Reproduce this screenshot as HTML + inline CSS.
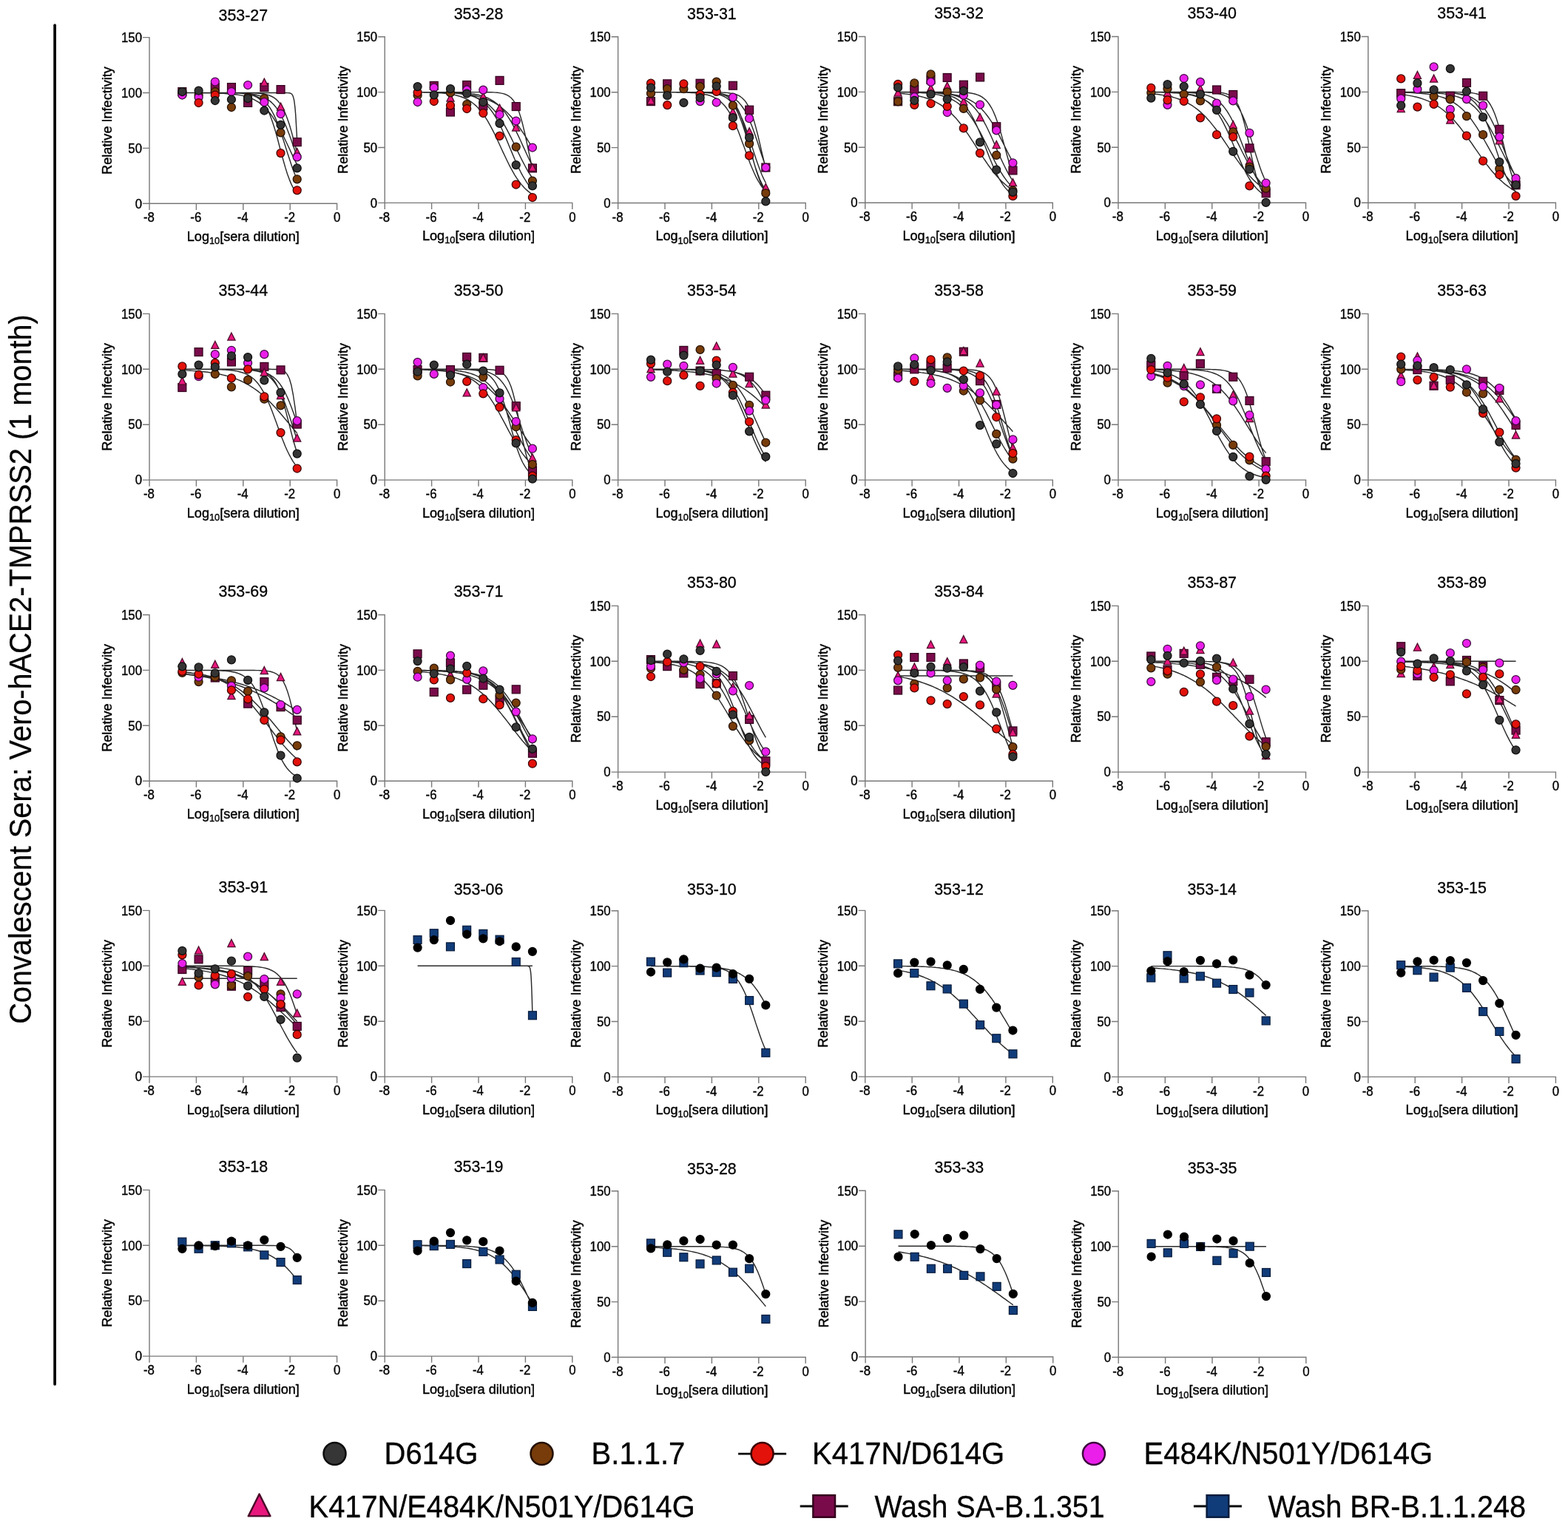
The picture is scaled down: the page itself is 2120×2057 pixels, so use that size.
<!DOCTYPE html>
<html lang="en"><head><meta charset="utf-8"><title>Convalescent Sera: Vero-hACE2-TMPRSS2 (1 month)</title>
<style>html,body{margin:0;padding:0;background:#fff}body{width:2120px;height:2057px;overflow:hidden}svg{display:block}text{white-space:pre;stroke:#000;stroke-linejoin:round}</style>
</head><body>
<svg width="2120" height="2057" viewBox="0 0 2120 2057" font-family='"Liberation Sans", sans-serif' fill="#000">
<rect width="2120" height="2057" fill="#fff"/>
<g>
<text transform="translate(328.8 28.4) scale(0.9434 1)" font-size="22.68" stroke-width="0.32" text-anchor="middle">353-27</text>
<path d="M202 49.9V275.3H456.3M193 275.3H202M193 200.4H202M193 125.5H202M193 50.6H202M202 275.3V283.9M265.4 275.3V283.9M328.8 275.3V283.9M392.2 275.3V283.9M455.6 275.3V283.9" fill="none" stroke="#787878" stroke-width="1.4"/>
<text transform="translate(192 281.5) scale(0.9615 1)" font-size="17.47" stroke-width="0.38" text-anchor="end">0</text>
<text transform="translate(192 206.6) scale(0.9615 1)" font-size="17.47" stroke-width="0.38" text-anchor="end">50</text>
<text transform="translate(192 131.7) scale(0.9615 1)" font-size="17.47" stroke-width="0.38" text-anchor="end">100</text>
<text transform="translate(192 56.8) scale(0.9615 1)" font-size="17.47" stroke-width="0.38" text-anchor="end">150</text>
<text transform="translate(201.4 300.4) scale(0.9615 1)" font-size="17.47" stroke-width="0.38" text-anchor="middle">-8</text>
<text transform="translate(264.8 300.4) scale(0.9615 1)" font-size="17.47" stroke-width="0.38" text-anchor="middle">-6</text>
<text transform="translate(328.2 300.4) scale(0.9615 1)" font-size="17.47" stroke-width="0.38" text-anchor="middle">-4</text>
<text transform="translate(391.6 300.4) scale(0.9615 1)" font-size="17.47" stroke-width="0.38" text-anchor="middle">-2</text>
<text transform="translate(455.6 300.4) scale(0.9615 1)" font-size="17.47" stroke-width="0.38" text-anchor="middle">0</text>
<text transform="translate(328.8 325.7) scale(0.9434 1)" font-size="19.19" stroke-width="0.42" text-anchor="middle">Log<tspan font-size="13.57" dy="4.6">10</tspan><tspan dy="-4.6">[sera dilution]</tspan></text>
<text transform="translate(151.4 163) rotate(-90) scale(0.9434 1)" font-size="19.19" stroke-width="0.42" text-anchor="middle">Relative Infectivity</text>
<path d="M246.4 125.5L249 125.5L251.6 125.5L254.3 125.5L256.9 125.5L259.5 125.5L262.2 125.5L264.8 125.5L267.4 125.5L270.1 125.5L272.7 125.5L275.3 125.5L278 125.5L280.6 125.5L283.2 125.5L285.9 125.5L288.5 125.5L291.1 125.5L293.8 125.5L296.4 125.5L299 125.5L301.7 125.5L304.3 125.5L306.9 125.5L309.6 125.5L312.2 125.5L314.8 125.5L317.5 125.5L320.1 125.5L322.7 125.5L325.4 125.5L328 125.5L330.6 125.5L333.3 125.5L335.9 125.5L338.5 125.5L341.2 125.5L343.8 125.5L346.4 125.5L349.1 125.5L351.7 125.5L354.3 125.5L357 125.5L359.6 125.5L362.2 125.5L364.9 125.5L367.5 125.5L370.1 125.5L370.4 125.5L370.9 125.5L371.5 125.5L372 125.5L372.5 125.5L372.8 125.5L373 125.5L373.6 125.5L374.1 125.5L374.6 125.5L375.2 125.5L375.4 125.5L375.7 125.5L376.2 125.5L376.8 125.5L377.3 125.5L377.8 125.5L378 125.5L378.4 125.5L378.9 125.5L379.4 125.5L379.9 125.5L380.5 125.5L380.6 125.5L381 125.5L381.5 125.5L382.1 125.5L382.6 125.5L383.1 125.5L383.3 125.5L383.7 125.5L384.2 125.5L384.7 125.5L385.3 125.5L385.8 125.5L385.9 125.5L386.3 125.5L386.8 125.5L387.4 125.5L387.9 125.5L388.4 125.6L388.5 125.6L389 125.6L389.5 125.6L390 125.6L390.6 125.7L391.1 125.8L391.2 125.8L391.6 125.8L392.2 126L392.7 126.1L393.2 126.4L393.7 126.7L393.8 126.7L394.3 127.1L394.8 127.6L395.3 128.4L395.9 129.4L396.4 130.8L396.4 130.9L396.9 132.6L397.5 135L398 138.2L398.5 142.3L399.1 147.4L399.1 147.7L399.6 153.8L400.1 161.6L400.6 170.7L401.2 181L401.7 192.2M246.4 125.5L249 125.5L251.6 125.5L254.3 125.5L256.9 125.5L259.5 125.5L262.2 125.5L264.8 125.5L267.4 125.5L270.1 125.5L272.7 125.5L275.3 125.5L278 125.5L280.6 125.5L283.2 125.5L285.9 125.5L288.5 125.5L291.1 125.5L293.8 125.5L296.4 125.5L299 125.5L301.7 125.5L304.3 125.5L306.9 125.5L309.6 125.5L312.2 125.5L314.8 125.5L317.5 125.5L320.1 125.5L322.7 125.5L325.4 125.6L328 125.6L330.6 125.6L333.3 125.6L335.9 125.7L338.5 125.8L341.2 125.8L343.8 125.9L346.4 126.1L349.1 126.3L351.7 126.5L354.3 126.8L357 127.2L359.6 127.7L362.2 128.4L364.9 129.3L367.5 130.5L370.1 131.9L372.8 133.9L375.4 136.3L378 139.4L380.6 143.2L383.3 147.9L385.9 153.7L388.5 160.5L391.2 168.3L393.8 177.1L396.4 186.7L399.1 196.8L401.7 207.1M246.4 125.5L249 125.5L251.6 125.5L254.3 125.5L256.9 125.5L259.5 125.5L262.2 125.5L264.8 125.5L267.4 125.5L270.1 125.5L272.7 125.5L275.3 125.5L278 125.5L280.6 125.5L283.2 125.5L285.9 125.5L288.5 125.5L291.1 125.5L293.8 125.6L296.4 125.6L299 125.6L301.7 125.6L304.3 125.6L306.9 125.7L309.6 125.7L312.2 125.8L314.8 125.8L317.5 125.9L320.1 126L322.7 126.1L325.4 126.3L328 126.5L330.6 126.8L333.3 127.1L335.9 127.5L338.5 127.9L341.2 128.6L343.8 129.3L346.4 130.2L349.1 131.4L351.7 132.8L354.3 134.5L357 136.6L359.6 139.1L362.2 142.1L364.9 145.7L367.5 150L370.1 154.9L372.8 160.6L375.4 167L378 174L380.6 181.6L383.3 189.7L385.9 198L388.5 206.4L391.2 214.6L393.8 222.5L396.4 229.9L399.1 236.7L401.7 242.7M246.4 125.5L249 125.5L251.6 125.5L254.3 125.5L256.9 125.5L259.5 125.5L262.2 125.5L264.8 125.5L267.4 125.5L270.1 125.5L272.7 125.5L275.3 125.5L278 125.5L280.6 125.5L283.2 125.5L285.9 125.5L288.5 125.5L291.1 125.5L293.8 125.5L296.4 125.6L299 125.6L301.7 125.6L304.3 125.6L306.9 125.6L309.6 125.7L312.2 125.7L314.8 125.8L317.5 125.8L320.1 125.9L322.7 126L325.4 126.1L328 126.2L330.6 126.4L333.3 126.5L335.9 126.8L338.5 127.1L341.2 127.4L343.8 127.8L346.4 128.3L349.1 129L351.7 129.7L354.3 130.6L357 131.8L359.6 133.1L362.2 134.7L364.9 136.6L367.5 138.9L370.1 141.6L372.8 144.7L375.4 148.4L378 152.6L380.6 157.4L383.3 162.8L385.9 168.8L388.5 175.3L391.2 182.2L393.8 189.5L396.4 197.1L399.1 204.7L401.7 212.2M246.4 125.5L249 125.5L251.6 125.5L254.3 125.5L256.9 125.5L259.5 125.5L262.2 125.5L264.8 125.5L267.4 125.5L270.1 125.5L272.7 125.5L275.3 125.5L278 125.5L280.6 125.5L283.2 125.5L285.9 125.5L288.5 125.5L291.1 125.5L293.8 125.5L296.4 125.5L299 125.5L301.7 125.6L304.3 125.6L306.9 125.6L309.6 125.6L312.2 125.7L314.8 125.7L317.5 125.8L320.1 125.9L322.7 126L325.4 126.2L328 126.4L330.6 126.6L333.3 127L335.9 127.4L338.5 128L341.2 128.8L343.8 129.8L346.4 131L349.1 132.6L351.7 134.7L354.3 137.3L357 140.5L359.6 144.5L362.2 149.4L364.9 155.3L367.5 162.2L370.1 170L372.8 178.8L375.4 188.3L378 198.2L380.6 208.1L383.3 217.8L385.9 226.9L388.5 235.2L391.2 242.6L393.8 248.9L396.4 254.2L399.1 258.6L401.7 262.2M246.4 125.5L249 125.5L251.6 125.6L254.3 125.6L256.9 125.6L259.5 125.6L262.2 125.6L264.8 125.6L267.4 125.6L270.1 125.6L272.7 125.7L275.3 125.7L278 125.7L280.6 125.8L283.2 125.8L285.9 125.9L288.5 125.9L291.1 126L293.8 126.1L296.4 126.2L299 126.3L301.7 126.4L304.3 126.5L306.9 126.7L309.6 126.9L312.2 127.1L314.8 127.4L317.5 127.7L320.1 128L322.7 128.4L325.4 128.9L328 129.4L330.6 130.1L333.3 130.8L335.9 131.6L338.5 132.6L341.2 133.6L343.8 134.9L346.4 136.3L349.1 137.9L351.7 139.8L354.3 141.8L357 144.2L359.6 146.8L362.2 149.7L364.9 152.9L367.5 156.4L370.1 160.3L372.8 164.5L375.4 169L378 173.8L380.6 178.9L383.3 184.2L385.9 189.7L388.5 195.3L391.2 200.9L393.8 206.6L396.4 212.1L399.1 217.6L401.7 222.9" fill="none" stroke="#2b2b2b" stroke-width="1.45" stroke-linejoin="round"/>
<g fill="#7a0b4b" stroke="#33001c" stroke-width="1.25" fill-opacity="1"><rect x="240.9" y="118.6" width="10.9" height="10.9"/><rect x="285.3" y="112.6" width="10.9" height="10.9"/><rect x="307.5" y="112.6" width="10.9" height="10.9"/><rect x="329.7" y="133.5" width="10.9" height="10.9"/><rect x="351.9" y="112.6" width="10.9" height="10.9"/><rect x="374.1" y="115.6" width="10.9" height="10.9"/><rect x="396.3" y="186.7" width="10.9" height="10.9"/></g>
<g fill="#e8177d" stroke="#4a0a28" stroke-width="1.25" fill-opacity="1"><path d="M357.3 106.1L362.4 116.2L352.2 116.2Z"/><path d="M379.5 139.1L384.6 149.2L374.4 149.2Z"/><path d="M401.7 200.5L406.8 210.6L396.6 210.6Z"/></g>
<g fill="#773c0a" stroke="#241000" stroke-width="1.25" fill-opacity="1"><circle cx="246.4" cy="125.5" r="5.5"/><circle cx="268.6" cy="128.5" r="5.5"/><circle cx="290.8" cy="124" r="5.5"/><circle cx="312.9" cy="145" r="5.5"/><circle cx="335.1" cy="131.5" r="5.5"/><circle cx="357.3" cy="133" r="5.5"/><circle cx="379.5" cy="179.4" r="5.5"/><circle cx="401.7" cy="242.3" r="5.5"/></g>
<g fill="#ea1fea" stroke="#3d0a3d" stroke-width="1.25" fill-opacity="1"><circle cx="246.4" cy="128.5" r="5.5"/><circle cx="268.6" cy="131.5" r="5.5"/><circle cx="290.8" cy="110.5" r="5.5"/><circle cx="312.9" cy="124" r="5.5"/><circle cx="335.1" cy="115" r="5.5"/><circle cx="357.3" cy="138.2" r="5.5"/><circle cx="379.5" cy="154" r="5.5"/><circle cx="401.7" cy="212.4" r="5.5"/></g>
<g fill="#e3120b" stroke="#3c0000" stroke-width="1.25" fill-opacity="1"><circle cx="268.6" cy="139" r="5.5"/><circle cx="290.8" cy="128.5" r="5.5"/><circle cx="379.5" cy="207.1" r="5.5"/><circle cx="401.7" cy="257.3" r="5.5"/></g>
<g fill="#343434" stroke="#0d0d0d" stroke-width="1.25" fill-opacity="1"><circle cx="246.4" cy="124" r="5.5"/><circle cx="268.6" cy="122.5" r="5.5"/><circle cx="290.8" cy="136" r="5.5"/><circle cx="312.9" cy="134.5" r="5.5"/><circle cx="335.1" cy="133" r="5.5"/><circle cx="357.3" cy="149.5" r="5.5"/><circle cx="379.5" cy="168.9" r="5.5"/><circle cx="401.7" cy="227.4" r="5.5"/></g>
</g>
<g>
<text transform="translate(647 26.3) scale(0.9434 1)" font-size="22.68" stroke-width="0.32" text-anchor="middle">353-28</text>
<path d="M520.2 49V274.4H774.5M511.2 274.4H520.2M511.2 199.5H520.2M511.2 124.6H520.2M511.2 49.7H520.2M520.2 274.4V283M583.6 274.4V283M647 274.4V283M710.4 274.4V283M773.8 274.4V283" fill="none" stroke="#787878" stroke-width="1.4"/>
<text transform="translate(510.2 280.6) scale(0.9615 1)" font-size="17.47" stroke-width="0.38" text-anchor="end">0</text>
<text transform="translate(510.2 205.7) scale(0.9615 1)" font-size="17.47" stroke-width="0.38" text-anchor="end">50</text>
<text transform="translate(510.2 130.8) scale(0.9615 1)" font-size="17.47" stroke-width="0.38" text-anchor="end">100</text>
<text transform="translate(510.2 55.9) scale(0.9615 1)" font-size="17.47" stroke-width="0.38" text-anchor="end">150</text>
<text transform="translate(519.6 299.5) scale(0.9615 1)" font-size="17.47" stroke-width="0.38" text-anchor="middle">-8</text>
<text transform="translate(583 299.5) scale(0.9615 1)" font-size="17.47" stroke-width="0.38" text-anchor="middle">-6</text>
<text transform="translate(646.4 299.5) scale(0.9615 1)" font-size="17.47" stroke-width="0.38" text-anchor="middle">-4</text>
<text transform="translate(709.8 299.5) scale(0.9615 1)" font-size="17.47" stroke-width="0.38" text-anchor="middle">-2</text>
<text transform="translate(773.8 299.5) scale(0.9615 1)" font-size="17.47" stroke-width="0.38" text-anchor="middle">0</text>
<text transform="translate(647 324.8) scale(0.9434 1)" font-size="19.19" stroke-width="0.42" text-anchor="middle">Log<tspan font-size="13.57" dy="4.6">10</tspan><tspan dy="-4.6">[sera dilution]</tspan></text>
<text transform="translate(469.6 162) rotate(-90) scale(0.9434 1)" font-size="19.19" stroke-width="0.42" text-anchor="middle">Relative Infectivity</text>
<path d="M564.6 124.6L567.2 124.6L569.8 124.6L572.5 124.6L575.1 124.6L577.7 124.6L580.4 124.6L583 124.6L585.6 124.6L588.3 124.6L590.9 124.6L593.5 124.6L596.2 124.6L598.8 124.6L601.4 124.6L604.1 124.6L606.7 124.6L609.3 124.6L612 124.6L614.6 124.6L617.2 124.6L619.9 124.6L622.5 124.6L625.1 124.6L627.8 124.6L630.4 124.6L633 124.6L635.7 124.6L638.3 124.6L640.9 124.6L643.6 124.6L646.2 124.6L648.8 124.6L651.5 124.6L654.1 124.6L656.7 124.7L659.4 124.7L662 124.8L664.6 124.8L667.3 124.9L669.9 125.1L672.5 125.3L675.2 125.6L677.8 126.1L680.4 126.6L683.1 127.5L685.7 128.6L688.3 130.2L691 132.3L693.6 135.2L696.2 139.1L698.8 144.1L701.5 150.6L704.1 158.7L706.7 168.3L709.4 179.5L712 191.6L714.6 204.2L717.3 216.6L719.9 228M564.6 124.6L567.2 124.6L569.8 124.6L572.5 124.6L575.1 124.6L577.7 124.6L580.4 124.6L583 124.6L585.6 124.7L588.3 124.7L590.9 124.7L593.5 124.7L596.2 124.8L598.8 124.8L601.4 124.8L604.1 124.9L606.7 124.9L609.3 125L612 125.1L614.6 125.1L617.2 125.2L619.9 125.4L622.5 125.5L625.1 125.7L627.8 125.8L630.4 126.1L633 126.3L635.7 126.6L638.3 126.9L640.9 127.3L643.6 127.8L646.2 128.3L648.8 129L651.5 129.7L654.1 130.5L656.7 131.5L659.4 132.5L662 133.8L664.6 135.3L667.3 136.9L669.9 138.8L672.5 140.9L675.2 143.3L677.8 146L680.4 149.1L683.1 152.4L685.7 156.1L688.3 160.2L691 164.5L693.6 169.3L696.2 174.3L698.8 179.6L701.5 185.1L704.1 190.8L706.7 196.6L709.4 202.4L712 208.2L714.6 213.8L717.3 219.4L719.9 224.6M564.6 124.6L567.2 124.7L569.8 124.7L572.5 124.7L575.1 124.7L577.7 124.7L580.4 124.8L583 124.8L585.6 124.9L588.3 124.9L590.9 125L593.5 125L596.2 125.1L598.8 125.2L601.4 125.3L604.1 125.4L606.7 125.5L609.3 125.7L612 125.8L614.6 126L617.2 126.3L619.9 126.5L622.5 126.9L625.1 127.2L627.8 127.6L630.4 128.1L633 128.6L635.7 129.3L638.3 130L640.9 130.8L643.6 131.7L646.2 132.8L648.8 134L651.5 135.4L654.1 136.9L656.7 138.7L659.4 140.7L662 142.9L664.6 145.4L667.3 148.2L669.9 151.2L672.5 154.6L675.2 158.3L677.8 162.2L680.4 166.5L683.1 171.1L685.7 175.9L688.3 180.9L691 186.2L693.6 191.5L696.2 197L698.8 202.4L701.5 207.9L704.1 213.2L706.7 218.4L709.4 223.5L712 228.3L714.6 232.8L717.3 237L719.9 241M564.6 124.7L567.2 124.7L569.8 124.8L572.5 124.8L575.1 124.8L577.7 124.9L580.4 124.9L583 124.9L585.6 125L588.3 125L590.9 125.1L593.5 125.2L596.2 125.2L598.8 125.3L601.4 125.4L604.1 125.5L606.7 125.6L609.3 125.8L612 125.9L614.6 126.1L617.2 126.3L619.9 126.5L622.5 126.7L625.1 126.9L627.8 127.2L630.4 127.5L633 127.9L635.7 128.3L638.3 128.7L640.9 129.2L643.6 129.8L646.2 130.4L648.8 131.1L651.5 131.8L654.1 132.7L656.7 133.6L659.4 134.6L662 135.8L664.6 137L667.3 138.4L669.9 139.9L672.5 141.5L675.2 143.4L677.8 145.3L680.4 147.5L683.1 149.8L685.7 152.3L688.3 155L691 157.8L693.6 160.9L696.2 164.2L698.8 167.6L701.5 171.2L704.1 175L706.7 178.9L709.4 182.9L712 187L714.6 191.3L717.3 195.5L719.9 199.8M564.6 124.8L567.2 124.8L569.8 124.8L572.5 124.9L575.1 124.9L577.7 125L580.4 125.1L583 125.2L585.6 125.3L588.3 125.4L590.9 125.5L593.5 125.7L596.2 125.9L598.8 126.1L601.4 126.4L604.1 126.6L606.7 127L609.3 127.4L612 127.8L614.6 128.4L617.2 129L619.9 129.7L622.5 130.5L625.1 131.5L627.8 132.5L630.4 133.8L633 135.2L635.7 136.8L638.3 138.7L640.9 140.7L643.6 143.1L646.2 145.7L648.8 148.7L651.5 151.9L654.1 155.5L656.7 159.4L659.4 163.7L662 168.3L664.6 173.2L667.3 178.3L669.9 183.7L672.5 189.3L675.2 195L677.8 200.7L680.4 206.4L683.1 212L685.7 217.5L688.3 222.8L691 227.9L693.6 232.6L696.2 237.1L698.8 241.2L701.5 245L704.1 248.4L706.7 251.6L709.4 254.4L712 256.9L714.6 259.1L717.3 261.1L719.9 262.8M564.6 124.6L567.2 124.6L569.8 124.6L572.5 124.6L575.1 124.6L577.7 124.7L580.4 124.7L583 124.7L585.6 124.7L588.3 124.8L590.9 124.8L593.5 124.9L596.2 124.9L598.8 125L601.4 125.1L604.1 125.2L606.7 125.3L609.3 125.4L612 125.6L614.6 125.8L617.2 126L619.9 126.2L622.5 126.6L625.1 126.9L627.8 127.3L630.4 127.8L633 128.4L635.7 129.1L638.3 130L640.9 130.9L643.6 132L646.2 133.3L648.8 134.9L651.5 136.6L654.1 138.6L656.7 140.9L659.4 143.6L662 146.6L664.6 150L667.3 153.8L669.9 158L672.5 162.6L675.2 167.6L677.8 173L680.4 178.7L683.1 184.7L685.7 190.9L688.3 197.2L691 203.6L693.6 209.9L696.2 216L698.8 221.9L701.5 227.6L704.1 232.8L706.7 237.7L709.4 242.2L712 246.3L714.6 250L717.3 253.2L719.9 256.1" fill="none" stroke="#2b2b2b" stroke-width="1.45" stroke-linejoin="round"/>
<g fill="#7a0b4b" stroke="#33001c" stroke-width="1.25" fill-opacity="1"><rect x="581.3" y="110.4" width="10.9" height="10.9"/><rect x="603.5" y="146.1" width="10.9" height="10.9"/><rect x="625.7" y="109.5" width="10.9" height="10.9"/><rect x="647.9" y="138" width="10.9" height="10.9"/><rect x="670.1" y="103.4" width="10.9" height="10.9"/><rect x="692.3" y="138.6" width="10.9" height="10.9"/><rect x="714.5" y="222" width="10.9" height="10.9"/></g>
<g fill="#e8177d" stroke="#4a0a28" stroke-width="1.25" fill-opacity="1"><path d="M609 126.9L614.1 137L603.9 137Z"/><path d="M653.3 125.1L658.4 135.2L648.2 135.2Z"/><path d="M675.5 141.1L680.6 151.2L670.4 151.2Z"/><path d="M697.7 167L702.8 177.1L692.6 177.1Z"/><path d="M719.9 221.3L725 231.4L714.8 231.4Z"/></g>
<g fill="#773c0a" stroke="#241000" stroke-width="1.25" fill-opacity="1"><circle cx="564.6" cy="129" r="5.5"/><circle cx="609" cy="125.4" r="5.5"/><circle cx="631.2" cy="141" r="5.5"/><circle cx="697.7" cy="198.6" r="5.5"/><circle cx="719.9" cy="244.5" r="5.5"/></g>
<g fill="#ea1fea" stroke="#3d0a3d" stroke-width="1.25" fill-opacity="1"><circle cx="564.6" cy="138" r="5.5"/><circle cx="586.8" cy="118.6" r="5.5"/><circle cx="631.2" cy="121.6" r="5.5"/><circle cx="653.3" cy="121.6" r="5.5"/><circle cx="675.5" cy="155" r="5.5"/><circle cx="697.7" cy="163.5" r="5.5"/><circle cx="719.9" cy="199.5" r="5.5"/></g>
<g fill="#e3120b" stroke="#3c0000" stroke-width="1.25" fill-opacity="1"><circle cx="564.6" cy="125" r="5.5"/><circle cx="586.8" cy="137" r="5.5"/><circle cx="609" cy="142.5" r="5.5"/><circle cx="631.2" cy="147" r="5.5"/><circle cx="653.3" cy="153" r="5.5"/><circle cx="675.5" cy="183.9" r="5.5"/><circle cx="697.7" cy="249.5" r="5.5"/><circle cx="719.9" cy="267" r="5.5"/></g>
<g fill="#343434" stroke="#0d0d0d" stroke-width="1.25" fill-opacity="1"><circle cx="564.6" cy="117.1" r="5.5"/><circle cx="586.8" cy="128.3" r="5.5"/><circle cx="609" cy="120.1" r="5.5"/><circle cx="631.2" cy="126.5" r="5.5"/><circle cx="653.3" cy="138" r="5.5"/><circle cx="675.5" cy="166.9" r="5.5"/><circle cx="697.7" cy="223.1" r="5.5"/><circle cx="719.9" cy="251.4" r="5.5"/></g>
</g>
<g>
<text transform="translate(962.4 26.3) scale(0.9434 1)" font-size="22.68" stroke-width="0.32" text-anchor="middle">353-31</text>
<path d="M835.6 49.1V274.5H1089.9M826.6 274.5H835.6M826.6 199.6H835.6M826.6 124.7H835.6M826.6 49.8H835.6M835.6 274.5V283.1M899 274.5V283.1M962.4 274.5V283.1M1025.8 274.5V283.1M1089.2 274.5V283.1" fill="none" stroke="#787878" stroke-width="1.4"/>
<text transform="translate(825.6 280.7) scale(0.9615 1)" font-size="17.47" stroke-width="0.38" text-anchor="end">0</text>
<text transform="translate(825.6 205.8) scale(0.9615 1)" font-size="17.47" stroke-width="0.38" text-anchor="end">50</text>
<text transform="translate(825.6 130.9) scale(0.9615 1)" font-size="17.47" stroke-width="0.38" text-anchor="end">100</text>
<text transform="translate(825.6 56) scale(0.9615 1)" font-size="17.47" stroke-width="0.38" text-anchor="end">150</text>
<text transform="translate(835 299.6) scale(0.9615 1)" font-size="17.47" stroke-width="0.38" text-anchor="middle">-8</text>
<text transform="translate(898.4 299.6) scale(0.9615 1)" font-size="17.47" stroke-width="0.38" text-anchor="middle">-6</text>
<text transform="translate(961.8 299.6) scale(0.9615 1)" font-size="17.47" stroke-width="0.38" text-anchor="middle">-4</text>
<text transform="translate(1025.2 299.6) scale(0.9615 1)" font-size="17.47" stroke-width="0.38" text-anchor="middle">-2</text>
<text transform="translate(1089.2 299.6) scale(0.9615 1)" font-size="17.47" stroke-width="0.38" text-anchor="middle">0</text>
<text transform="translate(962.4 324.9) scale(0.9434 1)" font-size="19.19" stroke-width="0.42" text-anchor="middle">Log<tspan font-size="13.57" dy="4.6">10</tspan><tspan dy="-4.6">[sera dilution]</tspan></text>
<text transform="translate(785 162.2) rotate(-90) scale(0.9434 1)" font-size="19.19" stroke-width="0.42" text-anchor="middle">Relative Infectivity</text>
<path d="M880 124.7L882.6 124.7L885.2 124.7L887.9 124.7L890.5 124.7L893.1 124.7L895.8 124.7L898.4 124.7L901 124.7L903.7 124.7L906.3 124.7L908.9 124.7L911.6 124.7L914.2 124.7L916.8 124.7L919.5 124.7L922.1 124.7L924.7 124.7L927.4 124.7L930 124.7L932.6 124.7L935.3 124.7L937.9 124.7L940.5 124.7L943.2 124.7L945.8 124.7L948.4 124.7L951.1 124.7L953.7 124.7L956.3 124.7L959 124.7L961.6 124.8L964.2 124.8L966.9 124.8L969.5 124.9L972.1 124.9L974.8 125L977.4 125.1L980 125.2L982.7 125.4L985.3 125.7L987.9 126.1L990.6 126.5L993.2 127.2L995.8 128L998.5 129.2L1001.1 130.7L1003.7 132.7L1006.4 135.4L1009 138.8L1011.6 143.2L1014.2 148.7L1016.9 155.5L1019.5 163.6L1022.1 172.9L1024.8 183.4L1027.4 194.5L1030 205.9L1032.7 217L1035.3 227.3M880 124.7L882.6 124.7L885.2 124.7L887.9 124.7L890.5 124.7L893.1 124.7L895.8 124.7L898.4 124.7L901 124.7L903.7 124.7L906.3 124.7L908.9 124.7L911.6 124.7L914.2 124.7L916.8 124.7L919.5 124.7L922.1 124.8L924.7 124.8L927.4 124.8L930 124.8L932.6 124.8L935.3 124.9L937.9 124.9L940.5 125L943.2 125L945.8 125.1L948.4 125.2L951.1 125.3L953.7 125.4L956.3 125.6L959 125.9L961.6 126.1L964.2 126.5L966.9 126.9L969.5 127.5L972.1 128.1L974.8 128.9L977.4 129.9L980 131.2L982.7 132.7L985.3 134.5L987.9 136.7L990.6 139.3L993.2 142.5L995.8 146.3L998.5 150.6L1001.1 155.7L1003.7 161.4L1006.4 167.8L1009 174.9L1011.6 182.4L1014.2 190.4L1016.9 198.5L1019.5 206.7L1022.1 214.8L1024.8 222.4L1027.4 229.6L1030 236.2L1032.7 242.1L1035.3 247.3M880 124.7L882.6 124.7L885.2 124.7L887.9 124.7L890.5 124.7L893.1 124.7L895.8 124.7L898.4 124.7L901 124.7L903.7 124.7L906.3 124.7L908.9 124.7L911.6 124.7L914.2 124.7L916.8 124.7L919.5 124.7L922.1 124.7L924.7 124.7L927.4 124.7L930 124.7L932.6 124.7L935.3 124.7L937.9 124.8L940.5 124.8L943.2 124.8L945.8 124.8L948.4 124.9L951.1 124.9L953.7 125L956.3 125.1L959 125.2L961.6 125.3L964.2 125.5L966.9 125.8L969.5 126.1L972.1 126.6L974.8 127.1L977.4 127.9L980 128.9L982.7 130.1L985.3 131.8L987.9 133.9L990.6 136.6L993.2 139.9L995.8 144.1L998.5 149.3L1001.1 155.4L1003.7 162.7L1006.4 171L1009 180.2L1011.6 190.1L1014.2 200.3L1016.9 210.5L1019.5 220.3L1022.1 229.4L1024.8 237.6L1027.4 244.7L1030 250.7L1032.7 255.7L1035.3 259.8M880 124.7L882.6 124.7L885.2 124.7L887.9 124.7L890.5 124.7L893.1 124.7L895.8 124.7L898.4 124.7L901 124.7L903.7 124.7L906.3 124.7L908.9 124.7L911.6 124.7L914.2 124.7L916.8 124.7L919.5 124.7L922.1 124.7L924.7 124.7L927.4 124.7L930 124.8L932.6 124.8L935.3 124.8L937.9 124.8L940.5 124.8L943.2 124.9L945.8 124.9L948.4 124.9L951.1 125L953.7 125.1L956.3 125.2L959 125.3L961.6 125.4L964.2 125.6L966.9 125.8L969.5 126L972.1 126.4L974.8 126.8L977.4 127.3L980 127.9L982.7 128.6L985.3 129.5L987.9 130.7L990.6 132L993.2 133.7L995.8 135.7L998.5 138.1L1001.1 141.1L1003.7 144.5L1006.4 148.5L1009 153.2L1011.6 158.5L1014.2 164.6L1016.9 171.2L1019.5 178.5L1022.1 186.1L1024.8 194.1L1027.4 202.3L1030 210.3L1032.7 218.1L1035.3 225.5M880 124.7L882.6 124.7L885.2 124.7L887.9 124.7L890.5 124.7L893.1 124.7L895.8 124.7L898.4 124.8L901 124.8L903.7 124.8L906.3 124.8L908.9 124.8L911.6 124.8L914.2 124.9L916.8 124.9L919.5 124.9L922.1 125L924.7 125.1L927.4 125.1L930 125.2L932.6 125.3L935.3 125.5L937.9 125.6L940.5 125.8L943.2 126.1L945.8 126.4L948.4 126.7L951.1 127.1L953.7 127.7L956.3 128.3L959 129L961.6 129.9L964.2 131L966.9 132.3L969.5 133.9L972.1 135.7L974.8 137.9L977.4 140.4L980 143.3L982.7 146.8L985.3 150.7L987.9 155.2L990.6 160.2L993.2 165.7L995.8 171.8L998.5 178.3L1001.1 185.2L1003.7 192.4L1006.4 199.6L1009 206.9L1011.6 214.1L1014.2 221L1016.9 227.5L1019.5 233.5L1022.1 239.1L1024.8 244.1L1027.4 248.5L1030 252.5L1032.7 255.9L1035.3 258.8M880 124.7L882.6 124.7L885.2 124.7L887.9 124.7L890.5 124.7L893.1 124.7L895.8 124.7L898.4 124.7L901 124.7L903.7 124.7L906.3 124.7L908.9 124.7L911.6 124.7L914.2 124.7L916.8 124.7L919.5 124.7L922.1 124.7L924.7 124.7L927.4 124.7L930 124.8L932.6 124.8L935.3 124.8L937.9 124.8L940.5 124.9L943.2 124.9L945.8 125L948.4 125L951.1 125.1L953.7 125.3L956.3 125.4L959 125.6L961.6 125.9L964.2 126.2L966.9 126.6L969.5 127.1L972.1 127.8L974.8 128.6L977.4 129.7L980 131L982.7 132.7L985.3 134.8L987.9 137.4L990.6 140.5L993.2 144.4L995.8 149L998.5 154.4L1001.1 160.7L1003.7 167.8L1006.4 175.8L1009 184.3L1011.6 193.4L1014.2 202.6L1016.9 211.7L1019.5 220.4L1022.1 228.6L1024.8 236.1L1027.4 242.7L1030 248.4L1032.7 253.3L1035.3 257.4" fill="none" stroke="#2b2b2b" stroke-width="1.45" stroke-linejoin="round"/>
<g fill="#7a0b4b" stroke="#33001c" stroke-width="1.25" fill-opacity="1"><rect x="874.5" y="131.7" width="10.9" height="10.9"/><rect x="896.7" y="107.9" width="10.9" height="10.9"/><rect x="941.1" y="107.3" width="10.9" height="10.9"/><rect x="985.5" y="110.3" width="10.9" height="10.9"/><rect x="1007.7" y="143.2" width="10.9" height="10.9"/><rect x="1029.9" y="221.1" width="10.9" height="10.9"/></g>
<g fill="#e8177d" stroke="#4a0a28" stroke-width="1.25" fill-opacity="1"><path d="M880 130.8L885.1 140.9L874.9 140.9Z"/><path d="M990.9 145.8L996 155.9L985.8 155.9Z"/><path d="M1013.1 172.7L1018.2 182.8L1008 182.8Z"/><path d="M1035.3 248.1L1040.4 258.2L1030.2 258.2Z"/></g>
<g fill="#773c0a" stroke="#241000" stroke-width="1.25" fill-opacity="1"><circle cx="880" cy="126.2" r="5.5"/><circle cx="902.2" cy="120.2" r="5.5"/><circle cx="924.4" cy="120.2" r="5.5"/><circle cx="946.6" cy="117.2" r="5.5"/><circle cx="968.7" cy="110.5" r="5.5"/><circle cx="990.9" cy="142.7" r="5.5"/><circle cx="1013.1" cy="194.2" r="5.5"/><circle cx="1035.3" cy="261.3" r="5.5"/></g>
<g fill="#ea1fea" stroke="#3d0a3d" stroke-width="1.25" fill-opacity="1"><circle cx="946.6" cy="137.1" r="5.5"/><circle cx="968.7" cy="138.5" r="5.5"/><circle cx="990.9" cy="131.6" r="5.5"/><circle cx="1013.1" cy="160.2" r="5.5"/><circle cx="1035.3" cy="226.6" r="5.5"/></g>
<g fill="#e3120b" stroke="#3c0000" stroke-width="1.25" fill-opacity="1"><circle cx="880" cy="112.7" r="5.5"/><circle cx="902.2" cy="142.1" r="5.5"/><circle cx="924.4" cy="113.3" r="5.5"/><circle cx="946.6" cy="127.7" r="5.5"/><circle cx="968.7" cy="123.8" r="5.5"/><circle cx="990.9" cy="170.2" r="5.5"/><circle cx="1013.1" cy="210.4" r="5.5"/></g>
<g fill="#343434" stroke="#0d0d0d" stroke-width="1.25" fill-opacity="1"><circle cx="880" cy="118.7" r="5.5"/><circle cx="902.2" cy="129.2" r="5.5"/><circle cx="924.4" cy="138.9" r="5.5"/><circle cx="946.6" cy="132.2" r="5.5"/><circle cx="968.7" cy="116.5" r="5.5"/><circle cx="990.9" cy="159.2" r="5.5"/><circle cx="1013.1" cy="186.1" r="5.5"/><circle cx="1035.3" cy="272.3" r="5.5"/></g>
</g>
<g>
<text transform="translate(1296.5 24.8) scale(0.9434 1)" font-size="22.68" stroke-width="0.32" text-anchor="middle">353-32</text>
<path d="M1169.7 48.8V274.2H1424M1160.7 274.2H1169.7M1160.7 199.3H1169.7M1160.7 124.4H1169.7M1160.7 49.5H1169.7M1169.7 274.2V282.8M1233.1 274.2V282.8M1296.5 274.2V282.8M1359.9 274.2V282.8M1423.3 274.2V282.8" fill="none" stroke="#787878" stroke-width="1.4"/>
<text transform="translate(1159.7 280.4) scale(0.9615 1)" font-size="17.47" stroke-width="0.38" text-anchor="end">0</text>
<text transform="translate(1159.7 205.5) scale(0.9615 1)" font-size="17.47" stroke-width="0.38" text-anchor="end">50</text>
<text transform="translate(1159.7 130.6) scale(0.9615 1)" font-size="17.47" stroke-width="0.38" text-anchor="end">100</text>
<text transform="translate(1159.7 55.7) scale(0.9615 1)" font-size="17.47" stroke-width="0.38" text-anchor="end">150</text>
<text transform="translate(1169.1 299.3) scale(0.9615 1)" font-size="17.47" stroke-width="0.38" text-anchor="middle">-8</text>
<text transform="translate(1232.5 299.3) scale(0.9615 1)" font-size="17.47" stroke-width="0.38" text-anchor="middle">-6</text>
<text transform="translate(1295.9 299.3) scale(0.9615 1)" font-size="17.47" stroke-width="0.38" text-anchor="middle">-4</text>
<text transform="translate(1359.3 299.3) scale(0.9615 1)" font-size="17.47" stroke-width="0.38" text-anchor="middle">-2</text>
<text transform="translate(1423.3 299.3) scale(0.9615 1)" font-size="17.47" stroke-width="0.38" text-anchor="middle">0</text>
<text transform="translate(1296.5 324.6) scale(0.9434 1)" font-size="19.19" stroke-width="0.42" text-anchor="middle">Log<tspan font-size="13.57" dy="4.6">10</tspan><tspan dy="-4.6">[sera dilution]</tspan></text>
<text transform="translate(1119.1 161.8) rotate(-90) scale(0.9434 1)" font-size="19.19" stroke-width="0.42" text-anchor="middle">Relative Infectivity</text>
<path d="M1214.1 124.4L1216.7 124.4L1219.3 124.4L1222 124.4L1224.6 124.4L1227.2 124.4L1229.9 124.4L1232.5 124.4L1235.1 124.4L1237.8 124.4L1240.4 124.4L1243 124.4L1245.7 124.4L1248.3 124.4L1250.9 124.4L1253.6 124.4L1256.2 124.4L1258.8 124.4L1261.5 124.4L1264.1 124.4L1266.7 124.4L1269.4 124.4L1272 124.4L1274.6 124.4L1277.3 124.4L1279.9 124.5L1282.5 124.5L1285.2 124.5L1287.8 124.5L1290.4 124.6L1293.1 124.6L1295.7 124.7L1298.3 124.8L1301 124.9L1303.6 125.1L1306.2 125.3L1308.9 125.5L1311.5 125.8L1314.1 126.3L1316.8 126.8L1319.4 127.5L1322 128.4L1324.7 129.5L1327.3 130.9L1329.9 132.8L1332.6 135.1L1335.2 137.9L1337.8 141.5L1340.5 145.8L1343.1 151L1345.7 157.1L1348.3 164.3L1351 172.3L1353.6 181.1L1356.2 190.4L1358.9 200.1L1361.5 209.7L1364.1 219L1366.8 227.7L1369.4 235.5M1214.1 124.4L1216.7 124.5L1219.3 124.5L1222 124.5L1224.6 124.5L1227.2 124.5L1229.9 124.5L1232.5 124.5L1235.1 124.6L1237.8 124.6L1240.4 124.6L1243 124.7L1245.7 124.7L1248.3 124.8L1250.9 124.8L1253.6 124.9L1256.2 125L1258.8 125.1L1261.5 125.2L1264.1 125.3L1266.7 125.5L1269.4 125.7L1272 125.9L1274.6 126.2L1277.3 126.5L1279.9 126.8L1282.5 127.3L1285.2 127.7L1287.8 128.3L1290.4 129L1293.1 129.8L1295.7 130.7L1298.3 131.7L1301 132.9L1303.6 134.3L1306.2 135.9L1308.9 137.8L1311.5 139.9L1314.1 142.3L1316.8 145L1319.4 148L1322 151.4L1324.7 155.2L1327.3 159.4L1329.9 163.9L1332.6 168.8L1335.2 174L1337.8 179.5L1340.5 185.3L1343.1 191.2L1345.7 197.2L1348.3 203.3L1351 209.3L1353.6 215.2L1356.2 220.8L1358.9 226.3L1361.5 231.4L1364.1 236.2L1366.8 240.6L1369.4 244.6M1214.1 124.6L1216.7 124.6L1219.3 124.7L1222 124.7L1224.6 124.8L1227.2 124.8L1229.9 124.9L1232.5 125L1235.1 125L1237.8 125.1L1240.4 125.3L1243 125.4L1245.7 125.5L1248.3 125.7L1250.9 125.9L1253.6 126.1L1256.2 126.4L1258.8 126.7L1261.5 127.1L1264.1 127.4L1266.7 127.9L1269.4 128.4L1272 129L1274.6 129.7L1277.3 130.5L1279.9 131.4L1282.5 132.4L1285.2 133.6L1287.8 134.9L1290.4 136.4L1293.1 138L1295.7 139.9L1298.3 142L1301 144.3L1303.6 146.9L1306.2 149.8L1308.9 153L1311.5 156.4L1314.1 160.2L1316.8 164.2L1319.4 168.5L1322 173.1L1324.7 177.9L1327.3 182.9L1329.9 188.1L1332.6 193.4L1335.2 198.7L1337.8 204L1340.5 209.3L1343.1 214.5L1345.7 219.6L1348.3 224.4L1351 229.1L1353.6 233.4L1356.2 237.5L1358.9 241.3L1361.5 244.9L1364.1 248.1L1366.8 251L1369.4 253.7M1214.1 124.5L1216.7 124.5L1219.3 124.5L1222 124.5L1224.6 124.5L1227.2 124.5L1229.9 124.6L1232.5 124.6L1235.1 124.6L1237.8 124.6L1240.4 124.7L1243 124.7L1245.7 124.7L1248.3 124.8L1250.9 124.9L1253.6 124.9L1256.2 125L1258.8 125.1L1261.5 125.2L1264.1 125.3L1266.7 125.5L1269.4 125.6L1272 125.8L1274.6 126L1277.3 126.3L1279.9 126.5L1282.5 126.9L1285.2 127.2L1287.8 127.6L1290.4 128.1L1293.1 128.7L1295.7 129.3L1298.3 130L1301 130.8L1303.6 131.7L1306.2 132.8L1308.9 134L1311.5 135.3L1314.1 136.8L1316.8 138.5L1319.4 140.4L1322 142.5L1324.7 144.9L1327.3 147.5L1329.9 150.4L1332.6 153.6L1335.2 157L1337.8 160.7L1340.5 164.7L1343.1 169L1345.7 173.5L1348.3 178.3L1351 183.2L1353.6 188.3L1356.2 193.5L1358.9 198.8L1361.5 204L1364.1 209.2L1366.8 214.4L1369.4 219.3M1214.1 126.1L1216.7 126.3L1219.3 126.6L1222 126.8L1224.6 127.1L1227.2 127.4L1229.9 127.7L1232.5 128.1L1235.1 128.5L1237.8 129L1240.4 129.5L1243 130.1L1245.7 130.7L1248.3 131.4L1250.9 132.2L1253.6 133L1256.2 134L1258.8 135L1261.5 136.1L1264.1 137.4L1266.7 138.8L1269.4 140.3L1272 141.9L1274.6 143.7L1277.3 145.6L1279.9 147.7L1282.5 149.9L1285.2 152.3L1287.8 154.9L1290.4 157.7L1293.1 160.6L1295.7 163.8L1298.3 167L1301 170.5L1303.6 174.1L1306.2 177.8L1308.9 181.6L1311.5 185.6L1314.1 189.6L1316.8 193.7L1319.4 197.8L1322 201.9L1324.7 206L1327.3 210.1L1329.9 214.1L1332.6 218L1335.2 221.8L1337.8 225.5L1340.5 229.1L1343.1 232.5L1345.7 235.7L1348.3 238.8L1351 241.7L1353.6 244.4L1356.2 246.9L1358.9 249.3L1361.5 251.5L1364.1 253.6L1366.8 255.4L1369.4 257.2M1214.1 124.4L1216.7 124.4L1219.3 124.5L1222 124.5L1224.6 124.5L1227.2 124.5L1229.9 124.5L1232.5 124.5L1235.1 124.6L1237.8 124.6L1240.4 124.6L1243 124.7L1245.7 124.8L1248.3 124.8L1250.9 124.9L1253.6 125L1256.2 125.1L1258.8 125.3L1261.5 125.5L1264.1 125.7L1266.7 125.9L1269.4 126.2L1272 126.6L1274.6 127L1277.3 127.5L1279.9 128.1L1282.5 128.9L1285.2 129.7L1287.8 130.8L1290.4 132L1293.1 133.4L1295.7 135.1L1298.3 137.1L1301 139.4L1303.6 142L1306.2 145.1L1308.9 148.6L1311.5 152.5L1314.1 157L1316.8 161.9L1319.4 167.3L1322 173.1L1324.7 179.3L1327.3 185.8L1329.9 192.5L1332.6 199.4L1335.2 206.2L1337.8 213L1340.5 219.5L1343.1 225.7L1345.7 231.5L1348.3 236.9L1351 241.8L1353.6 246.2L1356.2 250.1L1358.9 253.6L1361.5 256.6L1364.1 259.3L1366.8 261.6L1369.4 263.5" fill="none" stroke="#2b2b2b" stroke-width="1.45" stroke-linejoin="round"/>
<g fill="#7a0b4b" stroke="#33001c" stroke-width="1.25" fill-opacity="1"><rect x="1208.6" y="131.8" width="10.9" height="10.9"/><rect x="1230.8" y="115.2" width="10.9" height="10.9"/><rect x="1253" y="102.5" width="10.9" height="10.9"/><rect x="1275.2" y="99.5" width="10.9" height="10.9"/><rect x="1297.4" y="109.2" width="10.9" height="10.9"/><rect x="1319.6" y="99" width="10.9" height="10.9"/><rect x="1341.8" y="165.8" width="10.9" height="10.9"/><rect x="1364" y="225" width="10.9" height="10.9"/></g>
<g fill="#e8177d" stroke="#4a0a28" stroke-width="1.25" fill-opacity="1"><path d="M1214.1 120L1219.2 130.1L1209 130.1Z"/><path d="M1258.5 114L1263.6 124.1L1253.4 124.1Z"/><path d="M1280.7 111L1285.8 121.1L1275.6 121.1Z"/><path d="M1302.8 132L1307.9 142.1L1297.7 142.1Z"/><path d="M1325 153.4L1330.1 163.5L1319.9 163.5Z"/><path d="M1347.2 190.4L1352.3 200.5L1342.1 200.5Z"/><path d="M1369.4 241.6L1374.5 251.7L1364.3 251.7Z"/></g>
<g fill="#773c0a" stroke="#241000" stroke-width="1.25" fill-opacity="1"><circle cx="1214.1" cy="137.3" r="5.5"/><circle cx="1236.3" cy="112.4" r="5.5"/><circle cx="1258.5" cy="100.4" r="5.5"/><circle cx="1280.7" cy="124.4" r="5.5"/><circle cx="1302.8" cy="146.9" r="5.5"/><circle cx="1347.2" cy="209.8" r="5.5"/><circle cx="1369.4" cy="257.7" r="5.5"/></g>
<g fill="#ea1fea" stroke="#3d0a3d" stroke-width="1.25" fill-opacity="1"><circle cx="1236.3" cy="131.1" r="5.5"/><circle cx="1258.5" cy="110.9" r="5.5"/><circle cx="1280.7" cy="152" r="5.5"/><circle cx="1302.8" cy="128.9" r="5.5"/><circle cx="1325" cy="141.5" r="5.5"/><circle cx="1347.2" cy="176.4" r="5.5"/><circle cx="1369.4" cy="220.3" r="5.5"/></g>
<g fill="#e3120b" stroke="#3c0000" stroke-width="1.25" fill-opacity="1"><circle cx="1214.1" cy="113.9" r="5.5"/><circle cx="1236.3" cy="141.8" r="5.5"/><circle cx="1258.5" cy="140" r="5.5"/><circle cx="1280.7" cy="143.9" r="5.5"/><circle cx="1302.8" cy="173.4" r="5.5"/><circle cx="1325" cy="207.1" r="5.5"/><circle cx="1369.4" cy="265.2" r="5.5"/></g>
<g fill="#343434" stroke="#0d0d0d" stroke-width="1.25" fill-opacity="1"><circle cx="1214.1" cy="118.4" r="5.5"/><circle cx="1236.3" cy="135.8" r="5.5"/><circle cx="1258.5" cy="127.4" r="5.5"/><circle cx="1280.7" cy="134.1" r="5.5"/><circle cx="1302.8" cy="122.9" r="5.5"/><circle cx="1325" cy="192.4" r="5.5"/><circle cx="1347.2" cy="229.7" r="5.5"/><circle cx="1369.4" cy="259.8" r="5.5"/></g>
</g>
<g>
<text transform="translate(1638.7 24.8) scale(0.9434 1)" font-size="22.68" stroke-width="0.32" text-anchor="middle">353-40</text>
<path d="M1511.9 48.8V274.2H1766.2M1502.9 274.2H1511.9M1502.9 199.3H1511.9M1502.9 124.4H1511.9M1502.9 49.5H1511.9M1511.9 274.2V282.8M1575.3 274.2V282.8M1638.7 274.2V282.8M1702.1 274.2V282.8M1765.5 274.2V282.8" fill="none" stroke="#787878" stroke-width="1.4"/>
<text transform="translate(1501.9 280.4) scale(0.9615 1)" font-size="17.47" stroke-width="0.38" text-anchor="end">0</text>
<text transform="translate(1501.9 205.5) scale(0.9615 1)" font-size="17.47" stroke-width="0.38" text-anchor="end">50</text>
<text transform="translate(1501.9 130.6) scale(0.9615 1)" font-size="17.47" stroke-width="0.38" text-anchor="end">100</text>
<text transform="translate(1501.9 55.7) scale(0.9615 1)" font-size="17.47" stroke-width="0.38" text-anchor="end">150</text>
<text transform="translate(1511.3 299.3) scale(0.9615 1)" font-size="17.47" stroke-width="0.38" text-anchor="middle">-8</text>
<text transform="translate(1574.7 299.3) scale(0.9615 1)" font-size="17.47" stroke-width="0.38" text-anchor="middle">-6</text>
<text transform="translate(1638.1 299.3) scale(0.9615 1)" font-size="17.47" stroke-width="0.38" text-anchor="middle">-4</text>
<text transform="translate(1701.5 299.3) scale(0.9615 1)" font-size="17.47" stroke-width="0.38" text-anchor="middle">-2</text>
<text transform="translate(1765.5 299.3) scale(0.9615 1)" font-size="17.47" stroke-width="0.38" text-anchor="middle">0</text>
<text transform="translate(1638.7 324.6) scale(0.9434 1)" font-size="19.19" stroke-width="0.42" text-anchor="middle">Log<tspan font-size="13.57" dy="4.6">10</tspan><tspan dy="-4.6">[sera dilution]</tspan></text>
<text transform="translate(1461.3 161.8) rotate(-90) scale(0.9434 1)" font-size="19.19" stroke-width="0.42" text-anchor="middle">Relative Infectivity</text>
<path d="M1556.3 124.4L1558.9 124.4L1561.5 124.4L1564.2 124.4L1566.8 124.4L1569.4 124.4L1572.1 124.4L1574.7 124.4L1577.3 124.4L1580 124.4L1582.6 124.4L1585.2 124.4L1587.9 124.4L1590.5 124.4L1593.1 124.4L1595.8 124.4L1598.4 124.4L1601 124.4L1603.7 124.4L1606.3 124.4L1608.9 124.4L1611.6 124.4L1614.2 124.4L1616.8 124.4L1619.5 124.4L1622.1 124.4L1624.7 124.4L1627.4 124.4L1630 124.5L1632.6 124.5L1635.3 124.5L1637.9 124.6L1640.5 124.7L1643.2 124.8L1645.8 124.9L1648.4 125.1L1651.1 125.4L1653.7 125.8L1656.3 126.4L1659 127.2L1661.6 128.3L1664.2 129.9L1666.9 132L1669.5 134.8L1672.1 138.7L1674.8 143.7L1677.4 150.1L1680 158.2L1682.7 167.9L1685.3 179L1687.9 191.2L1690.5 203.9L1693.2 216.3L1695.8 227.8L1698.4 237.9L1701.1 246.4L1703.7 253.3L1706.3 258.7L1709 262.8L1711.6 265.9M1556.3 124.4L1558.9 124.4L1561.5 124.4L1564.2 124.4L1566.8 124.4L1569.4 124.5L1572.1 124.5L1574.7 124.5L1577.3 124.5L1580 124.5L1582.6 124.5L1585.2 124.6L1587.9 124.6L1590.5 124.7L1593.1 124.7L1595.8 124.8L1598.4 124.8L1601 124.9L1603.7 125L1606.3 125.2L1608.9 125.3L1611.6 125.5L1614.2 125.7L1616.8 126L1619.5 126.3L1622.1 126.7L1624.7 127.2L1627.4 127.7L1630 128.4L1632.6 129.1L1635.3 130.1L1637.9 131.2L1640.5 132.5L1643.2 134L1645.8 135.8L1648.4 138L1651.1 140.4L1653.7 143.3L1656.3 146.6L1659 150.3L1661.6 154.5L1664.2 159.2L1666.9 164.5L1669.5 170.1L1672.1 176.2L1674.8 182.7L1677.4 189.4L1680 196.3L1682.7 203.3L1685.3 210.2L1687.9 216.9L1690.5 223.3L1693.2 229.3L1695.8 234.9L1698.4 240.1L1701.1 244.7L1703.7 248.9L1706.3 252.5L1709 255.8L1711.6 258.6M1556.3 124.6L1558.9 124.7L1561.5 124.7L1564.2 124.8L1566.8 124.8L1569.4 124.9L1572.1 125L1574.7 125L1577.3 125.1L1580 125.2L1582.6 125.4L1585.2 125.5L1587.9 125.7L1590.5 125.9L1593.1 126.1L1595.8 126.4L1598.4 126.6L1601 127L1603.7 127.4L1606.3 127.8L1608.9 128.3L1611.6 128.9L1614.2 129.5L1616.8 130.3L1619.5 131.1L1622.1 132.1L1624.7 133.2L1627.4 134.4L1630 135.8L1632.6 137.4L1635.3 139.2L1637.9 141.2L1640.5 143.4L1643.2 145.8L1645.8 148.6L1648.4 151.6L1651.1 154.8L1653.7 158.4L1656.3 162.3L1659 166.4L1661.6 170.8L1664.2 175.4L1666.9 180.3L1669.5 185.3L1672.1 190.4L1674.8 195.7L1677.4 201L1680 206.2L1682.7 211.4L1685.3 216.5L1687.9 221.4L1690.5 226.1L1693.2 230.6L1695.8 234.8L1698.4 238.8L1701.1 242.5L1703.7 245.8L1706.3 248.9L1709 251.8L1711.6 254.3M1556.3 124.4L1558.9 124.4L1561.5 124.4L1564.2 124.4L1566.8 124.4L1569.4 124.4L1572.1 124.4L1574.7 124.4L1577.3 124.4L1580 124.4L1582.6 124.4L1585.2 124.4L1587.9 124.4L1590.5 124.4L1593.1 124.4L1595.8 124.4L1598.4 124.4L1601 124.4L1603.7 124.4L1606.3 124.5L1608.9 124.5L1611.6 124.5L1614.2 124.5L1616.8 124.6L1619.5 124.6L1622.1 124.6L1624.7 124.7L1627.4 124.8L1630 124.9L1632.6 125L1635.3 125.2L1637.9 125.4L1640.5 125.6L1643.2 126L1645.8 126.4L1648.4 126.9L1651.1 127.5L1653.7 128.3L1656.3 129.3L1659 130.5L1661.6 132L1664.2 133.8L1666.9 136.1L1669.5 138.8L1672.1 142.1L1674.8 146.1L1677.4 150.7L1680 156.1L1682.7 162.3L1685.3 169.2L1687.9 176.8L1690.5 184.9L1693.2 193.4L1695.8 202.1L1698.4 210.6L1701.1 218.9L1703.7 226.7L1706.3 233.9L1709 240.3L1711.6 246M1556.3 126.7L1558.9 126.9L1561.5 127.2L1564.2 127.5L1566.8 127.8L1569.4 128.2L1572.1 128.6L1574.7 129L1577.3 129.5L1580 130.1L1582.6 130.7L1585.2 131.3L1587.9 132.1L1590.5 132.9L1593.1 133.8L1595.8 134.7L1598.4 135.8L1601 136.9L1603.7 138.2L1606.3 139.6L1608.9 141.1L1611.6 142.7L1614.2 144.5L1616.8 146.4L1619.5 148.4L1622.1 150.6L1624.7 152.9L1627.4 155.5L1630 158.1L1632.6 161L1635.3 163.9L1637.9 167.1L1640.5 170.4L1643.2 173.8L1645.8 177.3L1648.4 181L1651.1 184.7L1653.7 188.5L1656.3 192.4L1659 196.3L1661.6 200.3L1664.2 204.2L1666.9 208.1L1669.5 212L1672.1 215.7L1674.8 219.4L1677.4 223L1680 226.5L1682.7 229.9L1685.3 233.1L1687.9 236.1L1690.5 239.1L1693.2 241.8L1695.8 244.4L1698.4 246.8L1701.1 249.1L1703.7 251.2L1706.3 253.2L1709 255L1711.6 256.7M1556.3 124.5L1558.9 124.5L1561.5 124.6L1564.2 124.6L1566.8 124.6L1569.4 124.7L1572.1 124.7L1574.7 124.8L1577.3 124.8L1580 124.9L1582.6 125L1585.2 125.1L1587.9 125.2L1590.5 125.4L1593.1 125.6L1595.8 125.8L1598.4 126L1601 126.3L1603.7 126.7L1606.3 127.1L1608.9 127.6L1611.6 128.1L1614.2 128.8L1616.8 129.6L1619.5 130.5L1622.1 131.6L1624.7 132.8L1627.4 134.2L1630 135.9L1632.6 137.8L1635.3 140L1637.9 142.5L1640.5 145.4L1643.2 148.6L1645.8 152.2L1648.4 156.2L1651.1 160.6L1653.7 165.4L1656.3 170.6L1659 176.1L1661.6 181.9L1664.2 188L1666.9 194.2L1669.5 200.5L1672.1 206.8L1674.8 212.9L1677.4 218.9L1680 224.6L1682.7 230L1685.3 235.1L1687.9 239.7L1690.5 244L1693.2 247.8L1695.8 251.3L1698.4 254.4L1701.1 257.1L1703.7 259.5L1706.3 261.6L1709 263.4L1711.6 264.9" fill="none" stroke="#2b2b2b" stroke-width="1.45" stroke-linejoin="round"/>
<g fill="#7a0b4b" stroke="#33001c" stroke-width="1.25" fill-opacity="1"><rect x="1639.6" y="116" width="10.9" height="10.9"/><rect x="1661.8" y="122.5" width="10.9" height="10.9"/><rect x="1684" y="194.9" width="10.9" height="10.9"/><rect x="1706.2" y="255.9" width="10.9" height="10.9"/></g>
<g fill="#e8177d" stroke="#4a0a28" stroke-width="1.25" fill-opacity="1"><path d="M1578.5 120.3L1583.6 130.4L1573.4 130.4Z"/><path d="M1622.9 114.8L1628 124.9L1617.8 124.9Z"/><path d="M1667.2 163.4L1672.3 173.5L1662.1 173.5Z"/><path d="M1689.4 212.3L1694.5 222.4L1684.3 222.4Z"/></g>
<g fill="#773c0a" stroke="#241000" stroke-width="1.25" fill-opacity="1"><circle cx="1556.3" cy="125.3" r="5.5"/><circle cx="1578.5" cy="119.9" r="5.5"/><circle cx="1600.7" cy="127.4" r="5.5"/><circle cx="1622.9" cy="136.4" r="5.5"/><circle cx="1667.2" cy="178.3" r="5.5"/><circle cx="1689.4" cy="225.5" r="5.5"/><circle cx="1711.6" cy="254.7" r="5.5"/></g>
<g fill="#ea1fea" stroke="#3d0a3d" stroke-width="1.25" fill-opacity="1"><circle cx="1578.5" cy="141.8" r="5.5"/><circle cx="1600.7" cy="106" r="5.5"/><circle cx="1622.9" cy="110.9" r="5.5"/><circle cx="1645" cy="139.7" r="5.5"/><circle cx="1667.2" cy="136.4" r="5.5"/><circle cx="1689.4" cy="179.8" r="5.5"/><circle cx="1711.6" cy="247.5" r="5.5"/></g>
<g fill="#e3120b" stroke="#3c0000" stroke-width="1.25" fill-opacity="1"><circle cx="1556.3" cy="118.9" r="5.5"/><circle cx="1578.5" cy="135.3" r="5.5"/><circle cx="1600.7" cy="136.8" r="5.5"/><circle cx="1622.9" cy="159.3" r="5.5"/><circle cx="1645" cy="182.2" r="5.5"/><circle cx="1667.2" cy="185.1" r="5.5"/><circle cx="1689.4" cy="251.3" r="5.5"/></g>
<g fill="#343434" stroke="#0d0d0d" stroke-width="1.25" fill-opacity="1"><circle cx="1556.3" cy="132.6" r="5.5"/><circle cx="1578.5" cy="114.2" r="5.5"/><circle cx="1600.7" cy="116.9" r="5.5"/><circle cx="1622.9" cy="127.4" r="5.5"/><circle cx="1645" cy="148.8" r="5.5"/><circle cx="1667.2" cy="204.8" r="5.5"/><circle cx="1689.4" cy="228.8" r="5.5"/><circle cx="1711.6" cy="273.9" r="5.5"/></g>
</g>
<g>
<text transform="translate(1976.6 24.8) scale(0.9434 1)" font-size="22.68" stroke-width="0.32" text-anchor="middle">353-41</text>
<path d="M1849.8 48.8V274.2H2104.1M1840.8 274.2H1849.8M1840.8 199.3H1849.8M1840.8 124.4H1849.8M1840.8 49.5H1849.8M1849.8 274.2V282.8M1913.2 274.2V282.8M1976.6 274.2V282.8M2040 274.2V282.8M2103.4 274.2V282.8" fill="none" stroke="#787878" stroke-width="1.4"/>
<text transform="translate(1839.8 280.4) scale(0.9615 1)" font-size="17.47" stroke-width="0.38" text-anchor="end">0</text>
<text transform="translate(1839.8 205.5) scale(0.9615 1)" font-size="17.47" stroke-width="0.38" text-anchor="end">50</text>
<text transform="translate(1839.8 130.6) scale(0.9615 1)" font-size="17.47" stroke-width="0.38" text-anchor="end">100</text>
<text transform="translate(1839.8 55.7) scale(0.9615 1)" font-size="17.47" stroke-width="0.38" text-anchor="end">150</text>
<text transform="translate(1849.2 299.3) scale(0.9615 1)" font-size="17.47" stroke-width="0.38" text-anchor="middle">-8</text>
<text transform="translate(1912.6 299.3) scale(0.9615 1)" font-size="17.47" stroke-width="0.38" text-anchor="middle">-6</text>
<text transform="translate(1976 299.3) scale(0.9615 1)" font-size="17.47" stroke-width="0.38" text-anchor="middle">-4</text>
<text transform="translate(2039.4 299.3) scale(0.9615 1)" font-size="17.47" stroke-width="0.38" text-anchor="middle">-2</text>
<text transform="translate(2103.4 299.3) scale(0.9615 1)" font-size="17.47" stroke-width="0.38" text-anchor="middle">0</text>
<text transform="translate(1976.6 324.6) scale(0.9434 1)" font-size="19.19" stroke-width="0.42" text-anchor="middle">Log<tspan font-size="13.57" dy="4.6">10</tspan><tspan dy="-4.6">[sera dilution]</tspan></text>
<text transform="translate(1799.2 161.8) rotate(-90) scale(0.9434 1)" font-size="19.19" stroke-width="0.42" text-anchor="middle">Relative Infectivity</text>
<path d="M1894.2 124.4L1896.8 124.4L1899.4 124.4L1902.1 124.4L1904.7 124.4L1907.3 124.4L1910 124.4L1912.6 124.4L1915.2 124.4L1917.9 124.4L1920.5 124.4L1923.1 124.4L1925.8 124.4L1928.4 124.4L1931 124.4L1933.7 124.4L1936.3 124.4L1938.9 124.4L1941.6 124.4L1944.2 124.4L1946.8 124.4L1949.5 124.4L1952.1 124.4L1954.7 124.4L1957.4 124.4L1960 124.4L1962.6 124.5L1965.3 124.5L1967.9 124.5L1970.5 124.6L1973.2 124.6L1975.8 124.7L1978.4 124.8L1981.1 124.9L1983.7 125L1986.3 125.2L1989 125.5L1991.6 125.9L1994.2 126.4L1996.9 127L1999.5 127.9L2002.1 129L2004.8 130.5L2007.4 132.4L2010 134.8L2012.7 138L2015.3 142L2017.9 146.9L2020.6 153L2023.2 160.2L2025.8 168.6L2028.4 178L2031.1 188.3L2033.7 198.9L2036.3 209.6L2039 219.9L2041.6 229.3L2044.2 237.8L2046.9 245.1L2049.5 251.3M1894.2 124.5L1896.8 124.5L1899.4 124.5L1902.1 124.6L1904.7 124.6L1907.3 124.6L1910 124.7L1912.6 124.7L1915.2 124.7L1917.9 124.8L1920.5 124.9L1923.1 124.9L1925.8 125L1928.4 125.1L1931 125.2L1933.7 125.3L1936.3 125.5L1938.9 125.6L1941.6 125.8L1944.2 126L1946.8 126.3L1949.5 126.5L1952.1 126.9L1954.7 127.2L1957.4 127.7L1960 128.1L1962.6 128.7L1965.3 129.3L1967.9 130.1L1970.5 130.9L1973.2 131.8L1975.8 132.9L1978.4 134.1L1981.1 135.5L1983.7 137L1986.3 138.8L1989 140.7L1991.6 142.9L1994.2 145.3L1996.9 148L1999.5 150.9L2002.1 154.2L2004.8 157.7L2007.4 161.5L2010 165.6L2012.7 170L2015.3 174.6L2017.9 179.4L2020.6 184.5L2023.2 189.6L2025.8 194.9L2028.4 200.2L2031.1 205.5L2033.7 210.7L2036.3 215.9L2039 220.8L2041.6 225.6L2044.2 230.1L2046.9 234.4L2049.5 238.4M1894.2 124.9L1896.8 125L1899.4 125.1L1902.1 125.2L1904.7 125.3L1907.3 125.4L1910 125.5L1912.6 125.7L1915.2 125.8L1917.9 126L1920.5 126.2L1923.1 126.5L1925.8 126.7L1928.4 127L1931 127.4L1933.7 127.8L1936.3 128.2L1938.9 128.7L1941.6 129.3L1944.2 129.9L1946.8 130.6L1949.5 131.4L1952.1 132.3L1954.7 133.3L1957.4 134.4L1960 135.7L1962.6 137.1L1965.3 138.6L1967.9 140.3L1970.5 142.2L1973.2 144.3L1975.8 146.6L1978.4 149.1L1981.1 151.8L1983.7 154.7L1986.3 157.9L1989 161.2L1991.6 164.9L1994.2 168.7L1996.9 172.7L1999.5 176.9L2002.1 181.3L2004.8 185.8L2007.4 190.5L2010 195.1L2012.7 199.9L2015.3 204.6L2017.9 209.2L2020.6 213.8L2023.2 218.3L2025.8 222.7L2028.4 226.8L2031.1 230.8L2033.7 234.6L2036.3 238.2L2039 241.5L2041.6 244.6L2044.2 247.5L2046.9 250.2L2049.5 252.6M1894.2 124.4L1896.8 124.4L1899.4 124.4L1902.1 124.4L1904.7 124.4L1907.3 124.4L1910 124.4L1912.6 124.4L1915.2 124.4L1917.9 124.5L1920.5 124.5L1923.1 124.5L1925.8 124.5L1928.4 124.5L1931 124.5L1933.7 124.6L1936.3 124.6L1938.9 124.6L1941.6 124.7L1944.2 124.7L1946.8 124.8L1949.5 124.9L1952.1 125L1954.7 125.1L1957.4 125.3L1960 125.4L1962.6 125.6L1965.3 125.9L1967.9 126.2L1970.5 126.5L1973.2 126.9L1975.8 127.4L1978.4 128L1981.1 128.7L1983.7 129.5L1986.3 130.5L1989 131.7L1991.6 133L1994.2 134.6L1996.9 136.5L1999.5 138.6L2002.1 141.2L2004.8 144L2007.4 147.3L2010 151.1L2012.7 155.3L2015.3 160L2017.9 165.1L2020.6 170.7L2023.2 176.7L2025.8 183L2028.4 189.6L2031.1 196.3L2033.7 203.1L2036.3 209.8L2039 216.4L2041.6 222.7L2044.2 228.6L2046.9 234.1L2049.5 239.2M1894.2 127.5L1896.8 127.9L1899.4 128.2L1902.1 128.6L1904.7 129.1L1907.3 129.6L1910 130.1L1912.6 130.7L1915.2 131.3L1917.9 132L1920.5 132.8L1923.1 133.6L1925.8 134.6L1928.4 135.6L1931 136.7L1933.7 137.9L1936.3 139.2L1938.9 140.6L1941.6 142.1L1944.2 143.8L1946.8 145.5L1949.5 147.5L1952.1 149.5L1954.7 151.7L1957.4 154.1L1960 156.6L1962.6 159.2L1965.3 162L1967.9 165L1970.5 168L1973.2 171.3L1975.8 174.6L1978.4 178.1L1981.1 181.6L1983.7 185.3L1986.3 189L1989 192.7L1991.6 196.5L1994.2 200.3L1996.9 204.1L1999.5 207.9L2002.1 211.7L2004.8 215.3L2007.4 218.9L2010 222.4L2012.7 225.8L2015.3 229.1L2017.9 232.3L2020.6 235.3L2023.2 238.1L2025.8 240.8L2028.4 243.4L2031.1 245.8L2033.7 248.1L2036.3 250.2L2039 252.2L2041.6 254L2044.2 255.8L2046.9 257.3L2049.5 258.8M1894.2 124.4L1896.8 124.4L1899.4 124.4L1902.1 124.4L1904.7 124.4L1907.3 124.4L1910 124.4L1912.6 124.4L1915.2 124.4L1917.9 124.4L1920.5 124.4L1923.1 124.5L1925.8 124.5L1928.4 124.5L1931 124.5L1933.7 124.5L1936.3 124.6L1938.9 124.6L1941.6 124.6L1944.2 124.7L1946.8 124.8L1949.5 124.8L1952.1 125L1954.7 125.1L1957.4 125.2L1960 125.4L1962.6 125.7L1965.3 126L1967.9 126.3L1970.5 126.8L1973.2 127.3L1975.8 128L1978.4 128.8L1981.1 129.8L1983.7 131.1L1986.3 132.6L1989 134.4L1991.6 136.5L1994.2 139.1L1996.9 142.1L1999.5 145.7L2002.1 149.9L2004.8 154.7L2007.4 160.1L2010 166.1L2012.7 172.8L2015.3 180L2017.9 187.5L2020.6 195.4L2023.2 203.3L2025.8 211.1L2028.4 218.7L2031.1 225.8L2033.7 232.5L2036.3 238.5L2039 244L2041.6 248.7L2044.2 252.9L2046.9 256.5L2049.5 259.5" fill="none" stroke="#2b2b2b" stroke-width="1.45" stroke-linejoin="round"/>
<g fill="#7a0b4b" stroke="#33001c" stroke-width="1.25" fill-opacity="1"><rect x="1888.7" y="120.7" width="10.9" height="10.9"/><rect x="1955.3" y="124.3" width="10.9" height="10.9"/><rect x="1977.5" y="106.5" width="10.9" height="10.9"/><rect x="1999.7" y="124.3" width="10.9" height="10.9"/><rect x="2021.9" y="169.4" width="10.9" height="10.9"/><rect x="2044.1" y="244.8" width="10.9" height="10.9"/></g>
<g fill="#e8177d" stroke="#4a0a28" stroke-width="1.25" fill-opacity="1"><path d="M1894.2 141.4L1899.3 151.5L1889.1 151.5Z"/><path d="M1916.4 96.3L1921.5 106.4L1911.3 106.4Z"/><path d="M1938.6 101L1943.7 111.1L1933.5 111.1Z"/><path d="M1960.8 157L1965.8 167.1L1955.7 167.1Z"/><path d="M2027.3 184.7L2032.4 194.8L2022.2 194.8Z"/></g>
<g fill="#773c0a" stroke="#241000" stroke-width="1.25" fill-opacity="1"><circle cx="1938.6" cy="130.4" r="5.5"/><circle cx="1960.8" cy="134.4" r="5.5"/><circle cx="1982.9" cy="157.1" r="5.5"/><circle cx="2005.1" cy="182.2" r="5.5"/><circle cx="2027.3" cy="228.2" r="5.5"/></g>
<g fill="#ea1fea" stroke="#3d0a3d" stroke-width="1.25" fill-opacity="1"><circle cx="1894.2" cy="133.4" r="5.5"/><circle cx="1916.4" cy="120.7" r="5.5"/><circle cx="1938.6" cy="90.4" r="5.5"/><circle cx="1960.8" cy="147.9" r="5.5"/><circle cx="1982.9" cy="134.1" r="5.5"/><circle cx="2005.1" cy="142.7" r="5.5"/><circle cx="2027.3" cy="185.1" r="5.5"/><circle cx="2049.5" cy="241.2" r="5.5"/></g>
<g fill="#e3120b" stroke="#3c0000" stroke-width="1.25" fill-opacity="1"><circle cx="1894.2" cy="106.4" r="5.5"/><circle cx="1916.4" cy="144.6" r="5.5"/><circle cx="1938.6" cy="140.9" r="5.5"/><circle cx="1960.8" cy="157.1" r="5.5"/><circle cx="1982.9" cy="183.6" r="5.5"/><circle cx="2005.1" cy="217.7" r="5.5"/><circle cx="2027.3" cy="236.2" r="5.5"/><circle cx="2049.5" cy="265.1" r="5.5"/></g>
<g fill="#343434" stroke="#0d0d0d" stroke-width="1.25" fill-opacity="1"><circle cx="1894.2" cy="142.7" r="5.5"/><circle cx="1916.4" cy="112.4" r="5.5"/><circle cx="1938.6" cy="121.4" r="5.5"/><circle cx="1960.8" cy="92.9" r="5.5"/><circle cx="1982.9" cy="123.5" r="5.5"/><circle cx="2005.1" cy="158.4" r="5.5"/><circle cx="2027.3" cy="219.1" r="5.5"/><circle cx="2049.5" cy="250.2" r="5.5"/></g>
</g>
<g>
<text transform="translate(328.8 400.2) scale(0.9434 1)" font-size="22.68" stroke-width="0.32" text-anchor="middle">353-44</text>
<path d="M202 423.7V649.1H456.3M193 649.1H202M193 574.2H202M193 499.3H202M193 424.4H202M202 649.1V657.7M265.4 649.1V657.7M328.8 649.1V657.7M392.2 649.1V657.7M455.6 649.1V657.7" fill="none" stroke="#787878" stroke-width="1.4"/>
<text transform="translate(192 655.3) scale(0.9615 1)" font-size="17.47" stroke-width="0.38" text-anchor="end">0</text>
<text transform="translate(192 580.4) scale(0.9615 1)" font-size="17.47" stroke-width="0.38" text-anchor="end">50</text>
<text transform="translate(192 505.5) scale(0.9615 1)" font-size="17.47" stroke-width="0.38" text-anchor="end">100</text>
<text transform="translate(192 430.6) scale(0.9615 1)" font-size="17.47" stroke-width="0.38" text-anchor="end">150</text>
<text transform="translate(201.4 674.2) scale(0.9615 1)" font-size="17.47" stroke-width="0.38" text-anchor="middle">-8</text>
<text transform="translate(264.8 674.2) scale(0.9615 1)" font-size="17.47" stroke-width="0.38" text-anchor="middle">-6</text>
<text transform="translate(328.2 674.2) scale(0.9615 1)" font-size="17.47" stroke-width="0.38" text-anchor="middle">-4</text>
<text transform="translate(391.6 674.2) scale(0.9615 1)" font-size="17.47" stroke-width="0.38" text-anchor="middle">-2</text>
<text transform="translate(455.6 674.2) scale(0.9615 1)" font-size="17.47" stroke-width="0.38" text-anchor="middle">0</text>
<text transform="translate(328.8 699.5) scale(0.9434 1)" font-size="19.19" stroke-width="0.42" text-anchor="middle">Log<tspan font-size="13.57" dy="4.6">10</tspan><tspan dy="-4.6">[sera dilution]</tspan></text>
<text transform="translate(151.4 536.8) rotate(-90) scale(0.9434 1)" font-size="19.19" stroke-width="0.42" text-anchor="middle">Relative Infectivity</text>
<path d="M246.4 499.3L249 499.3L251.6 499.3L254.3 499.3L256.9 499.3L259.5 499.3L262.2 499.3L264.8 499.3L267.4 499.3L270.1 499.3L272.7 499.3L275.3 499.3L278 499.3L280.6 499.3L283.2 499.3L285.9 499.3L288.5 499.3L291.1 499.3L293.8 499.3L296.4 499.3L299 499.3L301.7 499.3L304.3 499.3L306.9 499.3L309.6 499.3L312.2 499.3L314.8 499.3L317.5 499.3L320.1 499.3L322.7 499.3L325.4 499.3L328 499.3L330.6 499.3L333.3 499.3L335.9 499.3L338.5 499.3L341.2 499.3L343.8 499.3L346.4 499.3L349.1 499.3L351.7 499.3L354.3 499.3L357 499.3L359.6 499.3L362.2 499.3L364.9 499.3L367.5 499.4L370.1 499.4L372.8 499.5L375.4 499.7L378 500L380.6 500.6L383.3 501.6L385.9 503.4L388.5 506.6L391.2 512L393.8 520.7L396.4 534L399.1 552.1L401.7 573.6M246.4 499.3L249 499.3L251.6 499.3L254.3 499.3L256.9 499.3L259.5 499.3L262.2 499.3L264.8 499.3L267.4 499.3L270.1 499.3L272.7 499.3L275.3 499.3L278 499.3L280.6 499.3L283.2 499.3L285.9 499.3L288.5 499.3L291.1 499.3L293.8 499.3L296.4 499.3L299 499.3L301.7 499.4L304.3 499.4L306.9 499.4L309.6 499.4L312.2 499.4L314.8 499.5L317.5 499.5L320.1 499.6L322.7 499.6L325.4 499.7L328 499.8L330.6 500L333.3 500.1L335.9 500.3L338.5 500.6L341.2 500.9L343.8 501.3L346.4 501.8L349.1 502.4L351.7 503.1L354.3 504L357 505.2L359.6 506.5L362.2 508.2L364.9 510.3L367.5 512.8L370.1 515.7L372.8 519.3L375.4 523.4L378 528.3L380.6 533.8L383.3 540L385.9 546.9L388.5 554.4L391.2 562.3L393.8 570.5L396.4 578.8L399.1 587L401.7 594.8M246.4 500.7L249 500.8L251.6 500.9L254.3 501.1L256.9 501.2L259.5 501.4L262.2 501.6L264.8 501.8L267.4 502L270.1 502.2L272.7 502.5L275.3 502.7L278 503L280.6 503.3L283.2 503.7L285.9 504.1L288.5 504.5L291.1 504.9L293.8 505.4L296.4 505.9L299 506.5L301.7 507.1L304.3 507.7L306.9 508.4L309.6 509.2L312.2 510L314.8 510.9L317.5 511.8L320.1 512.8L322.7 513.9L325.4 515L328 516.3L330.6 517.6L333.3 519L335.9 520.5L338.5 522.1L341.2 523.8L343.8 525.5L346.4 527.4L349.1 529.4L351.7 531.5L354.3 533.7L357 536L359.6 538.4L362.2 540.9L364.9 543.5L367.5 546.2L370.1 549L372.8 551.8L375.4 554.7L378 557.7L380.6 560.8L383.3 563.9L385.9 567L388.5 570.2L391.2 573.3L393.8 576.5L396.4 579.7L399.1 582.8L401.7 585.9M246.4 499.3L249 499.3L251.6 499.3L254.3 499.3L256.9 499.3L259.5 499.3L262.2 499.3L264.8 499.3L267.4 499.3L270.1 499.3L272.7 499.3L275.3 499.3L278 499.3L280.6 499.3L283.2 499.3L285.9 499.3L288.5 499.3L291.1 499.3L293.8 499.3L296.4 499.3L299 499.3L301.7 499.4L304.3 499.4L306.9 499.4L309.6 499.4L312.2 499.4L314.8 499.5L317.5 499.5L320.1 499.5L322.7 499.6L325.4 499.7L328 499.7L330.6 499.8L333.3 500L335.9 500.1L338.5 500.3L341.2 500.5L343.8 500.8L346.4 501.1L349.1 501.6L351.7 502.1L354.3 502.7L357 503.4L359.6 504.4L362.2 505.5L364.9 506.8L367.5 508.5L370.1 510.4L372.8 512.7L375.4 515.5L378 518.7L380.6 522.5L383.3 526.8L385.9 531.7L388.5 537.3L391.2 543.5L393.8 550.2L396.4 557.3L399.1 564.8L401.7 572.5M246.4 499.3L249 499.3L251.6 499.3L254.3 499.3L256.9 499.3L259.5 499.3L262.2 499.3L264.8 499.3L267.4 499.4L270.1 499.4L272.7 499.4L275.3 499.4L278 499.4L280.6 499.4L283.2 499.5L285.9 499.5L288.5 499.6L291.1 499.6L293.8 499.7L296.4 499.8L299 499.9L301.7 500L304.3 500.1L306.9 500.3L309.6 500.5L312.2 500.8L314.8 501.1L317.5 501.5L320.1 501.9L322.7 502.5L325.4 503.2L328 504L330.6 504.9L333.3 506.1L335.9 507.5L338.5 509.1L341.2 511L343.8 513.3L346.4 516L349.1 519.1L351.7 522.7L354.3 526.8L357 531.4L359.6 536.6L362.2 542.3L364.9 548.5L367.5 555.1L370.1 562.1L372.8 569.3L375.4 576.5L378 583.8L380.6 590.8L383.3 597.6L385.9 604L388.5 609.8L391.2 615.2L393.8 620L396.4 624.3L399.1 628.1L401.7 631.4M246.4 499.3L249 499.3L251.6 499.3L254.3 499.3L256.9 499.3L259.5 499.3L262.2 499.3L264.8 499.3L267.4 499.3L270.1 499.3L272.7 499.3L275.3 499.3L278 499.3L280.6 499.3L283.2 499.3L285.9 499.3L288.5 499.3L291.1 499.3L293.8 499.3L296.4 499.3L299 499.3L301.7 499.3L304.3 499.3L306.9 499.3L309.6 499.3L312.2 499.3L314.8 499.3L317.5 499.4L320.1 499.4L322.7 499.4L325.4 499.4L328 499.5L330.6 499.5L333.3 499.6L335.9 499.7L338.5 499.9L341.2 500L343.8 500.3L346.4 500.6L349.1 501L351.7 501.5L354.3 502.2L357 503.2L359.6 504.4L362.2 505.9L364.9 508L367.5 510.6L370.1 513.8L372.8 518L375.4 523L378 529.2L380.6 536.4L383.3 544.8L385.9 554.1L388.5 564.2L391.2 574.6L393.8 585L396.4 595L399.1 604.3L401.7 612.6" fill="none" stroke="#2b2b2b" stroke-width="1.45" stroke-linejoin="round"/>
<g fill="#7a0b4b" stroke="#33001c" stroke-width="1.25" fill-opacity="1"><rect x="240.9" y="518.6" width="10.9" height="10.9"/><rect x="263.1" y="470.6" width="10.9" height="10.9"/><rect x="307.5" y="484" width="10.9" height="10.9"/><rect x="351.9" y="490.4" width="10.9" height="10.9"/><rect x="374.1" y="494.9" width="10.9" height="10.9"/><rect x="396.3" y="568.2" width="10.9" height="10.9"/></g>
<g fill="#e8177d" stroke="#4a0a28" stroke-width="1.25" fill-opacity="1"><path d="M246.4 509.9L251.5 520L241.3 520Z"/><path d="M290.8 461.3L295.9 471.4L285.7 471.4Z"/><path d="M312.9 450L318.1 460.1L307.8 460.1Z"/><path d="M357.3 498.2L362.4 508.3L352.2 508.3Z"/><path d="M379.5 529.4L384.6 539.5L374.4 539.5Z"/><path d="M401.7 587L406.8 597.1L396.6 597.1Z"/></g>
<g fill="#773c0a" stroke="#241000" stroke-width="1.25" fill-opacity="1"><circle cx="290.8" cy="505.9" r="5.5"/><circle cx="312.9" cy="523.3" r="5.5"/><circle cx="335.1" cy="513.8" r="5.5"/><circle cx="357.3" cy="539.7" r="5.5"/><circle cx="379.5" cy="548.3" r="5.5"/></g>
<g fill="#ea1fea" stroke="#3d0a3d" stroke-width="1.25" fill-opacity="1"><circle cx="268.6" cy="509.2" r="5.5"/><circle cx="290.8" cy="479.2" r="5.5"/><circle cx="312.9" cy="473.8" r="5.5"/><circle cx="335.1" cy="490.9" r="5.5"/><circle cx="357.3" cy="479.2" r="5.5"/><circle cx="401.7" cy="569.1" r="5.5"/></g>
<g fill="#e3120b" stroke="#3c0000" stroke-width="1.25" fill-opacity="1"><circle cx="246.4" cy="495.4" r="5.5"/><circle cx="268.6" cy="506.8" r="5.5"/><circle cx="290.8" cy="490.9" r="5.5"/><circle cx="312.9" cy="511.3" r="5.5"/><circle cx="335.1" cy="499.3" r="5.5"/><circle cx="357.3" cy="536.3" r="5.5"/><circle cx="379.5" cy="585.1" r="5.5"/><circle cx="401.7" cy="633.5" r="5.5"/></g>
<g fill="#343434" stroke="#0d0d0d" stroke-width="1.25" fill-opacity="1"><circle cx="246.4" cy="505.9" r="5.5"/><circle cx="268.6" cy="493.6" r="5.5"/><circle cx="290.8" cy="496.3" r="5.5"/><circle cx="312.9" cy="481.3" r="5.5"/><circle cx="335.1" cy="483.1" r="5.5"/><circle cx="357.3" cy="514.3" r="5.5"/><circle cx="379.5" cy="530.8" r="5.5"/><circle cx="401.7" cy="613.6" r="5.5"/></g>
</g>
<g>
<text transform="translate(647 400.2) scale(0.9434 1)" font-size="22.68" stroke-width="0.32" text-anchor="middle">353-50</text>
<path d="M520.2 423.7V649.1H774.5M511.2 649.1H520.2M511.2 574.2H520.2M511.2 499.3H520.2M511.2 424.4H520.2M520.2 649.1V657.7M583.6 649.1V657.7M647 649.1V657.7M710.4 649.1V657.7M773.8 649.1V657.7" fill="none" stroke="#787878" stroke-width="1.4"/>
<text transform="translate(510.2 655.3) scale(0.9615 1)" font-size="17.47" stroke-width="0.38" text-anchor="end">0</text>
<text transform="translate(510.2 580.4) scale(0.9615 1)" font-size="17.47" stroke-width="0.38" text-anchor="end">50</text>
<text transform="translate(510.2 505.5) scale(0.9615 1)" font-size="17.47" stroke-width="0.38" text-anchor="end">100</text>
<text transform="translate(510.2 430.6) scale(0.9615 1)" font-size="17.47" stroke-width="0.38" text-anchor="end">150</text>
<text transform="translate(519.6 674.2) scale(0.9615 1)" font-size="17.47" stroke-width="0.38" text-anchor="middle">-8</text>
<text transform="translate(583 674.2) scale(0.9615 1)" font-size="17.47" stroke-width="0.38" text-anchor="middle">-6</text>
<text transform="translate(646.4 674.2) scale(0.9615 1)" font-size="17.47" stroke-width="0.38" text-anchor="middle">-4</text>
<text transform="translate(709.8 674.2) scale(0.9615 1)" font-size="17.47" stroke-width="0.38" text-anchor="middle">-2</text>
<text transform="translate(773.8 674.2) scale(0.9615 1)" font-size="17.47" stroke-width="0.38" text-anchor="middle">0</text>
<text transform="translate(647 699.5) scale(0.9434 1)" font-size="19.19" stroke-width="0.42" text-anchor="middle">Log<tspan font-size="13.57" dy="4.6">10</tspan><tspan dy="-4.6">[sera dilution]</tspan></text>
<text transform="translate(469.6 536.8) rotate(-90) scale(0.9434 1)" font-size="19.19" stroke-width="0.42" text-anchor="middle">Relative Infectivity</text>
<path d="M564.6 499.3L567.2 499.3L569.8 499.3L572.5 499.3L575.1 499.3L577.7 499.3L580.4 499.3L583 499.3L585.6 499.3L588.3 499.3L590.9 499.3L593.5 499.3L596.2 499.3L598.8 499.3L601.4 499.3L604.1 499.3L606.7 499.3L609.3 499.3L612 499.3L614.6 499.3L617.2 499.3L619.9 499.3L622.5 499.3L625.1 499.3L627.8 499.3L630.4 499.3L633 499.3L635.7 499.3L638.3 499.3L640.9 499.3L643.6 499.3L646.2 499.3L648.8 499.4L651.5 499.4L654.1 499.5L656.7 499.5L659.4 499.6L662 499.8L664.6 500L667.3 500.3L669.9 500.7L672.5 501.3L675.2 502.2L677.8 503.5L680.4 505.4L683.1 508L685.7 511.6L688.3 516.5L691 523L693.6 531.5L696.2 541.9L698.8 554.1L701.5 567.6L704.1 581.6L706.7 595L709.4 607.1L712 617.5L714.6 625.8L717.3 632.2L719.9 637.1M564.6 499.3L567.2 499.3L569.8 499.3L572.5 499.3L575.1 499.3L577.7 499.3L580.4 499.3L583 499.3L585.6 499.3L588.3 499.3L590.9 499.3L593.5 499.3L596.2 499.3L598.8 499.3L601.4 499.3L604.1 499.3L606.7 499.4L609.3 499.4L612 499.4L614.6 499.4L617.2 499.4L619.9 499.5L622.5 499.5L625.1 499.6L627.8 499.6L630.4 499.7L633 499.8L635.7 499.9L638.3 500L640.9 500.2L643.6 500.4L646.2 500.7L648.8 501L651.5 501.4L654.1 501.9L656.7 502.5L659.4 503.2L662 504.1L664.6 505.3L667.3 506.6L669.9 508.2L672.5 510.2L675.2 512.6L677.8 515.4L680.4 518.7L683.1 522.6L685.7 527.2L688.3 532.3L691 538.2L693.6 544.6L696.2 551.6L698.8 559.1L701.5 566.9L704.1 574.9L706.7 582.9L709.4 590.6L712 598L714.6 605L717.3 611.3L719.9 617M564.6 499.4L567.2 499.4L569.8 499.4L572.5 499.5L575.1 499.5L577.7 499.5L580.4 499.6L583 499.6L585.6 499.6L588.3 499.7L590.9 499.8L593.5 499.8L596.2 499.9L598.8 500L601.4 500.1L604.1 500.3L606.7 500.4L609.3 500.6L612 500.8L614.6 501.1L617.2 501.3L619.9 501.7L622.5 502L625.1 502.5L627.8 502.9L630.4 503.5L633 504.2L635.7 504.9L638.3 505.8L640.9 506.7L643.6 507.8L646.2 509.1L648.8 510.6L651.5 512.2L654.1 514.1L656.7 516.2L659.4 518.5L662 521.1L664.6 524L667.3 527.2L669.9 530.7L672.5 534.6L675.2 538.7L677.8 543.2L680.4 547.9L683.1 552.9L685.7 558L688.3 563.4L691 568.9L693.6 574.4L696.2 579.9L698.8 585.4L701.5 590.7L704.1 595.9L706.7 600.9L709.4 605.6L712 610L714.6 614.1L717.3 617.9L719.9 621.4M564.6 499.9L567.2 500L569.8 500.1L572.5 500.1L575.1 500.2L577.7 500.4L580.4 500.5L583 500.6L585.6 500.7L588.3 500.9L590.9 501.1L593.5 501.3L596.2 501.5L598.8 501.8L601.4 502L604.1 502.3L606.7 502.7L609.3 503.1L612 503.5L614.6 503.9L617.2 504.4L619.9 505L622.5 505.6L625.1 506.3L627.8 507.1L630.4 507.9L633 508.8L635.7 509.8L638.3 510.9L640.9 512.1L643.6 513.4L646.2 514.9L648.8 516.4L651.5 518.1L654.1 520L656.7 522L659.4 524.1L662 526.4L664.6 528.9L667.3 531.5L669.9 534.3L672.5 537.3L675.2 540.4L677.8 543.7L680.4 547.2L683.1 550.7L685.7 554.4L688.3 558.2L691 562.1L693.6 566.1L696.2 570.1L698.8 574.1L701.5 578.1L704.1 582.1L706.7 586.1L709.4 590L712 593.8L714.6 597.5L717.3 601.1L719.9 604.5M564.6 499.7L567.2 499.7L569.8 499.8L572.5 499.9L575.1 499.9L577.7 500L580.4 500.1L583 500.3L585.6 500.4L588.3 500.5L590.9 500.7L593.5 500.9L596.2 501.1L598.8 501.4L601.4 501.7L604.1 502L606.7 502.4L609.3 502.8L612 503.3L614.6 503.9L617.2 504.5L619.9 505.2L622.5 506L625.1 506.9L627.8 507.9L630.4 509L633 510.3L635.7 511.8L638.3 513.4L640.9 515.1L643.6 517.1L646.2 519.3L648.8 521.7L651.5 524.4L654.1 527.3L656.7 530.4L659.4 533.8L662 537.4L664.6 541.3L667.3 545.4L669.9 549.8L672.5 554.3L675.2 559L677.8 563.8L680.4 568.7L683.1 573.7L685.7 578.7L688.3 583.6L691 588.4L693.6 593.1L696.2 597.7L698.8 602.1L701.5 606.3L704.1 610.2L706.7 613.9L709.4 617.3L712 620.5L714.6 623.5L717.3 626.2L719.9 628.6M564.6 499.3L567.2 499.3L569.8 499.3L572.5 499.3L575.1 499.3L577.7 499.3L580.4 499.3L583 499.3L585.6 499.3L588.3 499.3L590.9 499.3L593.5 499.3L596.2 499.3L598.8 499.3L601.4 499.3L604.1 499.3L606.7 499.3L609.3 499.4L612 499.4L614.6 499.4L617.2 499.4L619.9 499.4L622.5 499.5L625.1 499.6L627.8 499.6L630.4 499.7L633 499.8L635.7 500L638.3 500.2L640.9 500.5L643.6 500.8L646.2 501.3L648.8 501.9L651.5 502.6L654.1 503.6L656.7 504.8L659.4 506.4L662 508.3L664.6 510.8L667.3 513.9L669.9 517.7L672.5 522.4L675.2 527.9L677.8 534.4L680.4 541.9L683.1 550.2L685.7 559.3L688.3 568.8L691 578.6L693.6 588.2L696.2 597.3L698.8 605.7L701.5 613.3L704.1 619.9L706.7 625.5L709.4 630.2L712 634.1L714.6 637.3L717.3 639.8L719.9 641.8" fill="none" stroke="#2b2b2b" stroke-width="1.45" stroke-linejoin="round"/>
<g fill="#7a0b4b" stroke="#33001c" stroke-width="1.25" fill-opacity="1"><rect x="559.1" y="494.6" width="10.9" height="10.9"/><rect x="603.5" y="494.6" width="10.9" height="10.9"/><rect x="625.7" y="477.4" width="10.9" height="10.9"/><rect x="647.9" y="478.4" width="10.9" height="10.9"/><rect x="670.1" y="495.3" width="10.9" height="10.9"/><rect x="692.3" y="543.7" width="10.9" height="10.9"/><rect x="714.5" y="630.8" width="10.9" height="10.9"/></g>
<g fill="#e8177d" stroke="#4a0a28" stroke-width="1.25" fill-opacity="1"><path d="M631.2 525.8L636.3 535.9L626.1 535.9Z"/><path d="M653.3 478.4L658.4 488.5L648.2 488.5Z"/><path d="M697.7 545.8L702.8 555.9L692.6 555.9Z"/><path d="M719.9 613.7L725 623.8L714.8 623.8Z"/></g>
<g fill="#773c0a" stroke="#241000" stroke-width="1.25" fill-opacity="1"><circle cx="564.6" cy="508.3" r="5.5"/><circle cx="609" cy="516.5" r="5.5"/><circle cx="653.3" cy="510.1" r="5.5"/><circle cx="697.7" cy="577.2" r="5.5"/><circle cx="719.9" cy="628.1" r="5.5"/></g>
<g fill="#ea1fea" stroke="#3d0a3d" stroke-width="1.25" fill-opacity="1"><circle cx="564.6" cy="489.9" r="5.5"/><circle cx="586.8" cy="505.9" r="5.5"/><circle cx="653.3" cy="524" r="5.5"/><circle cx="675.5" cy="539.3" r="5.5"/><circle cx="697.7" cy="570" r="5.5"/><circle cx="719.9" cy="606.7" r="5.5"/></g>
<g fill="#e3120b" stroke="#3c0000" stroke-width="1.25" fill-opacity="1"><circle cx="631.2" cy="515.8" r="5.5"/><circle cx="653.3" cy="532.3" r="5.5"/><circle cx="675.5" cy="550.7" r="5.5"/><circle cx="697.7" cy="595.2" r="5.5"/><circle cx="719.9" cy="643.6" r="5.5"/></g>
<g fill="#343434" stroke="#0d0d0d" stroke-width="1.25" fill-opacity="1"><circle cx="564.6" cy="502.7" r="5.5"/><circle cx="586.8" cy="493.6" r="5.5"/><circle cx="609" cy="507.4" r="5.5"/><circle cx="631.2" cy="492.7" r="5.5"/><circle cx="653.3" cy="501.5" r="5.5"/><circle cx="675.5" cy="531.4" r="5.5"/><circle cx="697.7" cy="599.4" r="5.5"/><circle cx="719.9" cy="647.6" r="5.5"/></g>
</g>
<g>
<text transform="translate(962.4 400.2) scale(0.9434 1)" font-size="22.68" stroke-width="0.32" text-anchor="middle">353-54</text>
<path d="M835.6 423.7V649.1H1089.9M826.6 649.1H835.6M826.6 574.2H835.6M826.6 499.3H835.6M826.6 424.4H835.6M835.6 649.1V657.7M899 649.1V657.7M962.4 649.1V657.7M1025.8 649.1V657.7M1089.2 649.1V657.7" fill="none" stroke="#787878" stroke-width="1.4"/>
<text transform="translate(825.6 655.3) scale(0.9615 1)" font-size="17.47" stroke-width="0.38" text-anchor="end">0</text>
<text transform="translate(825.6 580.4) scale(0.9615 1)" font-size="17.47" stroke-width="0.38" text-anchor="end">50</text>
<text transform="translate(825.6 505.5) scale(0.9615 1)" font-size="17.47" stroke-width="0.38" text-anchor="end">100</text>
<text transform="translate(825.6 430.6) scale(0.9615 1)" font-size="17.47" stroke-width="0.38" text-anchor="end">150</text>
<text transform="translate(835 674.2) scale(0.9615 1)" font-size="17.47" stroke-width="0.38" text-anchor="middle">-8</text>
<text transform="translate(898.4 674.2) scale(0.9615 1)" font-size="17.47" stroke-width="0.38" text-anchor="middle">-6</text>
<text transform="translate(961.8 674.2) scale(0.9615 1)" font-size="17.47" stroke-width="0.38" text-anchor="middle">-4</text>
<text transform="translate(1025.2 674.2) scale(0.9615 1)" font-size="17.47" stroke-width="0.38" text-anchor="middle">-2</text>
<text transform="translate(1089.2 674.2) scale(0.9615 1)" font-size="17.47" stroke-width="0.38" text-anchor="middle">0</text>
<text transform="translate(962.4 699.5) scale(0.9434 1)" font-size="19.19" stroke-width="0.42" text-anchor="middle">Log<tspan font-size="13.57" dy="4.6">10</tspan><tspan dy="-4.6">[sera dilution]</tspan></text>
<text transform="translate(785 536.8) rotate(-90) scale(0.9434 1)" font-size="19.19" stroke-width="0.42" text-anchor="middle">Relative Infectivity</text>
<path d="M880 499.3L882.6 499.3L885.2 499.3L887.9 499.3L890.5 499.3L893.1 499.3L895.8 499.3L898.4 499.3L901 499.3L903.7 499.3L906.3 499.3L908.9 499.3L911.6 499.3L914.2 499.3L916.8 499.4L919.5 499.4L922.1 499.4L924.7 499.4L927.4 499.4L930 499.4L932.6 499.4L935.3 499.4L937.9 499.5L940.5 499.5L943.2 499.5L945.8 499.6L948.4 499.6L951.1 499.7L953.7 499.7L956.3 499.8L959 499.9L961.6 500L964.2 500.1L966.9 500.2L969.5 500.3L972.1 500.5L974.8 500.7L977.4 500.9L980 501.2L982.7 501.5L985.3 501.8L987.9 502.2L990.6 502.7L993.2 503.2L995.8 503.9L998.5 504.6L1001.1 505.4L1003.7 506.4L1006.4 507.5L1009 508.7L1011.6 510.2L1014.2 511.8L1016.9 513.6L1019.5 515.7L1022.1 518.1L1024.8 520.7L1027.4 523.7L1030 526.9L1032.7 530.5L1035.3 534.4M880 499.3L882.6 499.3L885.2 499.3L887.9 499.3L890.5 499.3L893.1 499.3L895.8 499.3L898.4 499.3L901 499.3L903.7 499.3L906.3 499.3L908.9 499.3L911.6 499.3L914.2 499.3L916.8 499.3L919.5 499.3L922.1 499.3L924.7 499.3L927.4 499.4L930 499.4L932.6 499.4L935.3 499.4L937.9 499.4L940.5 499.4L943.2 499.5L945.8 499.5L948.4 499.5L951.1 499.6L953.7 499.6L956.3 499.7L959 499.7L961.6 499.8L964.2 499.9L966.9 500L969.5 500.2L972.1 500.4L974.8 500.6L977.4 500.8L980 501.1L982.7 501.4L985.3 501.8L987.9 502.3L990.6 502.9L993.2 503.6L995.8 504.4L998.5 505.3L1001.1 506.4L1003.7 507.7L1006.4 509.3L1009 511.1L1011.6 513.1L1014.2 515.5L1016.9 518.3L1019.5 521.4L1022.1 524.9L1024.8 528.9L1027.4 533.4L1030 538.3L1032.7 543.6L1035.3 549.3M880 499.3L882.6 499.3L885.2 499.3L887.9 499.3L890.5 499.3L893.1 499.4L895.8 499.4L898.4 499.4L901 499.4L903.7 499.4L906.3 499.4L908.9 499.5L911.6 499.5L914.2 499.5L916.8 499.5L919.5 499.6L922.1 499.6L924.7 499.7L927.4 499.8L930 499.8L932.6 499.9L935.3 500L937.9 500.1L940.5 500.3L943.2 500.5L945.8 500.7L948.4 500.9L951.1 501.1L953.7 501.5L956.3 501.8L959 502.2L961.6 502.7L964.2 503.3L966.9 504L969.5 504.7L972.1 505.6L974.8 506.6L977.4 507.8L980 509.2L982.7 510.7L985.3 512.5L987.9 514.5L990.6 516.8L993.2 519.4L995.8 522.3L998.5 525.6L1001.1 529.2L1003.7 533.1L1006.4 537.4L1009 542.1L1011.6 547L1014.2 552.3L1016.9 557.8L1019.5 563.5L1022.1 569.3L1024.8 575.2L1027.4 581.1L1030 586.9L1032.7 592.6L1035.3 598M880 500L882.6 500.1L885.2 500.1L887.9 500.2L890.5 500.3L893.1 500.4L895.8 500.5L898.4 500.5L901 500.6L903.7 500.8L906.3 500.9L908.9 501L911.6 501.1L914.2 501.3L916.8 501.5L919.5 501.6L922.1 501.8L924.7 502L927.4 502.3L930 502.5L932.6 502.8L935.3 503L937.9 503.3L940.5 503.7L943.2 504L945.8 504.4L948.4 504.8L951.1 505.2L953.7 505.7L956.3 506.2L959 506.7L961.6 507.3L964.2 507.9L966.9 508.6L969.5 509.3L972.1 510.1L974.8 510.9L977.4 511.8L980 512.8L982.7 513.8L985.3 514.8L987.9 516L990.6 517.2L993.2 518.5L995.8 519.9L998.5 521.3L1001.1 522.8L1003.7 524.5L1006.4 526.2L1009 528L1011.6 529.9L1014.2 531.8L1016.9 533.9L1019.5 536.1L1022.1 538.3L1024.8 540.7L1027.4 543.1L1030 545.6L1032.7 548.2L1035.3 550.8M880 499.3L882.6 499.3L885.2 499.3L887.9 499.3L890.5 499.3L893.1 499.4L895.8 499.4L898.4 499.4L901 499.4L903.7 499.4L906.3 499.4L908.9 499.4L911.6 499.5L914.2 499.5L916.8 499.5L919.5 499.6L922.1 499.7L924.7 499.7L927.4 499.8L930 499.9L932.6 500L935.3 500.1L937.9 500.3L940.5 500.5L943.2 500.7L945.8 500.9L948.4 501.2L951.1 501.6L953.7 502L956.3 502.5L959 503.1L961.6 503.8L964.2 504.6L966.9 505.6L969.5 506.7L972.1 508L974.8 509.6L977.4 511.3L980 513.4L982.7 515.8L985.3 518.5L987.9 521.5L990.6 525L993.2 528.9L995.8 533.2L998.5 537.9L1001.1 543L1003.7 548.6L1006.4 554.4L1009 560.5L1011.6 566.9L1014.2 573.3L1016.9 579.7L1019.5 586.1L1022.1 592.3L1024.8 598.2L1027.4 603.8L1030 609.1L1032.7 613.9L1035.3 618.4M880 499.3L882.6 499.3L885.2 499.3L887.9 499.3L890.5 499.3L893.1 499.4L895.8 499.4L898.4 499.4L901 499.4L903.7 499.4L906.3 499.4L908.9 499.5L911.6 499.5L914.2 499.5L916.8 499.6L919.5 499.6L922.1 499.7L924.7 499.8L927.4 499.8L930 500L932.6 500.1L935.3 500.2L937.9 500.4L940.5 500.6L943.2 500.9L945.8 501.2L948.4 501.5L951.1 501.9L953.7 502.4L956.3 503L959 503.7L961.6 504.5L964.2 505.5L966.9 506.7L969.5 508L972.1 509.6L974.8 511.4L977.4 513.5L980 515.9L982.7 518.7L985.3 521.9L987.9 525.5L990.6 529.5L993.2 534L995.8 538.9L998.5 544.3L1001.1 550.1L1003.7 556.1L1006.4 562.5L1009 569L1011.6 575.6L1014.2 582.2L1016.9 588.6L1019.5 594.9L1022.1 600.8L1024.8 606.4L1027.4 611.6L1030 616.3L1032.7 620.6L1035.3 624.5" fill="none" stroke="#2b2b2b" stroke-width="1.45" stroke-linejoin="round"/>
<g fill="#7a0b4b" stroke="#33001c" stroke-width="1.25" fill-opacity="1"><rect x="918.9" y="468.4" width="10.9" height="10.9"/><rect x="941.1" y="496.1" width="10.9" height="10.9"/><rect x="963.3" y="499.8" width="10.9" height="10.9"/><rect x="1007.7" y="504.3" width="10.9" height="10.9"/><rect x="1029.9" y="529.2" width="10.9" height="10.9"/></g>
<g fill="#e8177d" stroke="#4a0a28" stroke-width="1.25" fill-opacity="1"><path d="M880 493.4L885.1 503.5L874.9 503.5Z"/><path d="M946.6 482.2L951.7 492.3L941.5 492.3Z"/><path d="M968.7 462.8L973.8 472.9L963.6 472.9Z"/><path d="M990.9 500L996 510.1L985.8 510.1Z"/><path d="M1013.1 513.5L1018.2 523.6L1008 523.6Z"/><path d="M1035.3 541.9L1040.4 552L1030.2 552Z"/></g>
<g fill="#773c0a" stroke="#241000" stroke-width="1.25" fill-opacity="1"><circle cx="946.6" cy="472.9" r="5.5"/><circle cx="968.7" cy="512" r="5.5"/><circle cx="990.9" cy="520.9" r="5.5"/><circle cx="1013.1" cy="547.8" r="5.5"/><circle cx="1035.3" cy="598.5" r="5.5"/></g>
<g fill="#ea1fea" stroke="#3d0a3d" stroke-width="1.25" fill-opacity="1"><circle cx="880" cy="509.8" r="5.5"/><circle cx="902.2" cy="492.7" r="5.5"/><circle cx="924.4" cy="494.8" r="5.5"/><circle cx="968.7" cy="518.5" r="5.5"/><circle cx="990.9" cy="496.8" r="5.5"/><circle cx="1013.1" cy="555.6" r="5.5"/><circle cx="1035.3" cy="541.2" r="5.5"/></g>
<g fill="#e3120b" stroke="#3c0000" stroke-width="1.25" fill-opacity="1"><circle cx="880" cy="491.8" r="5.5"/><circle cx="902.2" cy="515.2" r="5.5"/><circle cx="924.4" cy="507.4" r="5.5"/><circle cx="946.6" cy="521.8" r="5.5"/><circle cx="968.7" cy="487.5" r="5.5"/><circle cx="990.9" cy="530.8" r="5.5"/><circle cx="1013.1" cy="570.3" r="5.5"/></g>
<g fill="#343434" stroke="#0d0d0d" stroke-width="1.25" fill-opacity="1"><circle cx="880" cy="486.6" r="5.5"/><circle cx="902.2" cy="502.7" r="5.5"/><circle cx="924.4" cy="480.7" r="5.5"/><circle cx="946.6" cy="501.5" r="5.5"/><circle cx="968.7" cy="493.6" r="5.5"/><circle cx="990.9" cy="534.7" r="5.5"/><circle cx="1013.1" cy="583.3" r="5.5"/><circle cx="1035.3" cy="617.6" r="5.5"/></g>
</g>
<g>
<text transform="translate(1296.5 400.2) scale(0.9434 1)" font-size="22.68" stroke-width="0.32" text-anchor="middle">353-58</text>
<path d="M1169.7 423.7V649.1H1424M1160.7 649.1H1169.7M1160.7 574.2H1169.7M1160.7 499.3H1169.7M1160.7 424.4H1169.7M1169.7 649.1V657.7M1233.1 649.1V657.7M1296.5 649.1V657.7M1359.9 649.1V657.7M1423.3 649.1V657.7" fill="none" stroke="#787878" stroke-width="1.4"/>
<text transform="translate(1159.7 655.3) scale(0.9615 1)" font-size="17.47" stroke-width="0.38" text-anchor="end">0</text>
<text transform="translate(1159.7 580.4) scale(0.9615 1)" font-size="17.47" stroke-width="0.38" text-anchor="end">50</text>
<text transform="translate(1159.7 505.5) scale(0.9615 1)" font-size="17.47" stroke-width="0.38" text-anchor="end">100</text>
<text transform="translate(1159.7 430.6) scale(0.9615 1)" font-size="17.47" stroke-width="0.38" text-anchor="end">150</text>
<text transform="translate(1169.1 674.2) scale(0.9615 1)" font-size="17.47" stroke-width="0.38" text-anchor="middle">-8</text>
<text transform="translate(1232.5 674.2) scale(0.9615 1)" font-size="17.47" stroke-width="0.38" text-anchor="middle">-6</text>
<text transform="translate(1295.9 674.2) scale(0.9615 1)" font-size="17.47" stroke-width="0.38" text-anchor="middle">-4</text>
<text transform="translate(1359.3 674.2) scale(0.9615 1)" font-size="17.47" stroke-width="0.38" text-anchor="middle">-2</text>
<text transform="translate(1423.3 674.2) scale(0.9615 1)" font-size="17.47" stroke-width="0.38" text-anchor="middle">0</text>
<text transform="translate(1296.5 699.5) scale(0.9434 1)" font-size="19.19" stroke-width="0.42" text-anchor="middle">Log<tspan font-size="13.57" dy="4.6">10</tspan><tspan dy="-4.6">[sera dilution]</tspan></text>
<text transform="translate(1119.1 536.8) rotate(-90) scale(0.9434 1)" font-size="19.19" stroke-width="0.42" text-anchor="middle">Relative Infectivity</text>
<path d="M1214.1 499.3L1216.7 499.3L1219.3 499.3L1222 499.3L1224.6 499.3L1227.2 499.3L1229.9 499.3L1232.5 499.3L1235.1 499.3L1237.8 499.3L1240.4 499.3L1243 499.3L1245.7 499.3L1248.3 499.3L1250.9 499.3L1253.6 499.3L1256.2 499.3L1258.8 499.3L1261.5 499.3L1264.1 499.3L1266.7 499.3L1269.4 499.4L1272 499.4L1274.6 499.4L1277.3 499.4L1279.9 499.5L1282.5 499.5L1285.2 499.6L1287.8 499.6L1290.4 499.7L1293.1 499.8L1295.7 500L1298.3 500.1L1301 500.4L1303.6 500.6L1306.2 501L1308.9 501.5L1311.5 502L1314.1 502.7L1316.8 503.6L1319.4 504.8L1322 506.2L1324.7 507.9L1327.3 510.1L1329.9 512.8L1332.6 516L1335.2 519.9L1337.8 524.5L1340.5 530L1343.1 536.2L1345.7 543.2L1348.3 551L1351 559.4L1353.6 568.2L1356.2 577.1L1358.9 586L1361.5 594.5L1364.1 602.5L1366.8 609.8L1369.4 616.3M1214.1 499.3L1216.7 499.3L1219.3 499.3L1222 499.3L1224.6 499.3L1227.2 499.3L1229.9 499.3L1232.5 499.3L1235.1 499.3L1237.8 499.3L1240.4 499.3L1243 499.3L1245.7 499.3L1248.3 499.3L1250.9 499.3L1253.6 499.3L1256.2 499.3L1258.8 499.3L1261.5 499.3L1264.1 499.3L1266.7 499.3L1269.4 499.3L1272 499.3L1274.6 499.3L1277.3 499.3L1279.9 499.3L1282.5 499.3L1285.2 499.3L1287.8 499.3L1290.4 499.4L1293.1 499.4L1295.7 499.4L1298.3 499.5L1301 499.5L1303.6 499.6L1306.2 499.7L1308.9 499.8L1311.5 499.9L1314.1 500.2L1316.8 500.5L1319.4 500.8L1322 501.4L1324.7 502L1327.3 502.9L1329.9 504.1L1332.6 505.7L1335.2 507.7L1337.8 510.3L1340.5 513.6L1343.1 517.9L1345.7 523.1L1348.3 529.5L1351 537.1L1353.6 545.9L1356.2 555.7L1358.9 566.2L1361.5 577L1364.1 587.7L1366.8 597.9L1369.4 607.2M1214.1 499.5L1216.7 499.5L1219.3 499.5L1222 499.5L1224.6 499.6L1227.2 499.6L1229.9 499.7L1232.5 499.7L1235.1 499.8L1237.8 499.9L1240.4 499.9L1243 500L1245.7 500.1L1248.3 500.3L1250.9 500.4L1253.6 500.6L1256.2 500.8L1258.8 501L1261.5 501.3L1264.1 501.6L1266.7 501.9L1269.4 502.3L1272 502.8L1274.6 503.3L1277.3 503.9L1279.9 504.5L1282.5 505.3L1285.2 506.2L1287.8 507.2L1290.4 508.3L1293.1 509.6L1295.7 511.1L1298.3 512.7L1301 514.5L1303.6 516.6L1306.2 518.9L1308.9 521.5L1311.5 524.3L1314.1 527.4L1316.8 530.8L1319.4 534.5L1322 538.4L1324.7 542.7L1327.3 547.2L1329.9 552L1332.6 556.9L1335.2 562.1L1337.8 567.3L1340.5 572.6L1343.1 577.9L1345.7 583.2L1348.3 588.4L1351 593.5L1353.6 598.4L1356.2 603L1358.9 607.5L1361.5 611.6L1364.1 615.5L1366.8 619L1369.4 622.3M1214.1 501.1L1216.7 501.3L1219.3 501.4L1222 501.6L1224.6 501.8L1227.2 502L1229.9 502.2L1232.5 502.4L1235.1 502.7L1237.8 502.9L1240.4 503.2L1243 503.5L1245.7 503.9L1248.3 504.2L1250.9 504.6L1253.6 505.1L1256.2 505.5L1258.8 506L1261.5 506.5L1264.1 507.1L1266.7 507.7L1269.4 508.3L1272 509L1274.6 509.8L1277.3 510.6L1279.9 511.4L1282.5 512.3L1285.2 513.3L1287.8 514.3L1290.4 515.4L1293.1 516.6L1295.7 517.8L1298.3 519.2L1301 520.6L1303.6 522.1L1306.2 523.6L1308.9 525.3L1311.5 527L1314.1 528.8L1316.8 530.8L1319.4 532.8L1322 534.9L1324.7 537L1327.3 539.3L1329.9 541.7L1332.6 544.1L1335.2 546.6L1337.8 549.2L1340.5 551.9L1343.1 554.6L1345.7 557.4L1348.3 560.2L1351 563.1L1353.6 566L1356.2 568.9L1358.9 571.9L1361.5 574.9L1364.1 577.8L1366.8 580.8L1369.4 583.7M1214.1 499.3L1216.7 499.3L1219.3 499.3L1222 499.3L1224.6 499.3L1227.2 499.3L1229.9 499.3L1232.5 499.3L1235.1 499.3L1237.8 499.3L1240.4 499.3L1243 499.3L1245.7 499.3L1248.3 499.3L1250.9 499.4L1253.6 499.4L1256.2 499.4L1258.8 499.4L1261.5 499.4L1264.1 499.4L1266.7 499.5L1269.4 499.5L1272 499.6L1274.6 499.6L1277.3 499.7L1279.9 499.8L1282.5 499.9L1285.2 500.1L1287.8 500.2L1290.4 500.4L1293.1 500.7L1295.7 501L1298.3 501.4L1301 501.9L1303.6 502.5L1306.2 503.2L1308.9 504L1311.5 505L1314.1 506.3L1316.8 507.8L1319.4 509.6L1322 511.8L1324.7 514.3L1327.3 517.4L1329.9 520.9L1332.6 525L1335.2 529.7L1337.8 535L1340.5 540.9L1343.1 547.3L1345.7 554.3L1348.3 561.6L1351 569.2L1353.6 576.9L1356.2 584.6L1358.9 592L1361.5 599.1L1364.1 605.7L1366.8 611.8L1369.4 617.2M1214.1 499.4L1216.7 499.4L1219.3 499.4L1222 499.4L1224.6 499.4L1227.2 499.5L1229.9 499.5L1232.5 499.5L1235.1 499.6L1237.8 499.6L1240.4 499.7L1243 499.8L1245.7 499.9L1248.3 500L1250.9 500.1L1253.6 500.2L1256.2 500.4L1258.8 500.6L1261.5 500.9L1264.1 501.2L1266.7 501.5L1269.4 501.9L1272 502.4L1274.6 503L1277.3 503.7L1279.9 504.5L1282.5 505.4L1285.2 506.5L1287.8 507.8L1290.4 509.3L1293.1 511L1295.7 513.1L1298.3 515.4L1301 518L1303.6 521.1L1306.2 524.5L1308.9 528.4L1311.5 532.6L1314.1 537.4L1316.8 542.5L1319.4 548L1322 553.9L1324.7 560L1327.3 566.4L1329.9 572.8L1332.6 579.3L1335.2 585.7L1337.8 592L1340.5 598L1343.1 603.7L1345.7 609L1348.3 613.8L1351 618.3L1353.6 622.3L1356.2 625.9L1358.9 629.1L1361.5 632L1364.1 634.4L1366.8 636.6L1369.4 638.4" fill="none" stroke="#2b2b2b" stroke-width="1.45" stroke-linejoin="round"/>
<g fill="#7a0b4b" stroke="#33001c" stroke-width="1.25" fill-opacity="1"><rect x="1208.6" y="502.8" width="10.9" height="10.9"/><rect x="1230.8" y="493.9" width="10.9" height="10.9"/><rect x="1253" y="488.2" width="10.9" height="10.9"/><rect x="1275.2" y="492.4" width="10.9" height="10.9"/><rect x="1297.4" y="470.2" width="10.9" height="10.9"/><rect x="1319.6" y="509.7" width="10.9" height="10.9"/><rect x="1341.8" y="541.5" width="10.9" height="10.9"/></g>
<g fill="#e8177d" stroke="#4a0a28" stroke-width="1.25" fill-opacity="1"><path d="M1258.5 504.2L1263.6 514.3L1253.4 514.3Z"/><path d="M1302.8 469.4L1307.9 479.5L1297.7 479.5Z"/><path d="M1325 485.9L1330.1 496L1319.9 496Z"/><path d="M1347.2 524.1L1352.3 534.2L1342.1 534.2Z"/><path d="M1369.4 599.9L1374.5 610L1364.3 610Z"/></g>
<g fill="#773c0a" stroke="#241000" stroke-width="1.25" fill-opacity="1"><circle cx="1214.1" cy="500" r="5.5"/><circle cx="1280.7" cy="483.4" r="5.5"/><circle cx="1302.8" cy="528.5" r="5.5"/><circle cx="1325" cy="541.4" r="5.5"/><circle cx="1347.2" cy="586.9" r="5.5"/><circle cx="1369.4" cy="620.6" r="5.5"/></g>
<g fill="#ea1fea" stroke="#3d0a3d" stroke-width="1.25" fill-opacity="1"><circle cx="1214.1" cy="511.4" r="5.5"/><circle cx="1236.3" cy="484.3" r="5.5"/><circle cx="1258.5" cy="518.5" r="5.5"/><circle cx="1280.7" cy="524.8" r="5.5"/><circle cx="1302.8" cy="521.8" r="5.5"/><circle cx="1325" cy="531.4" r="5.5"/><circle cx="1347.2" cy="547.5" r="5.5"/><circle cx="1369.4" cy="594.4" r="5.5"/></g>
<g fill="#e3120b" stroke="#3c0000" stroke-width="1.25" fill-opacity="1"><circle cx="1236.3" cy="515.8" r="5.5"/><circle cx="1258.5" cy="486.3" r="5.5"/><circle cx="1302.8" cy="501.5" r="5.5"/><circle cx="1325" cy="508" r="5.5"/><circle cx="1347.2" cy="564" r="5.5"/><circle cx="1369.4" cy="613.1" r="5.5"/></g>
<g fill="#343434" stroke="#0d0d0d" stroke-width="1.25" fill-opacity="1"><circle cx="1214.1" cy="495.4" r="5.5"/><circle cx="1236.3" cy="493" r="5.5"/><circle cx="1258.5" cy="500.9" r="5.5"/><circle cx="1280.7" cy="489.4" r="5.5"/><circle cx="1302.8" cy="513.2" r="5.5"/><circle cx="1325" cy="575.1" r="5.5"/><circle cx="1347.2" cy="600.3" r="5.5"/><circle cx="1369.4" cy="640" r="5.5"/></g>
</g>
<g>
<text transform="translate(1638.7 400.2) scale(0.9434 1)" font-size="22.68" stroke-width="0.32" text-anchor="middle">353-59</text>
<path d="M1511.9 423.7V649.1H1766.2M1502.9 649.1H1511.9M1502.9 574.2H1511.9M1502.9 499.3H1511.9M1502.9 424.4H1511.9M1511.9 649.1V657.7M1575.3 649.1V657.7M1638.7 649.1V657.7M1702.1 649.1V657.7M1765.5 649.1V657.7" fill="none" stroke="#787878" stroke-width="1.4"/>
<text transform="translate(1501.9 655.3) scale(0.9615 1)" font-size="17.47" stroke-width="0.38" text-anchor="end">0</text>
<text transform="translate(1501.9 580.4) scale(0.9615 1)" font-size="17.47" stroke-width="0.38" text-anchor="end">50</text>
<text transform="translate(1501.9 505.5) scale(0.9615 1)" font-size="17.47" stroke-width="0.38" text-anchor="end">100</text>
<text transform="translate(1501.9 430.6) scale(0.9615 1)" font-size="17.47" stroke-width="0.38" text-anchor="end">150</text>
<text transform="translate(1511.3 674.2) scale(0.9615 1)" font-size="17.47" stroke-width="0.38" text-anchor="middle">-8</text>
<text transform="translate(1574.7 674.2) scale(0.9615 1)" font-size="17.47" stroke-width="0.38" text-anchor="middle">-6</text>
<text transform="translate(1638.1 674.2) scale(0.9615 1)" font-size="17.47" stroke-width="0.38" text-anchor="middle">-4</text>
<text transform="translate(1701.5 674.2) scale(0.9615 1)" font-size="17.47" stroke-width="0.38" text-anchor="middle">-2</text>
<text transform="translate(1765.5 674.2) scale(0.9615 1)" font-size="17.47" stroke-width="0.38" text-anchor="middle">0</text>
<text transform="translate(1638.7 699.5) scale(0.9434 1)" font-size="19.19" stroke-width="0.42" text-anchor="middle">Log<tspan font-size="13.57" dy="4.6">10</tspan><tspan dy="-4.6">[sera dilution]</tspan></text>
<text transform="translate(1461.3 536.8) rotate(-90) scale(0.9434 1)" font-size="19.19" stroke-width="0.42" text-anchor="middle">Relative Infectivity</text>
<path d="M1556.3 499.3L1558.9 499.3L1561.5 499.3L1564.2 499.3L1566.8 499.3L1569.4 499.3L1572.1 499.3L1574.7 499.3L1577.3 499.3L1580 499.3L1582.6 499.3L1585.2 499.3L1587.9 499.3L1590.5 499.3L1593.1 499.3L1595.8 499.3L1598.4 499.3L1601 499.3L1603.7 499.3L1606.3 499.3L1608.9 499.3L1611.6 499.3L1614.2 499.3L1616.8 499.3L1619.5 499.3L1622.1 499.4L1624.7 499.4L1627.4 499.4L1630 499.4L1632.6 499.5L1635.3 499.5L1637.9 499.6L1640.5 499.7L1643.2 499.8L1645.8 500L1648.4 500.2L1651.1 500.5L1653.7 500.9L1656.3 501.4L1659 502L1661.6 502.8L1664.2 503.9L1666.9 505.3L1669.5 507.1L1672.1 509.4L1674.8 512.3L1677.4 516L1680 520.5L1682.7 526L1685.3 532.6L1687.9 540.3L1690.5 548.9L1693.2 558.4L1695.8 568.5L1698.4 578.8L1701.1 588.9L1703.7 598.4L1706.3 607.2L1709 615L1711.6 621.7M1556.3 499.3L1558.9 499.3L1561.5 499.3L1564.2 499.3L1566.8 499.3L1569.4 499.3L1572.1 499.3L1574.7 499.4L1577.3 499.4L1580 499.4L1582.6 499.4L1585.2 499.4L1587.9 499.4L1590.5 499.5L1593.1 499.5L1595.8 499.5L1598.4 499.6L1601 499.7L1603.7 499.7L1606.3 499.8L1608.9 499.9L1611.6 500L1614.2 500.2L1616.8 500.3L1619.5 500.5L1622.1 500.8L1624.7 501.1L1627.4 501.4L1630 501.9L1632.6 502.3L1635.3 502.9L1637.9 503.6L1640.5 504.5L1643.2 505.5L1645.8 506.6L1648.4 508L1651.1 509.6L1653.7 511.5L1656.3 513.7L1659 516.3L1661.6 519.2L1664.2 522.5L1666.9 526.3L1669.5 530.6L1672.1 535.3L1674.8 540.5L1677.4 546.1L1680 552.2L1682.7 558.5L1685.3 565.1L1687.9 571.9L1690.5 578.7L1693.2 585.4L1695.8 591.9L1698.4 598.2L1701.1 604.1L1703.7 609.6L1706.3 614.7L1709 619.2L1711.6 623.3M1556.3 504.7L1558.9 505.2L1561.5 505.8L1564.2 506.4L1566.8 507.1L1569.4 507.9L1572.1 508.7L1574.7 509.6L1577.3 510.5L1580 511.6L1582.6 512.7L1585.2 514L1587.9 515.3L1590.5 516.8L1593.1 518.3L1595.8 520L1598.4 521.8L1601 523.7L1603.7 525.8L1606.3 527.9L1608.9 530.3L1611.6 532.7L1614.2 535.3L1616.8 538.1L1619.5 540.9L1622.1 543.9L1624.7 547L1627.4 550.2L1630 553.5L1632.6 557L1635.3 560.4L1637.9 564L1640.5 567.6L1643.2 571.2L1645.8 574.9L1648.4 578.5L1651.1 582.1L1653.7 585.7L1656.3 589.2L1659 592.7L1661.6 596.1L1664.2 599.4L1666.9 602.5L1669.5 605.6L1672.1 608.5L1674.8 611.4L1677.4 614L1680 616.6L1682.7 619L1685.3 621.3L1687.9 623.4L1690.5 625.4L1693.2 627.3L1695.8 629L1698.4 630.7L1701.1 632.2L1703.7 633.6L1706.3 634.9L1709 636.1L1711.6 637.2M1556.3 499.9L1558.9 499.9L1561.5 500L1564.2 500.1L1566.8 500.2L1569.4 500.3L1572.1 500.4L1574.7 500.6L1577.3 500.7L1580 500.9L1582.6 501.1L1585.2 501.3L1587.9 501.5L1590.5 501.8L1593.1 502L1595.8 502.4L1598.4 502.7L1601 503.1L1603.7 503.6L1606.3 504.1L1608.9 504.6L1611.6 505.2L1614.2 505.9L1616.8 506.7L1619.5 507.5L1622.1 508.5L1624.7 509.5L1627.4 510.6L1630 511.9L1632.6 513.2L1635.3 514.7L1637.9 516.4L1640.5 518.2L1643.2 520.1L1645.8 522.3L1648.4 524.6L1651.1 527L1653.7 529.7L1656.3 532.6L1659 535.6L1661.6 538.8L1664.2 542.2L1666.9 545.8L1669.5 549.5L1672.1 553.3L1674.8 557.3L1677.4 561.4L1680 565.6L1682.7 569.8L1685.3 574.1L1687.9 578.3L1690.5 582.5L1693.2 586.7L1695.8 590.8L1698.4 594.8L1701.1 598.7L1703.7 602.4L1706.3 606L1709 609.4L1711.6 612.6M1556.3 505.9L1558.9 506.5L1561.5 507.1L1564.2 507.8L1566.8 508.6L1569.4 509.4L1572.1 510.3L1574.7 511.2L1577.3 512.2L1580 513.3L1582.6 514.5L1585.2 515.7L1587.9 517.1L1590.5 518.5L1593.1 520L1595.8 521.7L1598.4 523.4L1601 525.3L1603.7 527.3L1606.3 529.3L1608.9 531.5L1611.6 533.9L1614.2 536.3L1616.8 538.8L1619.5 541.5L1622.1 544.2L1624.7 547L1627.4 550L1630 553L1632.6 556.1L1635.3 559.3L1637.9 562.5L1640.5 565.8L1643.2 569.1L1645.8 572.4L1648.4 575.8L1651.1 579.1L1653.7 582.4L1656.3 585.7L1659 588.9L1661.6 592.1L1664.2 595.2L1666.9 598.2L1669.5 601.2L1672.1 604L1674.8 606.8L1677.4 609.4L1680 612L1682.7 614.4L1685.3 616.7L1687.9 618.9L1690.5 621L1693.2 623L1695.8 624.8L1698.4 626.6L1701.1 628.2L1703.7 629.8L1706.3 631.2L1709 632.6L1711.6 633.9M1556.3 501.2L1558.9 501.5L1561.5 501.8L1564.2 502.1L1566.8 502.5L1569.4 503L1572.1 503.5L1574.7 504.1L1577.3 504.8L1580 505.6L1582.6 506.5L1585.2 507.5L1587.9 508.7L1590.5 510L1593.1 511.4L1595.8 513.1L1598.4 514.9L1601 516.9L1603.7 519.2L1606.3 521.7L1608.9 524.5L1611.6 527.5L1614.2 530.8L1616.8 534.4L1619.5 538.3L1622.1 542.4L1624.7 546.8L1627.4 551.4L1630 556.2L1632.6 561.1L1635.3 566.2L1637.9 571.4L1640.5 576.6L1643.2 581.7L1645.8 586.8L1648.4 591.8L1651.1 596.6L1653.7 601.2L1656.3 605.6L1659 609.7L1661.6 613.6L1664.2 617.2L1666.9 620.6L1669.5 623.6L1672.1 626.4L1674.8 629L1677.4 631.3L1680 633.3L1682.7 635.2L1685.3 636.8L1687.9 638.3L1690.5 639.6L1693.2 640.8L1695.8 641.8L1698.4 642.7L1701.1 643.5L1703.7 644.2L1706.3 644.8L1709 645.4L1711.6 645.8" fill="none" stroke="#2b2b2b" stroke-width="1.45" stroke-linejoin="round"/>
<g fill="#7a0b4b" stroke="#33001c" stroke-width="1.25" fill-opacity="1"><rect x="1550.8" y="488.2" width="10.9" height="10.9"/><rect x="1595.2" y="502.8" width="10.9" height="10.9"/><rect x="1617.4" y="486.4" width="10.9" height="10.9"/><rect x="1639.6" y="520.4" width="10.9" height="10.9"/><rect x="1661.8" y="504.3" width="10.9" height="10.9"/><rect x="1684" y="536.5" width="10.9" height="10.9"/><rect x="1706.2" y="618.8" width="10.9" height="10.9"/></g>
<g fill="#e8177d" stroke="#4a0a28" stroke-width="1.25" fill-opacity="1"><path d="M1600.7 492.4L1605.8 502.5L1595.6 502.5Z"/><path d="M1622.9 470.6L1628 480.7L1617.8 480.7Z"/><path d="M1667.2 528.8L1672.3 538.9L1662.1 538.9Z"/><path d="M1689.4 560.4L1694.5 570.5L1684.3 570.5Z"/></g>
<g fill="#773c0a" stroke="#241000" stroke-width="1.25" fill-opacity="1"><circle cx="1578.5" cy="517.6" r="5.5"/><circle cx="1645" cy="574.9" r="5.5"/><circle cx="1667.2" cy="601.8" r="5.5"/><circle cx="1689.4" cy="622.4" r="5.5"/></g>
<g fill="#ea1fea" stroke="#3d0a3d" stroke-width="1.25" fill-opacity="1"><circle cx="1556.3" cy="508.9" r="5.5"/><circle cx="1578.5" cy="494.8" r="5.5"/><circle cx="1600.7" cy="522.1" r="5.5"/><circle cx="1622.9" cy="520.3" r="5.5"/><circle cx="1645" cy="525.8" r="5.5"/><circle cx="1667.2" cy="542.3" r="5.5"/><circle cx="1689.4" cy="561.3" r="5.5"/><circle cx="1711.6" cy="634.4" r="5.5"/></g>
<g fill="#e3120b" stroke="#3c0000" stroke-width="1.25" fill-opacity="1"><circle cx="1556.3" cy="500" r="5.5"/><circle cx="1578.5" cy="510.7" r="5.5"/><circle cx="1600.7" cy="543.3" r="5.5"/><circle cx="1622.9" cy="537.3" r="5.5"/><circle cx="1645" cy="566.3" r="5.5"/><circle cx="1689.4" cy="617.6" r="5.5"/><circle cx="1711.6" cy="643.6" r="5.5"/></g>
<g fill="#343434" stroke="#0d0d0d" stroke-width="1.25" fill-opacity="1"><circle cx="1556.3" cy="484.8" r="5.5"/><circle cx="1578.5" cy="504.1" r="5.5"/><circle cx="1600.7" cy="519.4" r="5.5"/><circle cx="1622.9" cy="546.9" r="5.5"/><circle cx="1645" cy="582.9" r="5.5"/><circle cx="1667.2" cy="617.8" r="5.5"/><circle cx="1689.4" cy="644" r="5.5"/><circle cx="1711.6" cy="648.8" r="5.5"/></g>
</g>
<g>
<text transform="translate(1976.6 400.2) scale(0.9434 1)" font-size="22.68" stroke-width="0.32" text-anchor="middle">353-63</text>
<path d="M1849.8 423.7V649.1H2104.1M1840.8 649.1H1849.8M1840.8 574.2H1849.8M1840.8 499.3H1849.8M1840.8 424.4H1849.8M1849.8 649.1V657.7M1913.2 649.1V657.7M1976.6 649.1V657.7M2040 649.1V657.7M2103.4 649.1V657.7" fill="none" stroke="#787878" stroke-width="1.4"/>
<text transform="translate(1839.8 655.3) scale(0.9615 1)" font-size="17.47" stroke-width="0.38" text-anchor="end">0</text>
<text transform="translate(1839.8 580.4) scale(0.9615 1)" font-size="17.47" stroke-width="0.38" text-anchor="end">50</text>
<text transform="translate(1839.8 505.5) scale(0.9615 1)" font-size="17.47" stroke-width="0.38" text-anchor="end">100</text>
<text transform="translate(1839.8 430.6) scale(0.9615 1)" font-size="17.47" stroke-width="0.38" text-anchor="end">150</text>
<text transform="translate(1849.2 674.2) scale(0.9615 1)" font-size="17.47" stroke-width="0.38" text-anchor="middle">-8</text>
<text transform="translate(1912.6 674.2) scale(0.9615 1)" font-size="17.47" stroke-width="0.38" text-anchor="middle">-6</text>
<text transform="translate(1976 674.2) scale(0.9615 1)" font-size="17.47" stroke-width="0.38" text-anchor="middle">-4</text>
<text transform="translate(2039.4 674.2) scale(0.9615 1)" font-size="17.47" stroke-width="0.38" text-anchor="middle">-2</text>
<text transform="translate(2103.4 674.2) scale(0.9615 1)" font-size="17.47" stroke-width="0.38" text-anchor="middle">0</text>
<text transform="translate(1976.6 699.5) scale(0.9434 1)" font-size="19.19" stroke-width="0.42" text-anchor="middle">Log<tspan font-size="13.57" dy="4.6">10</tspan><tspan dy="-4.6">[sera dilution]</tspan></text>
<text transform="translate(1799.2 536.8) rotate(-90) scale(0.9434 1)" font-size="19.19" stroke-width="0.42" text-anchor="middle">Relative Infectivity</text>
<path d="M1894.2 499.6L1896.8 499.6L1899.4 499.6L1902.1 499.7L1904.7 499.7L1907.3 499.8L1910 499.8L1912.6 499.9L1915.2 499.9L1917.9 500L1920.5 500.1L1923.1 500.2L1925.8 500.3L1928.4 500.4L1931 500.5L1933.7 500.6L1936.3 500.8L1938.9 500.9L1941.6 501.1L1944.2 501.3L1946.8 501.5L1949.5 501.7L1952.1 502L1954.7 502.3L1957.4 502.6L1960 502.9L1962.6 503.3L1965.3 503.8L1967.9 504.2L1970.5 504.7L1973.2 505.3L1975.8 505.9L1978.4 506.6L1981.1 507.4L1983.7 508.2L1986.3 509.1L1989 510.1L1991.6 511.2L1994.2 512.4L1996.9 513.7L1999.5 515.1L2002.1 516.7L2004.8 518.3L2007.4 520.1L2010 522L2012.7 524.1L2015.3 526.3L2017.9 528.7L2020.6 531.2L2023.2 533.9L2025.8 536.8L2028.4 539.7L2031.1 542.9L2033.7 546.2L2036.3 549.6L2039 553.1L2041.6 556.7L2044.2 560.4L2046.9 564.2L2049.5 568.1M1894.2 499.6L1896.8 499.6L1899.4 499.7L1902.1 499.7L1904.7 499.7L1907.3 499.8L1910 499.9L1912.6 499.9L1915.2 500L1917.9 500.1L1920.5 500.2L1923.1 500.3L1925.8 500.4L1928.4 500.5L1931 500.6L1933.7 500.8L1936.3 500.9L1938.9 501.1L1941.6 501.3L1944.2 501.6L1946.8 501.8L1949.5 502.1L1952.1 502.4L1954.7 502.8L1957.4 503.2L1960 503.6L1962.6 504.1L1965.3 504.7L1967.9 505.3L1970.5 505.9L1973.2 506.6L1975.8 507.5L1978.4 508.3L1981.1 509.3L1983.7 510.4L1986.3 511.6L1989 512.9L1991.6 514.3L1994.2 515.8L1996.9 517.5L1999.5 519.4L2002.1 521.3L2004.8 523.5L2007.4 525.8L2010 528.3L2012.7 530.9L2015.3 533.8L2017.9 536.8L2020.6 539.9L2023.2 543.3L2025.8 546.7L2028.4 550.4L2031.1 554.1L2033.7 558L2036.3 562L2039 566L2041.6 570.1L2044.2 574.2L2046.9 578.3L2049.5 582.4M1894.2 499.5L1896.8 499.6L1899.4 499.6L1902.1 499.6L1904.7 499.7L1907.3 499.8L1910 499.8L1912.6 499.9L1915.2 500L1917.9 500.1L1920.5 500.2L1923.1 500.3L1925.8 500.5L1928.4 500.6L1931 500.8L1933.7 501L1936.3 501.3L1938.9 501.5L1941.6 501.8L1944.2 502.2L1946.8 502.6L1949.5 503.1L1952.1 503.6L1954.7 504.2L1957.4 504.9L1960 505.6L1962.6 506.5L1965.3 507.4L1967.9 508.5L1970.5 509.8L1973.2 511.2L1975.8 512.7L1978.4 514.4L1981.1 516.3L1983.7 518.5L1986.3 520.8L1989 523.4L1991.6 526.2L1994.2 529.3L1996.9 532.6L1999.5 536.2L2002.1 540.1L2004.8 544.1L2007.4 548.4L2010 553L2012.7 557.6L2015.3 562.5L2017.9 567.4L2020.6 572.4L2023.2 577.4L2025.8 582.4L2028.4 587.3L2031.1 592.1L2033.7 596.7L2036.3 601.2L2039 605.4L2041.6 609.4L2044.2 613.2L2046.9 616.7L2049.5 620M1894.2 499.4L1896.8 499.4L1899.4 499.4L1902.1 499.4L1904.7 499.4L1907.3 499.4L1910 499.4L1912.6 499.5L1915.2 499.5L1917.9 499.5L1920.5 499.5L1923.1 499.6L1925.8 499.6L1928.4 499.6L1931 499.7L1933.7 499.7L1936.3 499.8L1938.9 499.9L1941.6 499.9L1944.2 500L1946.8 500.1L1949.5 500.2L1952.1 500.4L1954.7 500.5L1957.4 500.7L1960 500.9L1962.6 501.1L1965.3 501.3L1967.9 501.6L1970.5 501.9L1973.2 502.2L1975.8 502.6L1978.4 503.1L1981.1 503.6L1983.7 504.1L1986.3 504.8L1989 505.5L1991.6 506.3L1994.2 507.2L1996.9 508.2L1999.5 509.4L2002.1 510.6L2004.8 512L2007.4 513.6L2010 515.4L2012.7 517.3L2015.3 519.4L2017.9 521.8L2020.6 524.3L2023.2 527.1L2025.8 530.2L2028.4 533.4L2031.1 536.9L2033.7 540.6L2036.3 544.6L2039 548.7L2041.6 553.1L2044.2 557.6L2046.9 562.2L2049.5 566.9M1894.2 500.2L1896.8 500.3L1899.4 500.5L1902.1 500.6L1904.7 500.7L1907.3 500.9L1910 501.1L1912.6 501.3L1915.2 501.5L1917.9 501.8L1920.5 502.1L1923.1 502.4L1925.8 502.7L1928.4 503.1L1931 503.6L1933.7 504.1L1936.3 504.6L1938.9 505.2L1941.6 505.8L1944.2 506.6L1946.8 507.4L1949.5 508.3L1952.1 509.3L1954.7 510.3L1957.4 511.5L1960 512.8L1962.6 514.2L1965.3 515.8L1967.9 517.5L1970.5 519.4L1973.2 521.4L1975.8 523.5L1978.4 525.9L1981.1 528.4L1983.7 531.1L1986.3 533.9L1989 536.9L1991.6 540.2L1994.2 543.5L1996.9 547.1L1999.5 550.7L2002.1 554.5L2004.8 558.5L2007.4 562.5L2010 566.5L2012.7 570.7L2015.3 574.8L2017.9 579L2020.6 583.1L2023.2 587.1L2025.8 591.1L2028.4 595L2031.1 598.8L2033.7 602.4L2036.3 605.9L2039 609.2L2041.6 612.4L2044.2 615.3L2046.9 618.2L2049.5 620.8M1894.2 499.4L1896.8 499.5L1899.4 499.5L1902.1 499.5L1904.7 499.6L1907.3 499.6L1910 499.7L1912.6 499.7L1915.2 499.8L1917.9 499.9L1920.5 500L1923.1 500.1L1925.8 500.2L1928.4 500.3L1931 500.5L1933.7 500.7L1936.3 500.9L1938.9 501.1L1941.6 501.4L1944.2 501.8L1946.8 502.2L1949.5 502.6L1952.1 503.1L1954.7 503.7L1957.4 504.4L1960 505.2L1962.6 506.1L1965.3 507.2L1967.9 508.4L1970.5 509.8L1973.2 511.3L1975.8 513.1L1978.4 515.1L1981.1 517.3L1983.7 519.8L1986.3 522.6L1989 525.7L1991.6 529.1L1994.2 532.9L1996.9 536.9L1999.5 541.3L2002.1 546L2004.8 550.9L2007.4 556.1L2010 561.5L2012.7 567L2015.3 572.5L2017.9 578.1L2020.6 583.7L2023.2 589.2L2025.8 594.4L2028.4 599.5L2031.1 604.4L2033.7 608.9L2036.3 613.2L2039 617.1L2041.6 620.7L2044.2 624L2046.9 627L2049.5 629.6" fill="none" stroke="#2b2b2b" stroke-width="1.45" stroke-linejoin="round"/>
<g fill="#7a0b4b" stroke="#33001c" stroke-width="1.25" fill-opacity="1"><rect x="1910.9" y="494.6" width="10.9" height="10.9"/><rect x="1933.1" y="516.3" width="10.9" height="10.9"/><rect x="1955.3" y="508.4" width="10.9" height="10.9"/><rect x="1999.7" y="510.3" width="10.9" height="10.9"/><rect x="2021.9" y="522.3" width="10.9" height="10.9"/><rect x="2044.1" y="569.5" width="10.9" height="10.9"/></g>
<g fill="#e8177d" stroke="#4a0a28" stroke-width="1.25" fill-opacity="1"><path d="M1894.2 502.4L1899.3 512.5L1889.1 512.5Z"/><path d="M1916.4 476.9L1921.5 487L1911.3 487Z"/><path d="M1938.6 515.9L1943.7 526L1933.5 526Z"/><path d="M2027.3 533.8L2032.4 543.9L2022.2 543.9Z"/><path d="M2049.5 583L2054.6 593.1L2044.4 593.1Z"/></g>
<g fill="#773c0a" stroke="#241000" stroke-width="1.25" fill-opacity="1"><circle cx="1894.2" cy="499.3" r="5.5"/><circle cx="1982.9" cy="530.5" r="5.5"/><circle cx="2005.1" cy="532.3" r="5.5"/><circle cx="2049.5" cy="621.5" r="5.5"/></g>
<g fill="#ea1fea" stroke="#3d0a3d" stroke-width="1.25" fill-opacity="1"><circle cx="1894.2" cy="516.2" r="5.5"/><circle cx="1916.4" cy="487.5" r="5.5"/><circle cx="1982.9" cy="499.3" r="5.5"/><circle cx="2005.1" cy="522.7" r="5.5"/><circle cx="2027.3" cy="524.8" r="5.5"/><circle cx="2049.5" cy="569.1" r="5.5"/></g>
<g fill="#e3120b" stroke="#3c0000" stroke-width="1.25" fill-opacity="1"><circle cx="1894.2" cy="482.5" r="5.5"/><circle cx="1916.4" cy="513.8" r="5.5"/><circle cx="1938.6" cy="510.1" r="5.5"/><circle cx="1960.8" cy="523.6" r="5.5"/><circle cx="2005.1" cy="558.9" r="5.5"/><circle cx="2027.3" cy="584.7" r="5.5"/><circle cx="2049.5" cy="632.6" r="5.5"/></g>
<g fill="#343434" stroke="#0d0d0d" stroke-width="1.25" fill-opacity="1"><circle cx="1894.2" cy="492.7" r="5.5"/><circle cx="1916.4" cy="494.5" r="5.5"/><circle cx="1938.6" cy="497.2" r="5.5"/><circle cx="1960.8" cy="500" r="5.5"/><circle cx="1982.9" cy="520.3" r="5.5"/><circle cx="2005.1" cy="553.4" r="5.5"/><circle cx="2027.3" cy="597.6" r="5.5"/><circle cx="2049.5" cy="627.1" r="5.5"/></g>
</g>
<g>
<text transform="translate(328.8 807.2) scale(0.9434 1)" font-size="22.68" stroke-width="0.32" text-anchor="middle">353-69</text>
<path d="M202 830.8V1056.2H456.3M193 1056.2H202M193 981.3H202M193 906.4H202M193 831.5H202M202 1056.2V1064.8M265.4 1056.2V1064.8M328.8 1056.2V1064.8M392.2 1056.2V1064.8M455.6 1056.2V1064.8" fill="none" stroke="#787878" stroke-width="1.4"/>
<text transform="translate(192 1062.4) scale(0.9615 1)" font-size="17.47" stroke-width="0.38" text-anchor="end">0</text>
<text transform="translate(192 987.5) scale(0.9615 1)" font-size="17.47" stroke-width="0.38" text-anchor="end">50</text>
<text transform="translate(192 912.6) scale(0.9615 1)" font-size="17.47" stroke-width="0.38" text-anchor="end">100</text>
<text transform="translate(192 837.7) scale(0.9615 1)" font-size="17.47" stroke-width="0.38" text-anchor="end">150</text>
<text transform="translate(201.4 1081.3) scale(0.9615 1)" font-size="17.47" stroke-width="0.38" text-anchor="middle">-8</text>
<text transform="translate(264.8 1081.3) scale(0.9615 1)" font-size="17.47" stroke-width="0.38" text-anchor="middle">-6</text>
<text transform="translate(328.2 1081.3) scale(0.9615 1)" font-size="17.47" stroke-width="0.38" text-anchor="middle">-4</text>
<text transform="translate(391.6 1081.3) scale(0.9615 1)" font-size="17.47" stroke-width="0.38" text-anchor="middle">-2</text>
<text transform="translate(455.6 1081.3) scale(0.9615 1)" font-size="17.47" stroke-width="0.38" text-anchor="middle">0</text>
<text transform="translate(328.8 1106.6) scale(0.9434 1)" font-size="19.19" stroke-width="0.42" text-anchor="middle">Log<tspan font-size="13.57" dy="4.6">10</tspan><tspan dy="-4.6">[sera dilution]</tspan></text>
<text transform="translate(151.4 943.9) rotate(-90) scale(0.9434 1)" font-size="19.19" stroke-width="0.42" text-anchor="middle">Relative Infectivity</text>
<path d="M246.4 911.6L249 911.8L251.6 912.1L254.3 912.4L256.9 912.7L259.5 913L262.2 913.4L264.8 913.7L267.4 914.1L270.1 914.5L272.7 914.9L275.3 915.3L278 915.7L280.6 916.2L283.2 916.7L285.9 917.2L288.5 917.7L291.1 918.3L293.8 918.8L296.4 919.4L299 920.1L301.7 920.7L304.3 921.4L306.9 922.1L309.6 922.9L312.2 923.6L314.8 924.4L317.5 925.3L320.1 926.2L322.7 927.1L325.4 928L328 929L330.6 930L333.3 931L335.9 932.1L338.5 933.2L341.2 934.4L343.8 935.6L346.4 936.8L349.1 938.1L351.7 939.4L354.3 940.7L357 942.1L359.6 943.5L362.2 945L364.9 946.5L367.5 948L370.1 949.6L372.8 951.2L375.4 952.8L378 954.5L380.6 956.2L383.3 957.9L385.9 959.7L388.5 961.5L391.2 963.3L393.8 965.1L396.4 967L399.1 968.9L401.7 970.7M246.4 906.4L249 906.4L251.6 906.4L254.3 906.4L256.9 906.4L259.5 906.4L262.2 906.4L264.8 906.4L267.4 906.4L270.1 906.4L272.7 906.4L275.3 906.4L278 906.4L280.6 906.4L283.2 906.4L285.9 906.4L288.5 906.4L291.1 906.4L293.8 906.4L296.4 906.4L299 906.4L301.7 906.4L304.3 906.4L306.9 906.4L309.6 906.4L312.2 906.4L314.8 906.4L317.5 906.4L320.1 906.4L322.7 906.4L325.4 906.4L328 906.4L330.6 906.4L333.3 906.4L335.9 906.4L338.5 906.5L341.2 906.5L343.8 906.5L346.4 906.6L349.1 906.6L351.7 906.7L354.3 906.8L357 907L359.6 907.2L362.2 907.6L364.9 908L367.5 908.7L370.1 909.6L372.8 910.8L375.4 912.5L378 914.9L380.6 918L383.3 922.2L385.9 927.6L388.5 934.5L391.2 943.1L393.8 953.2L396.4 964.7L399.1 977L401.7 989.6M246.4 909L249 909.2L251.6 909.4L254.3 909.7L256.9 910L259.5 910.3L262.2 910.6L264.8 911L267.4 911.4L270.1 911.8L272.7 912.3L275.3 912.8L278 913.3L280.6 913.9L283.2 914.5L285.9 915.2L288.5 915.9L291.1 916.7L293.8 917.5L296.4 918.4L299 919.4L301.7 920.4L304.3 921.6L306.9 922.8L309.6 924L312.2 925.4L314.8 926.9L317.5 928.4L320.1 930.1L322.7 931.8L325.4 933.6L328 935.6L330.6 937.6L333.3 939.8L335.9 942L338.5 944.4L341.2 946.8L343.8 949.4L346.4 952L349.1 954.8L351.7 957.6L354.3 960.5L357 963.5L359.6 966.5L362.2 969.6L364.9 972.7L367.5 975.8L370.1 979L372.8 982.2L375.4 985.4L378 988.5L380.6 991.7L383.3 994.8L385.9 997.8L388.5 1000.8L391.2 1003.7L393.8 1006.6L396.4 1009.4L399.1 1012L401.7 1014.6M246.4 911.2L249 911.4L251.6 911.6L254.3 911.9L256.9 912.2L259.5 912.4L262.2 912.7L264.8 913L267.4 913.3L270.1 913.7L272.7 914L275.3 914.4L278 914.7L280.6 915.1L283.2 915.5L285.9 916L288.5 916.4L291.1 916.9L293.8 917.4L296.4 917.9L299 918.4L301.7 918.9L304.3 919.5L306.9 920.1L309.6 920.7L312.2 921.4L314.8 922L317.5 922.7L320.1 923.5L322.7 924.2L325.4 925L328 925.8L330.6 926.6L333.3 927.5L335.9 928.4L338.5 929.3L341.2 930.3L343.8 931.3L346.4 932.3L349.1 933.3L351.7 934.4L354.3 935.6L357 936.7L359.6 937.9L362.2 939.1L364.9 940.4L367.5 941.7L370.1 943L372.8 944.4L375.4 945.8L378 947.2L380.6 948.7L383.3 950.2L385.9 951.7L388.5 953.2L391.2 954.8L393.8 956.4L396.4 958L399.1 959.7L401.7 961.4M246.4 908.8L249 909L251.6 909.3L254.3 909.5L256.9 909.8L259.5 910.2L262.2 910.5L264.8 910.9L267.4 911.3L270.1 911.8L272.7 912.3L275.3 912.9L278 913.5L280.6 914.1L283.2 914.9L285.9 915.6L288.5 916.5L291.1 917.4L293.8 918.4L296.4 919.5L299 920.6L301.7 921.9L304.3 923.2L306.9 924.7L309.6 926.2L312.2 927.9L314.8 929.7L317.5 931.6L320.1 933.6L322.7 935.7L325.4 938L328 940.4L330.6 942.9L333.3 945.6L335.9 948.4L338.5 951.2L341.2 954.2L343.8 957.3L346.4 960.5L349.1 963.8L351.7 967.2L354.3 970.6L357 974L359.6 977.5L362.2 981L364.9 984.5L367.5 988L370.1 991.5L372.8 994.9L375.4 998.2L378 1001.5L380.6 1004.7L383.3 1007.9L385.9 1010.9L388.5 1013.8L391.2 1016.6L393.8 1019.2L396.4 1021.8L399.1 1024.2L401.7 1026.5M246.4 906.4L249 906.4L251.6 906.4L254.3 906.4L256.9 906.4L259.5 906.4L262.2 906.4L264.8 906.4L267.4 906.4L270.1 906.5L272.7 906.5L275.3 906.5L278 906.5L280.6 906.5L283.2 906.6L285.9 906.6L288.5 906.7L291.1 906.7L293.8 906.8L296.4 906.9L299 907L301.7 907.2L304.3 907.4L306.9 907.6L309.6 907.9L312.2 908.3L314.8 908.8L317.5 909.3L320.1 910L322.7 910.9L325.4 912L328 913.3L330.6 915L333.3 916.9L335.9 919.3L338.5 922.2L341.2 925.6L343.8 929.7L346.4 934.4L349.1 939.8L351.7 945.9L354.3 952.7L357 960L359.6 967.9L362.2 976.1L364.9 984.4L367.5 992.6L370.1 1000.6L372.8 1008.1L375.4 1015.1L378 1021.3L380.6 1026.9L383.3 1031.8L385.9 1036L388.5 1039.6L391.2 1042.6L393.8 1045.1L396.4 1047.2L399.1 1048.9L401.7 1050.3" fill="none" stroke="#2b2b2b" stroke-width="1.45" stroke-linejoin="round"/>
<g fill="#7a0b4b" stroke="#33001c" stroke-width="1.25" fill-opacity="1"><rect x="285.3" y="911.1" width="10.9" height="10.9"/><rect x="329.7" y="946.2" width="10.9" height="10.9"/><rect x="351.9" y="916.7" width="10.9" height="10.9"/><rect x="374.1" y="950.7" width="10.9" height="10.9"/><rect x="396.3" y="968.4" width="10.9" height="10.9"/></g>
<g fill="#e8177d" stroke="#4a0a28" stroke-width="1.25" fill-opacity="1"><path d="M246.4 890.5L251.5 900.6L241.3 900.6Z"/><path d="M290.8 893.2L295.9 903.3L285.7 903.3Z"/><path d="M312.9 935.6L318.1 945.7L307.8 945.7Z"/><path d="M357.3 901.5L362.4 911.6L352.2 911.6Z"/><path d="M379.5 910.4L384.6 920.5L374.4 920.5Z"/><path d="M401.7 983.8L406.8 993.9L396.6 993.9Z"/></g>
<g fill="#773c0a" stroke="#241000" stroke-width="1.25" fill-opacity="1"><circle cx="246.4" cy="909.8" r="5.5"/><circle cx="268.6" cy="922.1" r="5.5"/><circle cx="290.8" cy="915.7" r="5.5"/><circle cx="312.9" cy="920.3" r="5.5"/><circle cx="335.1" cy="934.9" r="5.5"/><circle cx="379.5" cy="996.3" r="5.5"/><circle cx="401.7" cy="1008.3" r="5.5"/></g>
<g fill="#ea1fea" stroke="#3d0a3d" stroke-width="1.25" fill-opacity="1"><circle cx="268.6" cy="915.7" r="5.5"/><circle cx="312.9" cy="927.7" r="5.5"/><circle cx="357.3" cy="930.4" r="5.5"/><circle cx="379.5" cy="953" r="5.5"/><circle cx="401.7" cy="959.9" r="5.5"/></g>
<g fill="#e3120b" stroke="#3c0000" stroke-width="1.25" fill-opacity="1"><circle cx="246.4" cy="907.9" r="5.5"/><circle cx="268.6" cy="911.5" r="5.5"/><circle cx="312.9" cy="933.4" r="5.5"/><circle cx="335.1" cy="945.3" r="5.5"/><circle cx="357.3" cy="973.8" r="5.5"/><circle cx="379.5" cy="1000.8" r="5.5"/><circle cx="401.7" cy="1030.4" r="5.5"/></g>
<g fill="#343434" stroke="#0d0d0d" stroke-width="1.25" fill-opacity="1"><circle cx="246.4" cy="901.3" r="5.5"/><circle cx="268.6" cy="902.4" r="5.5"/><circle cx="290.8" cy="910.4" r="5.5"/><circle cx="312.9" cy="892.3" r="5.5"/><circle cx="335.1" cy="919.9" r="5.5"/><circle cx="357.3" cy="963.3" r="5.5"/><circle cx="379.5" cy="1021.7" r="5.5"/><circle cx="401.7" cy="1052.5" r="5.5"/></g>
</g>
<g>
<text transform="translate(647 807.2) scale(0.9434 1)" font-size="22.68" stroke-width="0.32" text-anchor="middle">353-71</text>
<path d="M520.2 830.8V1056.2H774.5M511.2 1056.2H520.2M511.2 981.3H520.2M511.2 906.4H520.2M511.2 831.5H520.2M520.2 1056.2V1064.8M583.6 1056.2V1064.8M647 1056.2V1064.8M710.4 1056.2V1064.8M773.8 1056.2V1064.8" fill="none" stroke="#787878" stroke-width="1.4"/>
<text transform="translate(510.2 1062.4) scale(0.9615 1)" font-size="17.47" stroke-width="0.38" text-anchor="end">0</text>
<text transform="translate(510.2 987.5) scale(0.9615 1)" font-size="17.47" stroke-width="0.38" text-anchor="end">50</text>
<text transform="translate(510.2 912.6) scale(0.9615 1)" font-size="17.47" stroke-width="0.38" text-anchor="end">100</text>
<text transform="translate(510.2 837.7) scale(0.9615 1)" font-size="17.47" stroke-width="0.38" text-anchor="end">150</text>
<text transform="translate(519.6 1081.3) scale(0.9615 1)" font-size="17.47" stroke-width="0.38" text-anchor="middle">-8</text>
<text transform="translate(583 1081.3) scale(0.9615 1)" font-size="17.47" stroke-width="0.38" text-anchor="middle">-6</text>
<text transform="translate(646.4 1081.3) scale(0.9615 1)" font-size="17.47" stroke-width="0.38" text-anchor="middle">-4</text>
<text transform="translate(709.8 1081.3) scale(0.9615 1)" font-size="17.47" stroke-width="0.38" text-anchor="middle">-2</text>
<text transform="translate(773.8 1081.3) scale(0.9615 1)" font-size="17.47" stroke-width="0.38" text-anchor="middle">0</text>
<text transform="translate(647 1106.6) scale(0.9434 1)" font-size="19.19" stroke-width="0.42" text-anchor="middle">Log<tspan font-size="13.57" dy="4.6">10</tspan><tspan dy="-4.6">[sera dilution]</tspan></text>
<text transform="translate(469.6 943.9) rotate(-90) scale(0.9434 1)" font-size="19.19" stroke-width="0.42" text-anchor="middle">Relative Infectivity</text>
<path d="M564.6 906.8L567.2 906.8L569.8 906.9L572.5 906.9L575.1 907L577.7 907.1L580.4 907.1L583 907.2L585.6 907.3L588.3 907.4L590.9 907.5L593.5 907.7L596.2 907.8L598.8 908L601.4 908.2L604.1 908.3L606.7 908.6L609.3 908.8L612 909.1L614.6 909.4L617.2 909.7L619.9 910.1L622.5 910.5L625.1 911L627.8 911.5L630.4 912.1L633 912.7L635.7 913.4L638.3 914.1L640.9 915L643.6 915.9L646.2 916.9L648.8 918L651.5 919.2L654.1 920.6L656.7 922L659.4 923.6L662 925.4L664.6 927.2L667.3 929.3L669.9 931.5L672.5 933.8L675.2 936.4L677.8 939.1L680.4 941.9L683.1 945L685.7 948.2L688.3 951.5L691 955L693.6 958.7L696.2 962.4L698.8 966.3L701.5 970.3L704.1 974.3L706.7 978.4L709.4 982.4L712 986.5L714.6 990.6L717.3 994.5L719.9 998.5M564.6 906.5L567.2 906.5L569.8 906.5L572.5 906.6L575.1 906.6L577.7 906.6L580.4 906.7L583 906.7L585.6 906.7L588.3 906.8L590.9 906.8L593.5 906.9L596.2 907L598.8 907.1L601.4 907.2L604.1 907.3L606.7 907.4L609.3 907.6L612 907.7L614.6 907.9L617.2 908.1L619.9 908.4L622.5 908.7L625.1 909L627.8 909.4L630.4 909.9L633 910.4L635.7 910.9L638.3 911.6L640.9 912.3L643.6 913.2L646.2 914.1L648.8 915.2L651.5 916.4L654.1 917.8L656.7 919.4L659.4 921.1L662 923L664.6 925.2L667.3 927.6L669.9 930.3L672.5 933.2L675.2 936.4L677.8 939.9L680.4 943.6L683.1 947.6L685.7 951.9L688.3 956.4L691 961.2L693.6 966.1L696.2 971.1L698.8 976.3L701.5 981.5L704.1 986.6L706.7 991.8L709.4 996.8L712 1001.7L714.6 1006.5L717.3 1011L719.9 1015.2M564.6 906.5L567.2 906.6L569.8 906.6L572.5 906.6L575.1 906.6L577.7 906.7L580.4 906.7L583 906.7L585.6 906.8L588.3 906.8L590.9 906.9L593.5 907L596.2 907L598.8 907.1L601.4 907.2L604.1 907.3L606.7 907.5L609.3 907.6L612 907.8L614.6 908L617.2 908.2L619.9 908.4L622.5 908.7L625.1 909L627.8 909.4L630.4 909.8L633 910.3L635.7 910.8L638.3 911.4L640.9 912.1L643.6 912.8L646.2 913.7L648.8 914.6L651.5 915.7L654.1 916.9L656.7 918.3L659.4 919.8L662 921.5L664.6 923.3L667.3 925.4L669.9 927.7L672.5 930.2L675.2 932.9L677.8 935.9L680.4 939.1L683.1 942.6L685.7 946.3L688.3 950.2L691 954.3L693.6 958.7L696.2 963.2L698.8 967.9L701.5 972.7L704.1 977.5L706.7 982.4L709.4 987.3L712 992.1L714.6 996.8L717.3 1001.5L719.9 1005.9M564.6 906.5L567.2 906.5L569.8 906.5L572.5 906.6L575.1 906.6L577.7 906.6L580.4 906.6L583 906.7L585.6 906.7L588.3 906.7L590.9 906.8L593.5 906.8L596.2 906.9L598.8 907L601.4 907.1L604.1 907.2L606.7 907.3L609.3 907.4L612 907.5L614.6 907.7L617.2 907.9L619.9 908.1L622.5 908.3L625.1 908.6L627.8 908.9L630.4 909.2L633 909.6L635.7 910L638.3 910.5L640.9 911.1L643.6 911.7L646.2 912.5L648.8 913.3L651.5 914.2L654.1 915.2L656.7 916.4L659.4 917.7L662 919.2L664.6 920.8L667.3 922.6L669.9 924.7L672.5 926.9L675.2 929.4L677.8 932.1L680.4 935L683.1 938.2L685.7 941.6L688.3 945.3L691 949.3L693.6 953.4L696.2 957.8L698.8 962.4L701.5 967.1L704.1 971.9L706.7 976.9L709.4 981.8L712 986.8L714.6 991.7L717.3 996.5L719.9 1001.2M564.6 908.3L567.2 908.5L569.8 908.7L572.5 908.9L575.1 909.1L577.7 909.4L580.4 909.6L583 910L585.6 910.3L588.3 910.6L590.9 911L593.5 911.5L596.2 911.9L598.8 912.4L601.4 913L604.1 913.6L606.7 914.2L609.3 914.9L612 915.7L614.6 916.5L617.2 917.4L619.9 918.4L622.5 919.5L625.1 920.6L627.8 921.8L630.4 923.1L633 924.5L635.7 926L638.3 927.6L640.9 929.4L643.6 931.2L646.2 933.1L648.8 935.2L651.5 937.4L654.1 939.7L656.7 942.1L659.4 944.7L662 947.3L664.6 950.1L667.3 953L669.9 955.9L672.5 959L675.2 962.2L677.8 965.4L680.4 968.7L683.1 972L685.7 975.4L688.3 978.8L691 982.2L693.6 985.7L696.2 989.1L698.8 992.4L701.5 995.7L704.1 999L706.7 1002.2L709.4 1005.3L712 1008.3L714.6 1011.3L717.3 1014.1L719.9 1016.8M564.6 906.5L567.2 906.5L569.8 906.5L572.5 906.5L575.1 906.5L577.7 906.6L580.4 906.6L583 906.6L585.6 906.6L588.3 906.7L590.9 906.7L593.5 906.8L596.2 906.8L598.8 906.9L601.4 907L604.1 907.1L606.7 907.2L609.3 907.3L612 907.5L614.6 907.6L617.2 907.8L619.9 908.1L622.5 908.3L625.1 908.6L627.8 909L630.4 909.4L633 909.8L635.7 910.4L638.3 911L640.9 911.7L643.6 912.5L646.2 913.4L648.8 914.4L651.5 915.6L654.1 917L656.7 918.5L659.4 920.2L662 922.2L664.6 924.4L667.3 926.9L669.9 929.6L672.5 932.6L675.2 936L677.8 939.6L680.4 943.6L683.1 947.8L685.7 952.4L688.3 957.2L691 962.3L693.6 967.5L696.2 972.9L698.8 978.3L701.5 983.9L704.1 989.3L706.7 994.7L709.4 1000L712 1005L714.6 1009.9L717.3 1014.4L719.9 1018.7" fill="none" stroke="#2b2b2b" stroke-width="1.45" stroke-linejoin="round"/>
<g fill="#7a0b4b" stroke="#33001c" stroke-width="1.25" fill-opacity="1"><rect x="559.1" y="878.9" width="10.9" height="10.9"/><rect x="581.3" y="930.5" width="10.9" height="10.9"/><rect x="603.5" y="890.9" width="10.9" height="10.9"/><rect x="625.7" y="927.2" width="10.9" height="10.9"/><rect x="647.9" y="921.3" width="10.9" height="10.9"/><rect x="670.1" y="941.4" width="10.9" height="10.9"/><rect x="692.3" y="926.9" width="10.9" height="10.9"/><rect x="714.5" y="1013.3" width="10.9" height="10.9"/></g>
<g fill="#e8177d" stroke="#4a0a28" stroke-width="1.25" fill-opacity="1"><path d="M609 907.1L614.1 917.2L603.9 917.2Z"/></g>
<g fill="#773c0a" stroke="#241000" stroke-width="1.25" fill-opacity="1"><circle cx="564.6" cy="907.9" r="5.5"/><circle cx="586.8" cy="903.7" r="5.5"/><circle cx="609" cy="919.3" r="5.5"/><circle cx="675.5" cy="940" r="5.5"/><circle cx="697.7" cy="950.6" r="5.5"/></g>
<g fill="#ea1fea" stroke="#3d0a3d" stroke-width="1.25" fill-opacity="1"><circle cx="564.6" cy="915.7" r="5.5"/><circle cx="609" cy="886.6" r="5.5"/><circle cx="631.2" cy="918.8" r="5.5"/><circle cx="653.3" cy="907.4" r="5.5"/><circle cx="697.7" cy="962.6" r="5.5"/><circle cx="719.9" cy="999.3" r="5.5"/></g>
<g fill="#e3120b" stroke="#3c0000" stroke-width="1.25" fill-opacity="1"><circle cx="586.8" cy="919.3" r="5.5"/><circle cx="609" cy="943.9" r="5.5"/><circle cx="631.2" cy="910.1" r="5.5"/><circle cx="653.3" cy="945.2" r="5.5"/><circle cx="675.5" cy="953.4" r="5.5"/><circle cx="719.9" cy="1032.7" r="5.5"/></g>
<g fill="#343434" stroke="#0d0d0d" stroke-width="1.25" fill-opacity="1"><circle cx="564.6" cy="894.1" r="5.5"/><circle cx="586.8" cy="911" r="5.5"/><circle cx="609" cy="904.6" r="5.5"/><circle cx="631.2" cy="900.9" r="5.5"/><circle cx="653.3" cy="917.5" r="5.5"/><circle cx="675.5" cy="932.6" r="5.5"/><circle cx="697.7" cy="983.4" r="5.5"/><circle cx="719.9" cy="1012.9" r="5.5"/></g>
</g>
<g>
<text transform="translate(962.4 794.9) scale(0.9434 1)" font-size="22.68" stroke-width="0.32" text-anchor="middle">353-80</text>
<path d="M835.6 818.7V1044.1H1089.9M826.6 1044.1H835.6M826.6 969.2H835.6M826.6 894.3H835.6M826.6 819.4H835.6M835.6 1044.1V1052.7M899 1044.1V1052.7M962.4 1044.1V1052.7M1025.8 1044.1V1052.7M1089.2 1044.1V1052.7" fill="none" stroke="#787878" stroke-width="1.4"/>
<text transform="translate(825.6 1050.3) scale(0.9615 1)" font-size="17.47" stroke-width="0.38" text-anchor="end">0</text>
<text transform="translate(825.6 975.4) scale(0.9615 1)" font-size="17.47" stroke-width="0.38" text-anchor="end">50</text>
<text transform="translate(825.6 900.5) scale(0.9615 1)" font-size="17.47" stroke-width="0.38" text-anchor="end">100</text>
<text transform="translate(825.6 825.6) scale(0.9615 1)" font-size="17.47" stroke-width="0.38" text-anchor="end">150</text>
<text transform="translate(835 1069.2) scale(0.9615 1)" font-size="17.47" stroke-width="0.38" text-anchor="middle">-8</text>
<text transform="translate(898.4 1069.2) scale(0.9615 1)" font-size="17.47" stroke-width="0.38" text-anchor="middle">-6</text>
<text transform="translate(961.8 1069.2) scale(0.9615 1)" font-size="17.47" stroke-width="0.38" text-anchor="middle">-4</text>
<text transform="translate(1025.2 1069.2) scale(0.9615 1)" font-size="17.47" stroke-width="0.38" text-anchor="middle">-2</text>
<text transform="translate(1089.2 1069.2) scale(0.9615 1)" font-size="17.47" stroke-width="0.38" text-anchor="middle">0</text>
<text transform="translate(962.4 1094.5) scale(0.9434 1)" font-size="19.19" stroke-width="0.42" text-anchor="middle">Log<tspan font-size="13.57" dy="4.6">10</tspan><tspan dy="-4.6">[sera dilution]</tspan></text>
<text transform="translate(785 931.7) rotate(-90) scale(0.9434 1)" font-size="19.19" stroke-width="0.42" text-anchor="middle">Relative Infectivity</text>
<path d="M880 894.4L882.6 894.4L885.2 894.4L887.9 894.4L890.5 894.4L893.1 894.4L895.8 894.5L898.4 894.5L901 894.5L903.7 894.6L906.3 894.6L908.9 894.7L911.6 894.7L914.2 894.8L916.8 894.9L919.5 895L922.1 895.1L924.7 895.2L927.4 895.4L930 895.5L932.6 895.8L935.3 896L937.9 896.3L940.5 896.6L943.2 897L945.8 897.5L948.4 898L951.1 898.6L953.7 899.3L956.3 900.1L959 901.1L961.6 902.2L964.2 903.4L966.9 904.9L969.5 906.5L972.1 908.4L974.8 910.5L977.4 913L980 915.7L982.7 918.7L985.3 922.1L987.9 925.9L990.6 929.9L993.2 934.4L995.8 939.2L998.5 944.3L1001.1 949.6L1003.7 955.2L1006.4 961L1009 966.9L1011.6 972.7L1014.2 978.6L1016.9 984.3L1019.5 989.9L1022.1 995.2L1024.8 1000.2L1027.4 1004.9L1030 1009.3L1032.7 1013.3L1035.3 1017M880 894.3L882.6 894.3L885.2 894.3L887.9 894.3L890.5 894.3L893.1 894.3L895.8 894.3L898.4 894.3L901 894.3L903.7 894.3L906.3 894.3L908.9 894.3L911.6 894.3L914.2 894.3L916.8 894.3L919.5 894.4L922.1 894.4L924.7 894.4L927.4 894.4L930 894.4L932.6 894.5L935.3 894.5L937.9 894.6L940.5 894.6L943.2 894.7L945.8 894.8L948.4 894.9L951.1 895.1L953.7 895.3L956.3 895.6L959 895.9L961.6 896.3L964.2 896.8L966.9 897.4L969.5 898.1L972.1 899.1L974.8 900.2L977.4 901.7L980 903.4L982.7 905.6L985.3 908.2L987.9 911.3L990.6 915L993.2 919.4L995.8 924.5L998.5 930.4L1001.1 936.9L1003.7 944.2L1006.4 952L1009 960.2L1011.6 968.6L1014.2 977.1L1016.9 985.4L1019.5 993.2L1022.1 1000.6L1024.8 1007.2L1027.4 1013.1L1030 1018.3L1032.7 1022.8L1035.3 1026.6M880 895.5L882.6 895.7L885.2 895.9L887.9 896.1L890.5 896.3L893.1 896.5L895.8 896.8L898.4 897.1L901 897.5L903.7 897.9L906.3 898.3L908.9 898.8L911.6 899.3L914.2 899.9L916.8 900.6L919.5 901.4L922.1 902.2L924.7 903.2L927.4 904.2L930 905.4L932.6 906.6L935.3 908L937.9 909.6L940.5 911.3L943.2 913.2L945.8 915.2L948.4 917.5L951.1 919.9L953.7 922.5L956.3 925.3L959 928.3L961.6 931.6L964.2 935L966.9 938.6L969.5 942.4L972.1 946.3L974.8 950.4L977.4 954.6L980 959L982.7 963.4L985.3 967.8L987.9 972.2L990.6 976.6L993.2 981L995.8 985.3L998.5 989.5L1001.1 993.5L1003.7 997.4L1006.4 1001.2L1009 1004.7L1011.6 1008L1014.2 1011.2L1016.9 1014.1L1019.5 1016.9L1022.1 1019.4L1024.8 1021.8L1027.4 1023.9L1030 1025.9L1032.7 1027.7L1035.3 1029.4M880 894.4L882.6 894.4L885.2 894.4L887.9 894.5L890.5 894.5L893.1 894.5L895.8 894.5L898.4 894.6L901 894.6L903.7 894.7L906.3 894.7L908.9 894.8L911.6 894.8L914.2 894.9L916.8 895L919.5 895.1L922.1 895.2L924.7 895.4L927.4 895.5L930 895.7L932.6 895.9L935.3 896.1L937.9 896.4L940.5 896.7L943.2 897L945.8 897.4L948.4 897.9L951.1 898.4L953.7 899L956.3 899.6L959 900.4L961.6 901.2L964.2 902.2L966.9 903.2L969.5 904.5L972.1 905.8L974.8 907.4L977.4 909.1L980 911L982.7 913.1L985.3 915.5L987.9 918.1L990.6 921L993.2 924.1L995.8 927.5L998.5 931.1L1001.1 935L1003.7 939.2L1006.4 943.6L1009 948.2L1011.6 953L1014.2 957.9L1016.9 963L1019.5 968.1L1022.1 973.2L1024.8 978.2L1027.4 983.2L1030 988.1L1032.7 992.8L1035.3 997.3M880 894.6L882.6 894.6L885.2 894.6L887.9 894.7L890.5 894.8L893.1 894.8L895.8 894.9L898.4 895L901 895.1L903.7 895.3L906.3 895.4L908.9 895.6L911.6 895.8L914.2 896L916.8 896.3L919.5 896.6L922.1 896.9L924.7 897.3L927.4 897.8L930 898.3L932.6 898.9L935.3 899.6L937.9 900.4L940.5 901.3L943.2 902.4L945.8 903.6L948.4 904.9L951.1 906.5L953.7 908.2L956.3 910.1L959 912.3L961.6 914.8L964.2 917.5L966.9 920.5L969.5 923.8L972.1 927.4L974.8 931.3L977.4 935.5L980 940L982.7 944.8L985.3 949.7L987.9 954.9L990.6 960.2L993.2 965.7L995.8 971.1L998.5 976.5L1001.1 981.9L1003.7 987.1L1006.4 992.2L1009 997L1011.6 1001.6L1014.2 1005.9L1016.9 1009.9L1019.5 1013.6L1022.1 1017L1024.8 1020L1027.4 1022.8L1030 1025.4L1032.7 1027.6L1035.3 1029.6M880 894.3L882.6 894.3L885.2 894.3L887.9 894.4L890.5 894.4L893.1 894.4L895.8 894.4L898.4 894.4L901 894.4L903.7 894.5L906.3 894.5L908.9 894.6L911.6 894.6L914.2 894.7L916.8 894.8L919.5 894.9L922.1 895L924.7 895.1L927.4 895.3L930 895.5L932.6 895.7L935.3 896L937.9 896.4L940.5 896.8L943.2 897.4L945.8 898L948.4 898.7L951.1 899.7L953.7 900.7L956.3 902L959 903.6L961.6 905.4L964.2 907.5L966.9 910L969.5 912.9L972.1 916.3L974.8 920.1L977.4 924.5L980 929.4L982.7 934.8L985.3 940.7L987.9 947L990.6 953.7L993.2 960.7L995.8 967.9L998.5 975L1001.1 982.1L1003.7 988.9L1006.4 995.4L1009 1001.5L1011.6 1007.1L1014.2 1012.2L1016.9 1016.7L1019.5 1020.8L1022.1 1024.3L1024.8 1027.4L1027.4 1030L1030 1032.3L1032.7 1034.2L1035.3 1035.8" fill="none" stroke="#2b2b2b" stroke-width="1.45" stroke-linejoin="round"/>
<g fill="#7a0b4b" stroke="#33001c" stroke-width="1.25" fill-opacity="1"><rect x="874.5" y="886.6" width="10.9" height="10.9"/><rect x="896.7" y="895.7" width="10.9" height="10.9"/><rect x="918.9" y="905" width="10.9" height="10.9"/><rect x="941.1" y="919.7" width="10.9" height="10.9"/><rect x="963.3" y="918.8" width="10.9" height="10.9"/><rect x="985.5" y="908.6" width="10.9" height="10.9"/><rect x="1007.7" y="967.5" width="10.9" height="10.9"/><rect x="1029.9" y="1023.7" width="10.9" height="10.9"/></g>
<g fill="#e8177d" stroke="#4a0a28" stroke-width="1.25" fill-opacity="1"><path d="M946.6 865L951.7 875.1L941.5 875.1Z"/><path d="M968.7 865.9L973.8 876L963.6 876Z"/><path d="M990.9 923.9L996 934L985.8 934Z"/><path d="M1013.1 962.4L1018.2 972.5L1008 972.5Z"/></g>
<g fill="#773c0a" stroke="#241000" stroke-width="1.25" fill-opacity="1"><circle cx="880" cy="904" r="5.5"/><circle cx="924.4" cy="905.8" r="5.5"/><circle cx="946.6" cy="912.3" r="5.5"/><circle cx="968.7" cy="940.7" r="5.5"/><circle cx="990.9" cy="982.1" r="5.5"/><circle cx="1013.1" cy="1001.4" r="5.5"/></g>
<g fill="#ea1fea" stroke="#3d0a3d" stroke-width="1.25" fill-opacity="1"><circle cx="880" cy="901.2" r="5.5"/><circle cx="924.4" cy="896.2" r="5.5"/><circle cx="946.6" cy="917.8" r="5.5"/><circle cx="968.7" cy="911.4" r="5.5"/><circle cx="990.9" cy="934.3" r="5.5"/><circle cx="1013.1" cy="927" r="5.5"/><circle cx="1035.3" cy="1016.7" r="5.5"/></g>
<g fill="#e3120b" stroke="#3c0000" stroke-width="1.25" fill-opacity="1"><circle cx="880" cy="915" r="5.5"/><circle cx="902.2" cy="895.2" r="5.5"/><circle cx="946.6" cy="901.2" r="5.5"/><circle cx="968.7" cy="924.6" r="5.5"/><circle cx="990.9" cy="961.9" r="5.5"/><circle cx="1035.3" cy="1036.3" r="5.5"/></g>
<g fill="#343434" stroke="#0d0d0d" stroke-width="1.25" fill-opacity="1"><circle cx="880" cy="893" r="5.5"/><circle cx="902.2" cy="884.7" r="5.5"/><circle cx="924.4" cy="891.3" r="5.5"/><circle cx="946.6" cy="879.8" r="5.5"/><circle cx="968.7" cy="907.8" r="5.5"/><circle cx="990.9" cy="966.5" r="5.5"/><circle cx="1013.1" cy="996.9" r="5.5"/><circle cx="1035.3" cy="1043.8" r="5.5"/></g>
</g>
<g>
<text transform="translate(1296.5 807.2) scale(0.9434 1)" font-size="22.68" stroke-width="0.32" text-anchor="middle">353-84</text>
<path d="M1169.7 830.8V1056.2H1424M1160.7 1056.2H1169.7M1160.7 981.3H1169.7M1160.7 906.4H1169.7M1160.7 831.5H1169.7M1169.7 1056.2V1064.8M1233.1 1056.2V1064.8M1296.5 1056.2V1064.8M1359.9 1056.2V1064.8M1423.3 1056.2V1064.8" fill="none" stroke="#787878" stroke-width="1.4"/>
<text transform="translate(1159.7 1062.4) scale(0.9615 1)" font-size="17.47" stroke-width="0.38" text-anchor="end">0</text>
<text transform="translate(1159.7 987.5) scale(0.9615 1)" font-size="17.47" stroke-width="0.38" text-anchor="end">50</text>
<text transform="translate(1159.7 912.6) scale(0.9615 1)" font-size="17.47" stroke-width="0.38" text-anchor="end">100</text>
<text transform="translate(1159.7 837.7) scale(0.9615 1)" font-size="17.47" stroke-width="0.38" text-anchor="end">150</text>
<text transform="translate(1169.1 1081.3) scale(0.9615 1)" font-size="17.47" stroke-width="0.38" text-anchor="middle">-8</text>
<text transform="translate(1232.5 1081.3) scale(0.9615 1)" font-size="17.47" stroke-width="0.38" text-anchor="middle">-6</text>
<text transform="translate(1295.9 1081.3) scale(0.9615 1)" font-size="17.47" stroke-width="0.38" text-anchor="middle">-4</text>
<text transform="translate(1359.3 1081.3) scale(0.9615 1)" font-size="17.47" stroke-width="0.38" text-anchor="middle">-2</text>
<text transform="translate(1423.3 1081.3) scale(0.9615 1)" font-size="17.47" stroke-width="0.38" text-anchor="middle">0</text>
<text transform="translate(1296.5 1106.6) scale(0.9434 1)" font-size="19.19" stroke-width="0.42" text-anchor="middle">Log<tspan font-size="13.57" dy="4.6">10</tspan><tspan dy="-4.6">[sera dilution]</tspan></text>
<text transform="translate(1119.1 943.9) rotate(-90) scale(0.9434 1)" font-size="19.19" stroke-width="0.42" text-anchor="middle">Relative Infectivity</text>
<path d="M1214.1 906.4L1216.7 906.4L1219.3 906.4L1222 906.4L1224.6 906.4L1227.2 906.4L1229.9 906.4L1232.5 906.4L1235.1 906.4L1237.8 906.4L1240.4 906.4L1243 906.4L1245.7 906.4L1248.3 906.4L1250.9 906.4L1253.6 906.4L1256.2 906.4L1258.8 906.4L1261.5 906.4L1264.1 906.4L1266.7 906.4L1269.4 906.4L1272 906.4L1274.6 906.4L1277.3 906.4L1279.9 906.4L1282.5 906.4L1285.2 906.5L1287.8 906.5L1290.4 906.5L1293.1 906.5L1295.7 906.6L1298.3 906.6L1301 906.7L1303.6 906.7L1306.2 906.8L1308.9 906.9L1311.5 907.1L1314.1 907.3L1316.8 907.5L1319.4 907.9L1322 908.3L1324.7 908.8L1327.3 909.5L1329.9 910.4L1332.6 911.5L1335.2 912.9L1337.8 914.7L1340.5 916.9L1343.1 919.7L1345.7 923.1L1348.3 927.3L1351 932.3L1353.6 938.1L1356.2 944.9L1358.9 952.6L1361.5 961.1L1364.1 970.2L1366.8 979.6L1369.4 989M1214.1 906.4L1216.7 906.4L1219.3 906.4L1222 906.4L1224.6 906.4L1227.2 906.4L1229.9 906.4L1232.5 906.4L1235.1 906.4L1237.8 906.4L1240.4 906.4L1243 906.4L1245.7 906.4L1248.3 906.4L1250.9 906.4L1253.6 906.4L1256.2 906.4L1258.8 906.4L1261.5 906.4L1264.1 906.4L1266.7 906.4L1269.4 906.4L1272 906.5L1274.6 906.5L1277.3 906.5L1279.9 906.5L1282.5 906.5L1285.2 906.6L1287.8 906.6L1290.4 906.6L1293.1 906.7L1295.7 906.8L1298.3 906.9L1301 907L1303.6 907.2L1306.2 907.3L1308.9 907.6L1311.5 907.9L1314.1 908.2L1316.8 908.7L1319.4 909.3L1322 910L1324.7 910.9L1327.3 911.9L1329.9 913.3L1332.6 914.9L1335.2 916.9L1337.8 919.3L1340.5 922.2L1343.1 925.6L1345.7 929.7L1348.3 934.5L1351 940L1353.6 946.2L1356.2 953.1L1358.9 960.6L1361.5 968.6L1364.1 976.8L1366.8 985.2L1369.4 993.5M1214.1 906.4L1216.7 906.4L1219.3 906.4L1222 906.4L1224.6 906.4L1227.2 906.4L1229.9 906.4L1232.5 906.4L1235.1 906.4L1237.8 906.4L1240.4 906.4L1243 906.4L1245.7 906.4L1248.3 906.4L1250.9 906.4L1253.6 906.4L1256.2 906.4L1258.8 906.4L1261.5 906.4L1264.1 906.4L1266.7 906.4L1269.4 906.4L1272 906.4L1274.6 906.4L1277.3 906.4L1279.9 906.4L1282.5 906.5L1285.2 906.5L1287.8 906.5L1290.4 906.5L1293.1 906.6L1295.7 906.6L1298.3 906.7L1301 906.7L1303.6 906.8L1306.2 907L1308.9 907.2L1311.5 907.4L1314.1 907.7L1316.8 908.1L1319.4 908.6L1322 909.2L1324.7 910L1327.3 911.1L1329.9 912.4L1332.6 914.1L1335.2 916.3L1337.8 919.1L1340.5 922.5L1343.1 926.7L1345.7 931.7L1348.3 937.8L1351 944.8L1353.6 952.8L1356.2 961.6L1358.9 971.1L1361.5 980.9L1364.1 990.7L1366.8 1000.2L1369.4 1009.1M1214.1 913.9H1369.4M1214.1 914.8L1216.7 915.3L1219.3 915.8L1222 916.4L1224.6 916.9L1227.2 917.5L1229.9 918.2L1232.5 918.8L1235.1 919.5L1237.8 920.2L1240.4 921L1243 921.8L1245.7 922.7L1248.3 923.6L1250.9 924.5L1253.6 925.5L1256.2 926.5L1258.8 927.5L1261.5 928.6L1264.1 929.8L1266.7 931L1269.4 932.3L1272 933.6L1274.6 934.9L1277.3 936.3L1279.9 937.8L1282.5 939.3L1285.2 940.8L1287.8 942.4L1290.4 944.1L1293.1 945.8L1295.7 947.6L1298.3 949.4L1301 951.2L1303.6 953.1L1306.2 955.1L1308.9 957.1L1311.5 959.1L1314.1 961.1L1316.8 963.2L1319.4 965.4L1322 967.5L1324.7 969.7L1327.3 971.9L1329.9 974.1L1332.6 976.3L1335.2 978.5L1337.8 980.8L1340.5 983L1343.1 985.2L1345.7 987.5L1348.3 989.7L1351 991.9L1353.6 994.1L1356.2 996.2L1358.9 998.4L1361.5 1000.5L1364.1 1002.5L1366.8 1004.6L1369.4 1006.6M1214.1 906.4L1216.7 906.4L1219.3 906.4L1222 906.4L1224.6 906.4L1227.2 906.4L1229.9 906.4L1232.5 906.4L1235.1 906.4L1237.8 906.4L1240.4 906.5L1243 906.5L1245.7 906.5L1248.3 906.5L1250.9 906.5L1253.6 906.5L1256.2 906.6L1258.8 906.6L1261.5 906.7L1264.1 906.7L1266.7 906.8L1269.4 906.8L1272 906.9L1274.6 907L1277.3 907.2L1279.9 907.3L1282.5 907.5L1285.2 907.7L1287.8 908L1290.4 908.3L1293.1 908.7L1295.7 909.2L1298.3 909.7L1301 910.4L1303.6 911.2L1306.2 912.1L1308.9 913.2L1311.5 914.5L1314.1 916L1316.8 917.8L1319.4 919.9L1322 922.4L1324.7 925.2L1327.3 928.5L1329.9 932.1L1332.6 936.3L1335.2 941L1337.8 946.1L1340.5 951.7L1343.1 957.7L1345.7 964.1L1348.3 970.7L1351 977.6L1353.6 984.5L1356.2 991.3L1358.9 998L1361.5 1004.4L1364.1 1010.4L1366.8 1016.1L1369.4 1021.2" fill="none" stroke="#2b2b2b" stroke-width="1.45" stroke-linejoin="round"/>
<g fill="#7a0b4b" stroke="#33001c" stroke-width="1.25" fill-opacity="1"><rect x="1208.6" y="928.1" width="10.9" height="10.9"/><rect x="1230.8" y="883.6" width="10.9" height="10.9"/><rect x="1253" y="883.6" width="10.9" height="10.9"/><rect x="1297.4" y="892" width="10.9" height="10.9"/><rect x="1319.6" y="897.7" width="10.9" height="10.9"/><rect x="1341.8" y="922.2" width="10.9" height="10.9"/><rect x="1364" y="983" width="10.9" height="10.9"/></g>
<g fill="#e8177d" stroke="#4a0a28" stroke-width="1.25" fill-opacity="1"><path d="M1214.1 908.3L1219.2 918.4L1209 918.4Z"/><path d="M1236.3 896.9L1241.4 907L1231.2 907Z"/><path d="M1258.5 866.5L1263.6 876.6L1253.4 876.6Z"/><path d="M1280.7 889.6L1285.8 899.7L1275.6 899.7Z"/><path d="M1302.8 859.5L1307.9 869.6L1297.7 869.6Z"/><path d="M1347.2 932.9L1352.3 943L1342.1 943Z"/><path d="M1369.4 985.3L1374.5 995.4L1364.3 995.4Z"/></g>
<g fill="#773c0a" stroke="#241000" stroke-width="1.25" fill-opacity="1"><circle cx="1214.1" cy="902.8" r="5.5"/><circle cx="1236.3" cy="924.8" r="5.5"/><circle cx="1280.7" cy="930.4" r="5.5"/><circle cx="1302.8" cy="918.4" r="5.5"/><circle cx="1325" cy="916.3" r="5.5"/><circle cx="1347.2" cy="932.3" r="5.5"/><circle cx="1369.4" cy="1010.2" r="5.5"/></g>
<g fill="#ea1fea" stroke="#3d0a3d" stroke-width="1.25" fill-opacity="1"><circle cx="1214.1" cy="920.3" r="5.5"/><circle cx="1258.5" cy="910.4" r="5.5"/><circle cx="1280.7" cy="920.3" r="5.5"/><circle cx="1325" cy="899.5" r="5.5"/><circle cx="1347.2" cy="921.5" r="5.5"/><circle cx="1369.4" cy="926.8" r="5.5"/></g>
<g fill="#e3120b" stroke="#3c0000" stroke-width="1.25" fill-opacity="1"><circle cx="1214.1" cy="885.6" r="5.5"/><circle cx="1236.3" cy="930.4" r="5.5"/><circle cx="1258.5" cy="947.3" r="5.5"/><circle cx="1280.7" cy="952.1" r="5.5"/><circle cx="1302.8" cy="942.1" r="5.5"/><circle cx="1325" cy="953.4" r="5.5"/><circle cx="1347.2" cy="985.6" r="5.5"/><circle cx="1369.4" cy="1020.2" r="5.5"/></g>
<g fill="#343434" stroke="#0d0d0d" stroke-width="1.25" fill-opacity="1"><circle cx="1214.1" cy="893.5" r="5.5"/><circle cx="1236.3" cy="910.4" r="5.5"/><circle cx="1258.5" cy="901.9" r="5.5"/><circle cx="1280.7" cy="903.7" r="5.5"/><circle cx="1302.8" cy="902.2" r="5.5"/><circle cx="1325" cy="934.6" r="5.5"/><circle cx="1347.2" cy="963.3" r="5.5"/><circle cx="1369.4" cy="1023.4" r="5.5"/></g>
</g>
<g>
<text transform="translate(1638.7 794.9) scale(0.9434 1)" font-size="22.68" stroke-width="0.32" text-anchor="middle">353-87</text>
<path d="M1511.9 818.7V1044.1H1766.2M1502.9 1044.1H1511.9M1502.9 969.2H1511.9M1502.9 894.3H1511.9M1502.9 819.4H1511.9M1511.9 1044.1V1052.7M1575.3 1044.1V1052.7M1638.7 1044.1V1052.7M1702.1 1044.1V1052.7M1765.5 1044.1V1052.7" fill="none" stroke="#787878" stroke-width="1.4"/>
<text transform="translate(1501.9 1050.3) scale(0.9615 1)" font-size="17.47" stroke-width="0.38" text-anchor="end">0</text>
<text transform="translate(1501.9 975.4) scale(0.9615 1)" font-size="17.47" stroke-width="0.38" text-anchor="end">50</text>
<text transform="translate(1501.9 900.5) scale(0.9615 1)" font-size="17.47" stroke-width="0.38" text-anchor="end">100</text>
<text transform="translate(1501.9 825.6) scale(0.9615 1)" font-size="17.47" stroke-width="0.38" text-anchor="end">150</text>
<text transform="translate(1511.3 1069.2) scale(0.9615 1)" font-size="17.47" stroke-width="0.38" text-anchor="middle">-8</text>
<text transform="translate(1574.7 1069.2) scale(0.9615 1)" font-size="17.47" stroke-width="0.38" text-anchor="middle">-6</text>
<text transform="translate(1638.1 1069.2) scale(0.9615 1)" font-size="17.47" stroke-width="0.38" text-anchor="middle">-4</text>
<text transform="translate(1701.5 1069.2) scale(0.9615 1)" font-size="17.47" stroke-width="0.38" text-anchor="middle">-2</text>
<text transform="translate(1765.5 1069.2) scale(0.9615 1)" font-size="17.47" stroke-width="0.38" text-anchor="middle">0</text>
<text transform="translate(1638.7 1094.5) scale(0.9434 1)" font-size="19.19" stroke-width="0.42" text-anchor="middle">Log<tspan font-size="13.57" dy="4.6">10</tspan><tspan dy="-4.6">[sera dilution]</tspan></text>
<text transform="translate(1461.3 931.7) rotate(-90) scale(0.9434 1)" font-size="19.19" stroke-width="0.42" text-anchor="middle">Relative Infectivity</text>
<path d="M1556.3 894.3L1558.9 894.3L1561.5 894.3L1564.2 894.3L1566.8 894.3L1569.4 894.3L1572.1 894.3L1574.7 894.3L1577.3 894.3L1580 894.3L1582.6 894.3L1585.2 894.3L1587.9 894.3L1590.5 894.3L1593.1 894.3L1595.8 894.3L1598.4 894.3L1601 894.3L1603.7 894.3L1606.3 894.3L1608.9 894.3L1611.6 894.3L1614.2 894.4L1616.8 894.4L1619.5 894.4L1622.1 894.4L1624.7 894.4L1627.4 894.5L1630 894.5L1632.6 894.6L1635.3 894.7L1637.9 894.8L1640.5 894.9L1643.2 895L1645.8 895.2L1648.4 895.5L1651.1 895.8L1653.7 896.2L1656.3 896.7L1659 897.3L1661.6 898L1664.2 899L1666.9 900.2L1669.5 901.7L1672.1 903.6L1674.8 905.8L1677.4 908.6L1680 912L1682.7 916L1685.3 920.8L1687.9 926.3L1690.5 932.6L1693.2 939.8L1695.8 947.6L1698.4 955.9L1701.1 964.6L1703.7 973.4L1706.3 982.1L1709 990.5L1711.6 998.3M1556.3 894.3L1558.9 894.3L1561.5 894.3L1564.2 894.3L1566.8 894.3L1569.4 894.3L1572.1 894.3L1574.7 894.3L1577.3 894.3L1580 894.3L1582.6 894.3L1585.2 894.3L1587.9 894.3L1590.5 894.3L1593.1 894.3L1595.8 894.3L1598.4 894.3L1601 894.3L1603.7 894.3L1606.3 894.3L1608.9 894.3L1611.6 894.3L1614.2 894.3L1616.8 894.3L1619.5 894.4L1622.1 894.4L1624.7 894.4L1627.4 894.4L1630 894.5L1632.6 894.6L1635.3 894.6L1637.9 894.7L1640.5 894.9L1643.2 895.1L1645.8 895.3L1648.4 895.7L1651.1 896.1L1653.7 896.7L1656.3 897.4L1659 898.4L1661.6 899.7L1664.2 901.4L1666.9 903.6L1669.5 906.4L1672.1 909.9L1674.8 914.3L1677.4 919.7L1680 926.2L1682.7 933.9L1685.3 942.6L1687.9 952.2L1690.5 962.5L1693.2 973L1695.8 983.4L1698.4 993.2L1701.1 1002.2L1703.7 1010.2L1706.3 1017L1709 1022.7L1711.6 1027.4M1556.3 894.5L1558.9 894.5L1561.5 894.6L1564.2 894.6L1566.8 894.6L1569.4 894.7L1572.1 894.7L1574.7 894.8L1577.3 894.9L1580 895L1582.6 895L1585.2 895.2L1587.9 895.3L1590.5 895.4L1593.1 895.6L1595.8 895.7L1598.4 895.9L1601 896.2L1603.7 896.4L1606.3 896.7L1608.9 897.1L1611.6 897.4L1614.2 897.9L1616.8 898.4L1619.5 898.9L1622.1 899.6L1624.7 900.3L1627.4 901.1L1630 902L1632.6 903L1635.3 904.2L1637.9 905.4L1640.5 906.9L1643.2 908.5L1645.8 910.3L1648.4 912.3L1651.1 914.5L1653.7 916.9L1656.3 919.5L1659 922.4L1661.6 925.6L1664.2 929L1666.9 932.6L1669.5 936.5L1672.1 940.6L1674.8 944.9L1677.4 949.5L1680 954.1L1682.7 958.9L1685.3 963.8L1687.9 968.8L1690.5 973.7L1693.2 978.6L1695.8 983.4L1698.4 988.1L1701.1 992.7L1703.7 997L1706.3 1001.2L1709 1005.1L1711.6 1008.8M1556.3 895.9L1558.9 896L1561.5 896.1L1564.2 896.2L1566.8 896.3L1569.4 896.4L1572.1 896.6L1574.7 896.7L1577.3 896.9L1580 897.1L1582.6 897.2L1585.2 897.4L1587.9 897.6L1590.5 897.9L1593.1 898.1L1595.8 898.3L1598.4 898.6L1601 898.9L1603.7 899.2L1606.3 899.5L1608.9 899.8L1611.6 900.2L1614.2 900.6L1616.8 901L1619.5 901.4L1622.1 901.9L1624.7 902.4L1627.4 902.9L1630 903.4L1632.6 904L1635.3 904.6L1637.9 905.2L1640.5 905.9L1643.2 906.6L1645.8 907.4L1648.4 908.2L1651.1 909L1653.7 909.9L1656.3 910.8L1659 911.8L1661.6 912.9L1664.2 913.9L1666.9 915.1L1669.5 916.3L1672.1 917.5L1674.8 918.8L1677.4 920.2L1680 921.6L1682.7 923.1L1685.3 924.6L1687.9 926.3L1690.5 927.9L1693.2 929.6L1695.8 931.4L1698.4 933.3L1701.1 935.2L1703.7 937.1L1706.3 939.2L1709 941.2L1711.6 943.4M1556.3 900.4L1558.9 900.9L1561.5 901.4L1564.2 901.9L1566.8 902.4L1569.4 903L1572.1 903.6L1574.7 904.3L1577.3 905L1580 905.8L1582.6 906.6L1585.2 907.4L1587.9 908.3L1590.5 909.3L1593.1 910.3L1595.8 911.4L1598.4 912.5L1601 913.7L1603.7 915L1606.3 916.3L1608.9 917.8L1611.6 919.3L1614.2 920.8L1616.8 922.5L1619.5 924.2L1622.1 926L1624.7 927.8L1627.4 929.8L1630 931.8L1632.6 933.9L1635.3 936.1L1637.9 938.3L1640.5 940.7L1643.2 943L1645.8 945.5L1648.4 948L1651.1 950.5L1653.7 953.1L1656.3 955.8L1659 958.5L1661.6 961.2L1664.2 963.9L1666.9 966.6L1669.5 969.4L1672.1 972.1L1674.8 974.9L1677.4 977.6L1680 980.3L1682.7 983L1685.3 985.6L1687.9 988.2L1690.5 990.7L1693.2 993.2L1695.8 995.7L1698.4 998L1701.1 1000.3L1703.7 1002.6L1706.3 1004.7L1709 1006.8L1711.6 1008.9M1556.3 894.3L1558.9 894.3L1561.5 894.3L1564.2 894.3L1566.8 894.3L1569.4 894.3L1572.1 894.4L1574.7 894.4L1577.3 894.4L1580 894.4L1582.6 894.4L1585.2 894.4L1587.9 894.5L1590.5 894.5L1593.1 894.5L1595.8 894.6L1598.4 894.6L1601 894.7L1603.7 894.8L1606.3 894.9L1608.9 895L1611.6 895.1L1614.2 895.3L1616.8 895.5L1619.5 895.7L1622.1 896L1624.7 896.3L1627.4 896.7L1630 897.2L1632.6 897.8L1635.3 898.5L1637.9 899.3L1640.5 900.3L1643.2 901.4L1645.8 902.8L1648.4 904.4L1651.1 906.3L1653.7 908.5L1656.3 911.1L1659 914L1661.6 917.4L1664.2 921.3L1666.9 925.6L1669.5 930.5L1672.1 935.8L1674.8 941.5L1677.4 947.7L1680 954.2L1682.7 961L1685.3 967.9L1687.9 974.8L1690.5 981.6L1693.2 988.2L1695.8 994.5L1698.4 1000.5L1701.1 1005.9L1703.7 1011L1706.3 1015.5L1709 1019.5L1711.6 1023.1" fill="none" stroke="#2b2b2b" stroke-width="1.45" stroke-linejoin="round"/>
<g fill="#7a0b4b" stroke="#33001c" stroke-width="1.25" fill-opacity="1"><rect x="1550.8" y="882" width="10.9" height="10.9"/><rect x="1573" y="900.4" width="10.9" height="10.9"/><rect x="1595.2" y="878.4" width="10.9" height="10.9"/><rect x="1617.4" y="893.3" width="10.9" height="10.9"/><rect x="1639.6" y="910.4" width="10.9" height="10.9"/><rect x="1661.8" y="916" width="10.9" height="10.9"/><rect x="1684" y="913.3" width="10.9" height="10.9"/><rect x="1706.2" y="997.9" width="10.9" height="10.9"/></g>
<g fill="#e8177d" stroke="#4a0a28" stroke-width="1.25" fill-opacity="1"><path d="M1578.5 888.8L1583.6 898.9L1573.4 898.9Z"/><path d="M1600.7 875.1L1605.8 885.2L1595.6 885.2Z"/><path d="M1622.9 873.4L1628 883.5L1617.8 883.5Z"/><path d="M1667.2 890.8L1672.3 900.9L1662.1 900.9Z"/><path d="M1689.4 956L1694.5 966.1L1684.3 966.1Z"/><path d="M1711.6 1016.6L1716.7 1026.7L1706.5 1026.7Z"/></g>
<g fill="#773c0a" stroke="#241000" stroke-width="1.25" fill-opacity="1"><circle cx="1556.3" cy="903.3" r="5.5"/><circle cx="1578.5" cy="911.7" r="5.5"/><circle cx="1622.9" cy="922.3" r="5.5"/><circle cx="1645" cy="902.1" r="5.5"/><circle cx="1711.6" cy="1009.6" r="5.5"/></g>
<g fill="#ea1fea" stroke="#3d0a3d" stroke-width="1.25" fill-opacity="1"><circle cx="1556.3" cy="921.9" r="5.5"/><circle cx="1578.5" cy="877.8" r="5.5"/><circle cx="1622.9" cy="873.3" r="5.5"/><circle cx="1645" cy="919.9" r="5.5"/><circle cx="1667.2" cy="918.7" r="5.5"/><circle cx="1689.4" cy="942.2" r="5.5"/><circle cx="1711.6" cy="932.5" r="5.5"/></g>
<g fill="#e3120b" stroke="#3c0000" stroke-width="1.25" fill-opacity="1"><circle cx="1578.5" cy="907.3" r="5.5"/><circle cx="1600.7" cy="935.8" r="5.5"/><circle cx="1622.9" cy="911.7" r="5.5"/><circle cx="1645" cy="948.7" r="5.5"/><circle cx="1667.2" cy="954.2" r="5.5"/><circle cx="1689.4" cy="995.6" r="5.5"/></g>
<g fill="#343434" stroke="#0d0d0d" stroke-width="1.25" fill-opacity="1"><circle cx="1556.3" cy="892.1" r="5.5"/><circle cx="1578.5" cy="886.8" r="5.5"/><circle cx="1600.7" cy="896.7" r="5.5"/><circle cx="1622.9" cy="893.9" r="5.5"/><circle cx="1645" cy="890.7" r="5.5"/><circle cx="1667.2" cy="931.7" r="5.5"/><circle cx="1689.4" cy="978.9" r="5.5"/><circle cx="1711.6" cy="1020.1" r="5.5"/></g>
</g>
<g>
<text transform="translate(1976.6 794.9) scale(0.9434 1)" font-size="22.68" stroke-width="0.32" text-anchor="middle">353-89</text>
<path d="M1849.8 818.7V1044.1H2104.1M1840.8 1044.1H1849.8M1840.8 969.2H1849.8M1840.8 894.3H1849.8M1840.8 819.4H1849.8M1849.8 1044.1V1052.7M1913.2 1044.1V1052.7M1976.6 1044.1V1052.7M2040 1044.1V1052.7M2103.4 1044.1V1052.7" fill="none" stroke="#787878" stroke-width="1.4"/>
<text transform="translate(1839.8 1050.3) scale(0.9615 1)" font-size="17.47" stroke-width="0.38" text-anchor="end">0</text>
<text transform="translate(1839.8 975.4) scale(0.9615 1)" font-size="17.47" stroke-width="0.38" text-anchor="end">50</text>
<text transform="translate(1839.8 900.5) scale(0.9615 1)" font-size="17.47" stroke-width="0.38" text-anchor="end">100</text>
<text transform="translate(1839.8 825.6) scale(0.9615 1)" font-size="17.47" stroke-width="0.38" text-anchor="end">150</text>
<text transform="translate(1849.2 1069.2) scale(0.9615 1)" font-size="17.47" stroke-width="0.38" text-anchor="middle">-8</text>
<text transform="translate(1912.6 1069.2) scale(0.9615 1)" font-size="17.47" stroke-width="0.38" text-anchor="middle">-6</text>
<text transform="translate(1976 1069.2) scale(0.9615 1)" font-size="17.47" stroke-width="0.38" text-anchor="middle">-4</text>
<text transform="translate(2039.4 1069.2) scale(0.9615 1)" font-size="17.47" stroke-width="0.38" text-anchor="middle">-2</text>
<text transform="translate(2103.4 1069.2) scale(0.9615 1)" font-size="17.47" stroke-width="0.38" text-anchor="middle">0</text>
<text transform="translate(1976.6 1094.5) scale(0.9434 1)" font-size="19.19" stroke-width="0.42" text-anchor="middle">Log<tspan font-size="13.57" dy="4.6">10</tspan><tspan dy="-4.6">[sera dilution]</tspan></text>
<text transform="translate(1799.2 931.7) rotate(-90) scale(0.9434 1)" font-size="19.19" stroke-width="0.42" text-anchor="middle">Relative Infectivity</text>
<path d="M1894.2 894.3L1896.8 894.3L1899.4 894.3L1902.1 894.3L1904.7 894.3L1907.3 894.3L1910 894.4L1912.6 894.4L1915.2 894.4L1917.9 894.4L1920.5 894.4L1923.1 894.4L1925.8 894.4L1928.4 894.5L1931 894.5L1933.7 894.5L1936.3 894.6L1938.9 894.6L1941.6 894.7L1944.2 894.7L1946.8 894.8L1949.5 894.9L1952.1 895L1954.7 895.1L1957.4 895.3L1960 895.4L1962.6 895.6L1965.3 895.9L1967.9 896.1L1970.5 896.4L1973.2 896.8L1975.8 897.2L1978.4 897.7L1981.1 898.3L1983.7 899L1986.3 899.8L1989 900.7L1991.6 901.7L1994.2 902.9L1996.9 904.3L1999.5 905.9L2002.1 907.8L2004.8 909.9L2007.4 912.2L2010 914.9L2012.7 917.9L2015.3 921.3L2017.9 925L2020.6 929.1L2023.2 933.5L2025.8 938.3L2028.4 943.5L2031.1 948.9L2033.7 954.5L2036.3 960.4L2039 966.3L2041.6 972.3L2044.2 978.2L2046.9 984.1L2049.5 989.7M1894.2 894.4L1896.8 894.4L1899.4 894.4L1902.1 894.4L1904.7 894.4L1907.3 894.4L1910 894.4L1912.6 894.5L1915.2 894.5L1917.9 894.5L1920.5 894.5L1923.1 894.6L1925.8 894.6L1928.4 894.7L1931 894.7L1933.7 894.8L1936.3 894.9L1938.9 895L1941.6 895.1L1944.2 895.2L1946.8 895.3L1949.5 895.5L1952.1 895.7L1954.7 895.9L1957.4 896.1L1960 896.4L1962.6 896.7L1965.3 897.1L1967.9 897.5L1970.5 898L1973.2 898.5L1975.8 899.2L1978.4 899.9L1981.1 900.7L1983.7 901.7L1986.3 902.8L1989 904L1991.6 905.4L1994.2 907L1996.9 908.7L1999.5 910.7L2002.1 913L2004.8 915.5L2007.4 918.2L2010 921.3L2012.7 924.6L2015.3 928.2L2017.9 932.2L2020.6 936.4L2023.2 940.9L2025.8 945.7L2028.4 950.6L2031.1 955.8L2033.7 961.1L2036.3 966.4L2039 971.9L2041.6 977.2L2044.2 982.5L2046.9 987.7L2049.5 992.7M1894.2 895L1896.8 895L1899.4 895.1L1902.1 895.2L1904.7 895.2L1907.3 895.3L1910 895.4L1912.6 895.5L1915.2 895.6L1917.9 895.7L1920.5 895.8L1923.1 895.9L1925.8 896L1928.4 896.1L1931 896.3L1933.7 896.4L1936.3 896.6L1938.9 896.8L1941.6 897L1944.2 897.2L1946.8 897.4L1949.5 897.6L1952.1 897.9L1954.7 898.1L1957.4 898.4L1960 898.8L1962.6 899.1L1965.3 899.5L1967.9 899.8L1970.5 900.3L1973.2 900.7L1975.8 901.2L1978.4 901.7L1981.1 902.2L1983.7 902.8L1986.3 903.5L1989 904.1L1991.6 904.8L1994.2 905.6L1996.9 906.4L1999.5 907.3L2002.1 908.2L2004.8 909.2L2007.4 910.2L2010 911.3L2012.7 912.5L2015.3 913.8L2017.9 915.1L2020.6 916.5L2023.2 917.9L2025.8 919.5L2028.4 921.1L2031.1 922.8L2033.7 924.6L2036.3 926.4L2039 928.4L2041.6 930.4L2044.2 932.5L2046.9 934.7L2049.5 936.9M1894.2 894.3H2049.5M1894.2 900.8L1896.8 901.1L1899.4 901.4L1902.1 901.7L1904.7 902L1907.3 902.4L1910 902.7L1912.6 903.1L1915.2 903.5L1917.9 903.9L1920.5 904.3L1923.1 904.8L1925.8 905.2L1928.4 905.7L1931 906.2L1933.7 906.7L1936.3 907.2L1938.9 907.8L1941.6 908.4L1944.2 909L1946.8 909.6L1949.5 910.2L1952.1 910.9L1954.7 911.6L1957.4 912.3L1960 913L1962.6 913.8L1965.3 914.6L1967.9 915.4L1970.5 916.3L1973.2 917.2L1975.8 918.1L1978.4 919L1981.1 920L1983.7 920.9L1986.3 922L1989 923L1991.6 924.1L1994.2 925.2L1996.9 926.4L1999.5 927.5L2002.1 928.7L2004.8 930L2007.4 931.2L2010 932.5L2012.7 933.9L2015.3 935.2L2017.9 936.6L2020.6 938L2023.2 939.4L2025.8 940.9L2028.4 942.4L2031.1 943.9L2033.7 945.4L2036.3 947L2039 948.6L2041.6 950.2L2044.2 951.8L2046.9 953.4L2049.5 955.1M1894.2 894.4L1896.8 894.4L1899.4 894.4L1902.1 894.4L1904.7 894.4L1907.3 894.4L1910 894.4L1912.6 894.5L1915.2 894.5L1917.9 894.5L1920.5 894.5L1923.1 894.6L1925.8 894.6L1928.4 894.7L1931 894.8L1933.7 894.9L1936.3 894.9L1938.9 895.1L1941.6 895.2L1944.2 895.3L1946.8 895.5L1949.5 895.7L1952.1 896L1954.7 896.3L1957.4 896.6L1960 897L1962.6 897.4L1965.3 898L1967.9 898.6L1970.5 899.3L1973.2 900.2L1975.8 901.1L1978.4 902.3L1981.1 903.5L1983.7 905L1986.3 906.7L1989 908.7L1991.6 910.9L1994.2 913.4L1996.9 916.3L1999.5 919.4L2002.1 923L2004.8 926.9L2007.4 931.1L2010 935.7L2012.7 940.7L2015.3 946L2017.9 951.5L2020.6 957.3L2023.2 963.2L2025.8 969.2L2028.4 975.1L2031.1 981L2033.7 986.8L2036.3 992.3L2039 997.6L2041.6 1002.6L2044.2 1007.2L2046.9 1011.5L2049.5 1015.4" fill="none" stroke="#2b2b2b" stroke-width="1.45" stroke-linejoin="round"/>
<g fill="#7a0b4b" stroke="#33001c" stroke-width="1.25" fill-opacity="1"><rect x="1888.7" y="868.8" width="10.9" height="10.9"/><rect x="1910.9" y="908.6" width="10.9" height="10.9"/><rect x="1955.3" y="916" width="10.9" height="10.9"/><rect x="1977.5" y="887.5" width="10.9" height="10.9"/><rect x="1999.7" y="895.7" width="10.9" height="10.9"/><rect x="2021.9" y="941.7" width="10.9" height="10.9"/><rect x="2044.1" y="982.2" width="10.9" height="10.9"/></g>
<g fill="#e8177d" stroke="#4a0a28" stroke-width="1.25" fill-opacity="1"><path d="M1894.2 905.5L1899.3 915.6L1889.1 915.6Z"/><path d="M1916.4 870.1L1921.5 880.2L1911.3 880.2Z"/><path d="M1938.6 896.2L1943.7 906.3L1933.5 906.3Z"/><path d="M1960.8 893.5L1965.8 903.6L1955.7 903.6Z"/><path d="M2027.3 940.4L2032.4 950.5L2022.2 950.5Z"/><path d="M2049.5 988.2L2054.6 998.3L2044.4 998.3Z"/></g>
<g fill="#773c0a" stroke="#241000" stroke-width="1.25" fill-opacity="1"><circle cx="1894.2" cy="905.5" r="5.5"/><circle cx="1982.9" cy="895.2" r="5.5"/><circle cx="2005.1" cy="902.5" r="5.5"/><circle cx="2027.3" cy="932.5" r="5.5"/><circle cx="2049.5" cy="932.8" r="5.5"/></g>
<g fill="#ea1fea" stroke="#3d0a3d" stroke-width="1.25" fill-opacity="1"><circle cx="1894.2" cy="894.7" r="5.5"/><circle cx="1916.4" cy="911.4" r="5.5"/><circle cx="1938.6" cy="906.7" r="5.5"/><circle cx="1960.8" cy="883.2" r="5.5"/><circle cx="1982.9" cy="870" r="5.5"/><circle cx="2005.1" cy="905.8" r="5.5"/><circle cx="2027.3" cy="896.7" r="5.5"/><circle cx="2049.5" cy="919" r="5.5"/></g>
<g fill="#e3120b" stroke="#3c0000" stroke-width="1.25" fill-opacity="1"><circle cx="1894.2" cy="901.2" r="5.5"/><circle cx="1916.4" cy="906.7" r="5.5"/><circle cx="1938.6" cy="915.9" r="5.5"/><circle cx="1960.8" cy="912.3" r="5.5"/><circle cx="1982.9" cy="938.3" r="5.5"/><circle cx="2005.1" cy="915.9" r="5.5"/><circle cx="2027.3" cy="911.4" r="5.5"/><circle cx="2049.5" cy="979.4" r="5.5"/></g>
<g fill="#343434" stroke="#0d0d0d" stroke-width="1.25" fill-opacity="1"><circle cx="1894.2" cy="881.9" r="5.5"/><circle cx="1916.4" cy="897.6" r="5.5"/><circle cx="1938.6" cy="890.3" r="5.5"/><circle cx="1960.8" cy="893.9" r="5.5"/><circle cx="1982.9" cy="907.3" r="5.5"/><circle cx="2005.1" cy="926.1" r="5.5"/><circle cx="2027.3" cy="973.8" r="5.5"/><circle cx="2049.5" cy="1014.3" r="5.5"/></g>
</g>
<g>
<text transform="translate(328.8 1207.2) scale(0.9434 1)" font-size="22.68" stroke-width="0.32" text-anchor="middle">353-91</text>
<path d="M202 1230.7V1456.1H456.3M193 1456.1H202M193 1381.2H202M193 1306.3H202M193 1231.4H202M202 1456.1V1464.7M265.4 1456.1V1464.7M328.8 1456.1V1464.7M392.2 1456.1V1464.7M455.6 1456.1V1464.7" fill="none" stroke="#787878" stroke-width="1.4"/>
<text transform="translate(192 1462.3) scale(0.9615 1)" font-size="17.47" stroke-width="0.38" text-anchor="end">0</text>
<text transform="translate(192 1387.4) scale(0.9615 1)" font-size="17.47" stroke-width="0.38" text-anchor="end">50</text>
<text transform="translate(192 1312.5) scale(0.9615 1)" font-size="17.47" stroke-width="0.38" text-anchor="end">100</text>
<text transform="translate(192 1237.6) scale(0.9615 1)" font-size="17.47" stroke-width="0.38" text-anchor="end">150</text>
<text transform="translate(201.4 1481.2) scale(0.9615 1)" font-size="17.47" stroke-width="0.38" text-anchor="middle">-8</text>
<text transform="translate(264.8 1481.2) scale(0.9615 1)" font-size="17.47" stroke-width="0.38" text-anchor="middle">-6</text>
<text transform="translate(328.2 1481.2) scale(0.9615 1)" font-size="17.47" stroke-width="0.38" text-anchor="middle">-4</text>
<text transform="translate(391.6 1481.2) scale(0.9615 1)" font-size="17.47" stroke-width="0.38" text-anchor="middle">-2</text>
<text transform="translate(455.6 1481.2) scale(0.9615 1)" font-size="17.47" stroke-width="0.38" text-anchor="middle">0</text>
<text transform="translate(328.8 1506.5) scale(0.9434 1)" font-size="19.19" stroke-width="0.42" text-anchor="middle">Log<tspan font-size="13.57" dy="4.6">10</tspan><tspan dy="-4.6">[sera dilution]</tspan></text>
<text transform="translate(151.4 1343.8) rotate(-90) scale(0.9434 1)" font-size="19.19" stroke-width="0.42" text-anchor="middle">Relative Infectivity</text>
<path d="M246.4 1307.5L249 1307.6L251.6 1307.7L254.3 1307.9L256.9 1308L259.5 1308.1L262.2 1308.3L264.8 1308.5L267.4 1308.6L270.1 1308.8L272.7 1309.1L275.3 1309.3L278 1309.6L280.6 1309.8L283.2 1310.1L285.9 1310.5L288.5 1310.8L291.1 1311.2L293.8 1311.6L296.4 1312L299 1312.5L301.7 1313L304.3 1313.6L306.9 1314.2L309.6 1314.9L312.2 1315.5L314.8 1316.3L317.5 1317.1L320.1 1318L322.7 1318.9L325.4 1319.9L328 1321L330.6 1322.1L333.3 1323.3L335.9 1324.6L338.5 1326L341.2 1327.5L343.8 1329.1L346.4 1330.7L349.1 1332.5L351.7 1334.3L354.3 1336.3L357 1338.3L359.6 1340.5L362.2 1342.7L364.9 1345.1L367.5 1347.5L370.1 1350.1L372.8 1352.7L375.4 1355.4L378 1358.2L380.6 1361.1L383.3 1364L385.9 1367L388.5 1370L391.2 1373.1L393.8 1376.2L396.4 1379.3L399.1 1382.5L401.7 1385.6M246.4 1306.3L249 1306.3L251.6 1306.3L254.3 1306.3L256.9 1306.3L259.5 1306.3L262.2 1306.3L264.8 1306.3L267.4 1306.3L270.1 1306.3L272.7 1306.3L275.3 1306.3L278 1306.3L280.6 1306.3L283.2 1306.3L285.9 1306.3L288.5 1306.3L291.1 1306.3L293.8 1306.3L296.4 1306.3L299 1306.3L301.7 1306.3L304.3 1306.3L306.9 1306.3L309.6 1306.3L312.2 1306.4L314.8 1306.4L317.5 1306.4L320.1 1306.4L322.7 1306.4L325.4 1306.5L328 1306.5L330.6 1306.6L333.3 1306.7L335.9 1306.7L338.5 1306.9L341.2 1307L343.8 1307.2L346.4 1307.4L349.1 1307.6L351.7 1308L354.3 1308.4L357 1308.9L359.6 1309.5L362.2 1310.3L364.9 1311.3L367.5 1312.5L370.1 1313.9L372.8 1315.7L375.4 1317.9L378 1320.5L380.6 1323.7L383.3 1327.4L385.9 1331.8L388.5 1336.9L391.2 1342.6L393.8 1349.1L396.4 1356.3L399.1 1364L401.7 1372.1M246.4 1308L249 1308.1L251.6 1308.2L254.3 1308.4L256.9 1308.6L259.5 1308.7L262.2 1308.9L264.8 1309.1L267.4 1309.3L270.1 1309.6L272.7 1309.8L275.3 1310.1L278 1310.4L280.6 1310.7L283.2 1311L285.9 1311.4L288.5 1311.8L291.1 1312.2L293.8 1312.7L296.4 1313.2L299 1313.7L301.7 1314.2L304.3 1314.8L306.9 1315.4L309.6 1316.1L312.2 1316.8L314.8 1317.6L317.5 1318.4L320.1 1319.3L322.7 1320.3L325.4 1321.3L328 1322.3L330.6 1323.4L333.3 1324.6L335.9 1325.9L338.5 1327.2L341.2 1328.6L343.8 1330.1L346.4 1331.7L349.1 1333.3L351.7 1335.1L354.3 1336.9L357 1338.8L359.6 1340.8L362.2 1342.8L364.9 1345L367.5 1347.2L370.1 1349.5L372.8 1351.9L375.4 1354.3L378 1356.8L380.6 1359.4L383.3 1362.1L385.9 1364.8L388.5 1367.5L391.2 1370.3L393.8 1373.1L396.4 1375.9L399.1 1378.8L401.7 1381.6M246.4 1323.2H401.7M246.4 1309.6L249 1309.8L251.6 1310.1L254.3 1310.3L256.9 1310.6L259.5 1310.9L262.2 1311.2L264.8 1311.6L267.4 1311.9L270.1 1312.3L272.7 1312.7L275.3 1313.1L278 1313.6L280.6 1314.1L283.2 1314.6L285.9 1315.1L288.5 1315.7L291.1 1316.3L293.8 1317L296.4 1317.7L299 1318.4L301.7 1319.2L304.3 1320L306.9 1320.9L309.6 1321.8L312.2 1322.8L314.8 1323.8L317.5 1324.9L320.1 1326L322.7 1327.2L325.4 1328.4L328 1329.7L330.6 1331.1L333.3 1332.5L335.9 1334L338.5 1335.6L341.2 1337.2L343.8 1338.9L346.4 1340.7L349.1 1342.5L351.7 1344.4L354.3 1346.4L357 1348.4L359.6 1350.5L362.2 1352.6L364.9 1354.8L367.5 1357.1L370.1 1359.4L372.8 1361.7L375.4 1364.1L378 1366.5L380.6 1369L383.3 1371.5L385.9 1374L388.5 1376.5L391.2 1379L393.8 1381.6L396.4 1384.1L399.1 1386.6L401.7 1389.2M246.4 1306.5L249 1306.5L251.6 1306.5L254.3 1306.6L256.9 1306.6L259.5 1306.7L262.2 1306.7L264.8 1306.8L267.4 1306.8L270.1 1306.9L272.7 1307L275.3 1307.1L278 1307.2L280.6 1307.4L283.2 1307.5L285.9 1307.7L288.5 1307.9L291.1 1308.1L293.8 1308.4L296.4 1308.7L299 1309L301.7 1309.4L304.3 1309.9L306.9 1310.4L309.6 1310.9L312.2 1311.6L314.8 1312.3L317.5 1313.2L320.1 1314.1L322.7 1315.2L325.4 1316.4L328 1317.7L330.6 1319.2L333.3 1320.9L335.9 1322.8L338.5 1324.9L341.2 1327.2L343.8 1329.8L346.4 1332.6L349.1 1335.6L351.7 1338.9L354.3 1342.5L357 1346.4L359.6 1350.5L362.2 1354.8L364.9 1359.3L367.5 1364L370.1 1368.9L372.8 1373.9L375.4 1378.9L378 1384L380.6 1389L383.3 1394L385.9 1398.9L388.5 1403.6L391.2 1408.1L393.8 1412.4L396.4 1416.5L399.1 1420.3L401.7 1423.8" fill="none" stroke="#2b2b2b" stroke-width="1.45" stroke-linejoin="round"/>
<g fill="#7a0b4b" stroke="#33001c" stroke-width="1.25" fill-opacity="1"><rect x="240.9" y="1305.6" width="10.9" height="10.9"/><rect x="263.1" y="1291.9" width="10.9" height="10.9"/><rect x="285.3" y="1320.3" width="10.9" height="10.9"/><rect x="307.5" y="1328.3" width="10.9" height="10.9"/><rect x="329.7" y="1307.4" width="10.9" height="10.9"/><rect x="351.9" y="1325.6" width="10.9" height="10.9"/><rect x="374.1" y="1356.7" width="10.9" height="10.9"/><rect x="396.3" y="1382.5" width="10.9" height="10.9"/></g>
<g fill="#e8177d" stroke="#4a0a28" stroke-width="1.25" fill-opacity="1"><path d="M246.4 1322.3L251.5 1332.4L241.3 1332.4Z"/><path d="M268.6 1280L273.7 1290.1L263.5 1290.1Z"/><path d="M312.9 1270.4L318.1 1280.5L307.8 1280.5Z"/><path d="M357.3 1288.6L362.4 1298.7L352.2 1298.7Z"/><path d="M379.5 1322.3L384.6 1332.4L374.4 1332.4Z"/><path d="M401.7 1365L406.8 1375.1L396.6 1375.1Z"/></g>
<g fill="#773c0a" stroke="#241000" stroke-width="1.25" fill-opacity="1"><circle cx="268.6" cy="1321.7" r="5.5"/><circle cx="312.9" cy="1332.8" r="5.5"/><circle cx="335.1" cy="1320.2" r="5.5"/><circle cx="379.5" cy="1344.3" r="5.5"/></g>
<g fill="#ea1fea" stroke="#3d0a3d" stroke-width="1.25" fill-opacity="1"><circle cx="246.4" cy="1303" r="5.5"/><circle cx="290.8" cy="1331.3" r="5.5"/><circle cx="312.9" cy="1322.8" r="5.5"/><circle cx="335.1" cy="1293.7" r="5.5"/><circle cx="357.3" cy="1324" r="5.5"/><circle cx="379.5" cy="1349.7" r="5.5"/><circle cx="401.7" cy="1344.3" r="5.5"/></g>
<g fill="#e3120b" stroke="#3c0000" stroke-width="1.25" fill-opacity="1"><circle cx="246.4" cy="1291.3" r="5.5"/><circle cx="268.6" cy="1332.4" r="5.5"/><circle cx="290.8" cy="1319.3" r="5.5"/><circle cx="312.9" cy="1317.1" r="5.5"/><circle cx="335.1" cy="1348.1" r="5.5"/><circle cx="357.3" cy="1337.8" r="5.5"/><circle cx="379.5" cy="1358.1" r="5.5"/><circle cx="401.7" cy="1399.2" r="5.5"/></g>
<g fill="#343434" stroke="#0d0d0d" stroke-width="1.25" fill-opacity="1"><circle cx="246.4" cy="1285.9" r="5.5"/><circle cx="268.6" cy="1316.2" r="5.5"/><circle cx="290.8" cy="1310.3" r="5.5"/><circle cx="312.9" cy="1299.7" r="5.5"/><circle cx="335.1" cy="1333.3" r="5.5"/><circle cx="357.3" cy="1347.9" r="5.5"/><circle cx="379.5" cy="1378.8" r="5.5"/><circle cx="401.7" cy="1430.6" r="5.5"/></g>
</g>
<g>
<text transform="translate(647 1210) scale(0.9434 1)" font-size="22.68" stroke-width="0.32" text-anchor="middle">353-06</text>
<path d="M520.2 1230.7V1456.1H774.5M511.2 1456.1H520.2M511.2 1381.2H520.2M511.2 1306.3H520.2M511.2 1231.4H520.2M520.2 1456.1V1464.7M583.6 1456.1V1464.7M647 1456.1V1464.7M710.4 1456.1V1464.7M773.8 1456.1V1464.7" fill="none" stroke="#787878" stroke-width="1.4"/>
<text transform="translate(510.2 1462.3) scale(0.9615 1)" font-size="17.47" stroke-width="0.38" text-anchor="end">0</text>
<text transform="translate(510.2 1387.4) scale(0.9615 1)" font-size="17.47" stroke-width="0.38" text-anchor="end">50</text>
<text transform="translate(510.2 1312.5) scale(0.9615 1)" font-size="17.47" stroke-width="0.38" text-anchor="end">100</text>
<text transform="translate(510.2 1237.6) scale(0.9615 1)" font-size="17.47" stroke-width="0.38" text-anchor="end">150</text>
<text transform="translate(519.6 1481.2) scale(0.9615 1)" font-size="17.47" stroke-width="0.38" text-anchor="middle">-8</text>
<text transform="translate(583 1481.2) scale(0.9615 1)" font-size="17.47" stroke-width="0.38" text-anchor="middle">-6</text>
<text transform="translate(646.4 1481.2) scale(0.9615 1)" font-size="17.47" stroke-width="0.38" text-anchor="middle">-4</text>
<text transform="translate(709.8 1481.2) scale(0.9615 1)" font-size="17.47" stroke-width="0.38" text-anchor="middle">-2</text>
<text transform="translate(773.8 1481.2) scale(0.9615 1)" font-size="17.47" stroke-width="0.38" text-anchor="middle">0</text>
<text transform="translate(647 1506.5) scale(0.9434 1)" font-size="19.19" stroke-width="0.42" text-anchor="middle">Log<tspan font-size="13.57" dy="4.6">10</tspan><tspan dy="-4.6">[sera dilution]</tspan></text>
<text transform="translate(469.6 1343.8) rotate(-90) scale(0.9434 1)" font-size="19.19" stroke-width="0.42" text-anchor="middle">Relative Infectivity</text>
<path d="M564.6 1306.3L567.2 1306.3L569.8 1306.3L572.5 1306.3L575.1 1306.3L577.7 1306.3L580.4 1306.3L583 1306.3L585.6 1306.3L588.3 1306.3L590.9 1306.3L593.5 1306.3L596.2 1306.3L598.8 1306.3L601.4 1306.3L604.1 1306.3L606.7 1306.3L609.3 1306.3L612 1306.3L614.6 1306.3L617.2 1306.3L619.9 1306.3L622.5 1306.3L625.1 1306.3L627.8 1306.3L630.4 1306.3L633 1306.3L635.7 1306.3L638.3 1306.3L640.9 1306.3L643.6 1306.3L646.2 1306.3L648.8 1306.3L651.5 1306.3L654.1 1306.3L656.7 1306.3L659.4 1306.3L662 1306.3L664.6 1306.3L667.3 1306.3L669.9 1306.3L672.5 1306.3L675.2 1306.3L677.8 1306.3L680.4 1306.3L683.1 1306.3L685.7 1306.3L688.3 1306.3L688.4 1306.3L688.9 1306.3L689.5 1306.3L690 1306.3L690.5 1306.3L691 1306.3L691.1 1306.3L691.6 1306.3L692.1 1306.3L692.7 1306.3L693.2 1306.3L693.6 1306.3L693.7 1306.3L694.3 1306.3L694.8 1306.3L695.3 1306.3L695.9 1306.3L696.2 1306.3L696.4 1306.3L696.9 1306.3L697.5 1306.3L698 1306.3L698.5 1306.3L698.8 1306.3L699.1 1306.3L699.6 1306.3L700.1 1306.3L700.7 1306.3L701.2 1306.3L701.5 1306.3L701.8 1306.3L702.3 1306.3L702.8 1306.3L703.4 1306.3L703.9 1306.3L704.1 1306.3L704.4 1306.3L705 1306.3L705.5 1306.3L706 1306.3L706.6 1306.3L706.7 1306.3L707.1 1306.3L707.6 1306.3L708.2 1306.3L708.7 1306.3L709.2 1306.3L709.4 1306.3L709.8 1306.3L710.3 1306.3L710.8 1306.3L711.4 1306.3L711.9 1306.3L712 1306.3L712.4 1306.3L713 1306.4L713.5 1306.4L714 1306.5L714.6 1306.7L714.6 1306.7L715.1 1306.9L715.6 1307.4L716.2 1308.3L716.7 1309.9L717.2 1312.7L717.3 1312.9L717.8 1317.3L718.3 1324.9L718.8 1336.6L719.4 1353.1L719.9 1373.5M564.6 1306.3H719.9" fill="none" stroke="#2b2b2b" stroke-width="1.45" stroke-linejoin="round"/>
<g fill="#113c7a" stroke="#081c3c" stroke-width="1.25" fill-opacity="1"><rect x="559.1" y="1265.6" width="10.9" height="10.9"/><rect x="581.3" y="1256.8" width="10.9" height="10.9"/><rect x="603.5" y="1274.9" width="10.9" height="10.9"/><rect x="625.7" y="1252.3" width="10.9" height="10.9"/><rect x="647.9" y="1257.4" width="10.9" height="10.9"/><rect x="670.1" y="1265.2" width="10.9" height="10.9"/><rect x="692.3" y="1295.5" width="10.9" height="10.9"/><rect x="714.5" y="1367.8" width="10.9" height="10.9"/></g>
<g fill="#000000" stroke="#000000" stroke-width="1.25" fill-opacity="1"><circle cx="564.6" cy="1281.6" r="5.5"/><circle cx="586.8" cy="1271.1" r="5.5"/><circle cx="609" cy="1244.9" r="5.5"/><circle cx="631.2" cy="1263.5" r="5.5"/><circle cx="653.3" cy="1269.3" r="5.5"/><circle cx="675.5" cy="1273" r="5.5"/><circle cx="697.7" cy="1280.4" r="5.5"/><circle cx="719.9" cy="1286.8" r="5.5"/></g>
</g>
<g>
<text transform="translate(962.4 1210) scale(0.9434 1)" font-size="22.68" stroke-width="0.32" text-anchor="middle">353-10</text>
<path d="M835.6 1231V1456.4H1089.9M826.6 1456.4H835.6M826.6 1381.5H835.6M826.6 1306.6H835.6M826.6 1231.7H835.6M835.6 1456.4V1465M899 1456.4V1465M962.4 1456.4V1465M1025.8 1456.4V1465M1089.2 1456.4V1465" fill="none" stroke="#787878" stroke-width="1.4"/>
<text transform="translate(825.6 1462.6) scale(0.9615 1)" font-size="17.47" stroke-width="0.38" text-anchor="end">0</text>
<text transform="translate(825.6 1387.7) scale(0.9615 1)" font-size="17.47" stroke-width="0.38" text-anchor="end">50</text>
<text transform="translate(825.6 1312.8) scale(0.9615 1)" font-size="17.47" stroke-width="0.38" text-anchor="end">100</text>
<text transform="translate(825.6 1237.9) scale(0.9615 1)" font-size="17.47" stroke-width="0.38" text-anchor="end">150</text>
<text transform="translate(835 1481.5) scale(0.9615 1)" font-size="17.47" stroke-width="0.38" text-anchor="middle">-8</text>
<text transform="translate(898.4 1481.5) scale(0.9615 1)" font-size="17.47" stroke-width="0.38" text-anchor="middle">-6</text>
<text transform="translate(961.8 1481.5) scale(0.9615 1)" font-size="17.47" stroke-width="0.38" text-anchor="middle">-4</text>
<text transform="translate(1025.2 1481.5) scale(0.9615 1)" font-size="17.47" stroke-width="0.38" text-anchor="middle">-2</text>
<text transform="translate(1089.2 1481.5) scale(0.9615 1)" font-size="17.47" stroke-width="0.38" text-anchor="middle">0</text>
<text transform="translate(962.4 1506.8) scale(0.9434 1)" font-size="19.19" stroke-width="0.42" text-anchor="middle">Log<tspan font-size="13.57" dy="4.6">10</tspan><tspan dy="-4.6">[sera dilution]</tspan></text>
<text transform="translate(785 1344.1) rotate(-90) scale(0.9434 1)" font-size="19.19" stroke-width="0.42" text-anchor="middle">Relative Infectivity</text>
<path d="M880 1306.6L882.6 1306.6L885.2 1306.6L887.9 1306.6L890.5 1306.6L893.1 1306.6L895.8 1306.6L898.4 1306.6L901 1306.6L903.7 1306.6L906.3 1306.6L908.9 1306.6L911.6 1306.6L914.2 1306.6L916.8 1306.6L919.5 1306.6L922.1 1306.6L924.7 1306.7L927.4 1306.7L930 1306.7L932.6 1306.7L935.3 1306.7L937.9 1306.8L940.5 1306.8L943.2 1306.9L945.8 1306.9L948.4 1307L951.1 1307.1L953.7 1307.2L956.3 1307.4L959 1307.6L961.6 1307.8L964.2 1308.1L966.9 1308.4L969.5 1308.8L972.1 1309.4L974.8 1310L977.4 1310.8L980 1311.8L982.7 1312.9L985.3 1314.4L987.9 1316.1L990.6 1318.2L993.2 1320.7L995.8 1323.6L998.5 1327.1L1001.1 1331.2L1003.7 1335.9L1006.4 1341.3L1009 1347.3L1011.6 1354L1014.2 1361.1L1016.9 1368.7L1019.5 1376.6L1022.1 1384.6L1024.8 1392.5L1027.4 1400.2L1030 1407.5L1032.7 1414.2L1035.3 1420.4M880 1306.6L882.6 1306.6L885.2 1306.6L887.9 1306.6L890.5 1306.6L893.1 1306.6L895.8 1306.6L898.4 1306.6L901 1306.6L903.7 1306.7L906.3 1306.7L908.9 1306.7L911.6 1306.7L914.2 1306.7L916.8 1306.7L919.5 1306.7L922.1 1306.7L924.7 1306.8L927.4 1306.8L930 1306.8L932.6 1306.9L935.3 1306.9L937.9 1306.9L940.5 1307L943.2 1307.1L945.8 1307.1L948.4 1307.2L951.1 1307.3L953.7 1307.4L956.3 1307.6L959 1307.7L961.6 1307.9L964.2 1308.1L966.9 1308.3L969.5 1308.6L972.1 1308.9L974.8 1309.3L977.4 1309.7L980 1310.1L982.7 1310.7L985.3 1311.3L987.9 1312L990.6 1312.9L993.2 1313.8L995.8 1314.9L998.5 1316.1L1001.1 1317.5L1003.7 1319.1L1006.4 1320.9L1009 1322.9L1011.6 1325.2L1014.2 1327.7L1016.9 1330.5L1019.5 1333.6L1022.1 1337.1L1024.8 1340.8L1027.4 1344.8L1030 1349.2L1032.7 1353.8L1035.3 1358.6" fill="none" stroke="#2b2b2b" stroke-width="1.45" stroke-linejoin="round"/>
<g fill="#113c7a" stroke="#081c3c" stroke-width="1.25" fill-opacity="1"><rect x="874.5" y="1295.2" width="10.9" height="10.9"/><rect x="896.7" y="1310.1" width="10.9" height="10.9"/><rect x="918.9" y="1296.7" width="10.9" height="10.9"/><rect x="941.1" y="1307.1" width="10.9" height="10.9"/><rect x="963.3" y="1309.7" width="10.9" height="10.9"/><rect x="985.5" y="1318.5" width="10.9" height="10.9"/><rect x="1007.7" y="1347.6" width="10.9" height="10.9"/><rect x="1029.9" y="1418.3" width="10.9" height="10.9"/></g>
<g fill="#000000" stroke="#000000" stroke-width="1.25" fill-opacity="1"><circle cx="880" cy="1314.5" r="5.5"/><circle cx="902.2" cy="1301.4" r="5.5"/><circle cx="924.4" cy="1297.3" r="5.5"/><circle cx="946.6" cy="1309.6" r="5.5"/><circle cx="968.7" cy="1308.7" r="5.5"/><circle cx="990.9" cy="1317.1" r="5.5"/><circle cx="1013.1" cy="1323.8" r="5.5"/><circle cx="1035.3" cy="1359.3" r="5.5"/></g>
</g>
<g>
<text transform="translate(1296.5 1210) scale(0.9434 1)" font-size="22.68" stroke-width="0.32" text-anchor="middle">353-12</text>
<path d="M1169.7 1230.7V1456.1H1424M1160.7 1456.1H1169.7M1160.7 1381.2H1169.7M1160.7 1306.3H1169.7M1160.7 1231.4H1169.7M1169.7 1456.1V1464.7M1233.1 1456.1V1464.7M1296.5 1456.1V1464.7M1359.9 1456.1V1464.7M1423.3 1456.1V1464.7" fill="none" stroke="#787878" stroke-width="1.4"/>
<text transform="translate(1159.7 1462.3) scale(0.9615 1)" font-size="17.47" stroke-width="0.38" text-anchor="end">0</text>
<text transform="translate(1159.7 1387.4) scale(0.9615 1)" font-size="17.47" stroke-width="0.38" text-anchor="end">50</text>
<text transform="translate(1159.7 1312.5) scale(0.9615 1)" font-size="17.47" stroke-width="0.38" text-anchor="end">100</text>
<text transform="translate(1159.7 1237.6) scale(0.9615 1)" font-size="17.47" stroke-width="0.38" text-anchor="end">150</text>
<text transform="translate(1169.1 1481.2) scale(0.9615 1)" font-size="17.47" stroke-width="0.38" text-anchor="middle">-8</text>
<text transform="translate(1232.5 1481.2) scale(0.9615 1)" font-size="17.47" stroke-width="0.38" text-anchor="middle">-6</text>
<text transform="translate(1295.9 1481.2) scale(0.9615 1)" font-size="17.47" stroke-width="0.38" text-anchor="middle">-4</text>
<text transform="translate(1359.3 1481.2) scale(0.9615 1)" font-size="17.47" stroke-width="0.38" text-anchor="middle">-2</text>
<text transform="translate(1423.3 1481.2) scale(0.9615 1)" font-size="17.47" stroke-width="0.38" text-anchor="middle">0</text>
<text transform="translate(1296.5 1506.5) scale(0.9434 1)" font-size="19.19" stroke-width="0.42" text-anchor="middle">Log<tspan font-size="13.57" dy="4.6">10</tspan><tspan dy="-4.6">[sera dilution]</tspan></text>
<text transform="translate(1119.1 1343.8) rotate(-90) scale(0.9434 1)" font-size="19.19" stroke-width="0.42" text-anchor="middle">Relative Infectivity</text>
<path d="M1214.1 1312.1L1216.7 1312.6L1219.3 1313.1L1222 1313.6L1224.6 1314.1L1227.2 1314.7L1229.9 1315.4L1232.5 1316L1235.1 1316.8L1237.8 1317.5L1240.4 1318.4L1243 1319.3L1245.7 1320.2L1248.3 1321.2L1250.9 1322.3L1253.6 1323.4L1256.2 1324.6L1258.8 1325.9L1261.5 1327.3L1264.1 1328.7L1266.7 1330.2L1269.4 1331.8L1272 1333.5L1274.6 1335.2L1277.3 1337.1L1279.9 1339L1282.5 1341.1L1285.2 1343.2L1287.8 1345.3L1290.4 1347.6L1293.1 1350L1295.7 1352.4L1298.3 1354.9L1301 1357.5L1303.6 1360.1L1306.2 1362.8L1308.9 1365.5L1311.5 1368.3L1314.1 1371.2L1316.8 1374L1319.4 1376.9L1322 1379.8L1324.7 1382.7L1327.3 1385.6L1329.9 1388.4L1332.6 1391.3L1335.2 1394.1L1337.8 1396.9L1340.5 1399.6L1343.1 1402.3L1345.7 1405L1348.3 1407.5L1351 1410L1353.6 1412.5L1356.2 1414.8L1358.9 1417.1L1361.5 1419.3L1364.1 1421.4L1366.8 1423.4L1369.4 1425.3M1214.1 1306.5L1216.7 1306.5L1219.3 1306.6L1222 1306.6L1224.6 1306.6L1227.2 1306.7L1229.9 1306.7L1232.5 1306.8L1235.1 1306.9L1237.8 1306.9L1240.4 1307L1243 1307.1L1245.7 1307.2L1248.3 1307.3L1250.9 1307.4L1253.6 1307.6L1256.2 1307.7L1258.8 1307.9L1261.5 1308.1L1264.1 1308.3L1266.7 1308.6L1269.4 1308.8L1272 1309.2L1274.6 1309.5L1277.3 1309.9L1279.9 1310.3L1282.5 1310.8L1285.2 1311.4L1287.8 1312L1290.4 1312.6L1293.1 1313.4L1295.7 1314.2L1298.3 1315.2L1301 1316.2L1303.6 1317.4L1306.2 1318.6L1308.9 1320L1311.5 1321.6L1314.1 1323.3L1316.8 1325.1L1319.4 1327.2L1322 1329.4L1324.7 1331.8L1327.3 1334.3L1329.9 1337.1L1332.6 1340.1L1335.2 1343.3L1337.8 1346.7L1340.5 1350.2L1343.1 1354L1345.7 1357.9L1348.3 1362L1351 1366.1L1353.6 1370.4L1356.2 1374.8L1358.9 1379.2L1361.5 1383.6L1364.1 1388L1366.8 1392.3L1369.4 1396.6" fill="none" stroke="#2b2b2b" stroke-width="1.45" stroke-linejoin="round"/>
<g fill="#113c7a" stroke="#081c3c" stroke-width="1.25" fill-opacity="1"><rect x="1208.6" y="1297.9" width="10.9" height="10.9"/><rect x="1230.8" y="1310.7" width="10.9" height="10.9"/><rect x="1253" y="1327.8" width="10.9" height="10.9"/><rect x="1275.2" y="1332" width="10.9" height="10.9"/><rect x="1297.4" y="1352.2" width="10.9" height="10.9"/><rect x="1319.6" y="1380.7" width="10.9" height="10.9"/><rect x="1341.8" y="1398.8" width="10.9" height="10.9"/><rect x="1364" y="1419.9" width="10.9" height="10.9"/></g>
<g fill="#000000" stroke="#000000" stroke-width="1.25" fill-opacity="1"><circle cx="1214.1" cy="1316.2" r="5.5"/><circle cx="1236.3" cy="1301.5" r="5.5"/><circle cx="1258.5" cy="1300.6" r="5.5"/><circle cx="1280.7" cy="1305.3" r="5.5"/><circle cx="1302.8" cy="1310.8" r="5.5"/><circle cx="1325" cy="1337.9" r="5.5"/><circle cx="1347.2" cy="1362.6" r="5.5"/><circle cx="1369.4" cy="1393.5" r="5.5"/></g>
</g>
<g>
<text transform="translate(1638.7 1210) scale(0.9434 1)" font-size="22.68" stroke-width="0.32" text-anchor="middle">353-14</text>
<path d="M1511.9 1231V1456.4H1766.2M1502.9 1456.4H1511.9M1502.9 1381.5H1511.9M1502.9 1306.6H1511.9M1502.9 1231.7H1511.9M1511.9 1456.4V1465M1575.3 1456.4V1465M1638.7 1456.4V1465M1702.1 1456.4V1465M1765.5 1456.4V1465" fill="none" stroke="#787878" stroke-width="1.4"/>
<text transform="translate(1501.9 1462.6) scale(0.9615 1)" font-size="17.47" stroke-width="0.38" text-anchor="end">0</text>
<text transform="translate(1501.9 1387.7) scale(0.9615 1)" font-size="17.47" stroke-width="0.38" text-anchor="end">50</text>
<text transform="translate(1501.9 1312.8) scale(0.9615 1)" font-size="17.47" stroke-width="0.38" text-anchor="end">100</text>
<text transform="translate(1501.9 1237.9) scale(0.9615 1)" font-size="17.47" stroke-width="0.38" text-anchor="end">150</text>
<text transform="translate(1511.3 1481.5) scale(0.9615 1)" font-size="17.47" stroke-width="0.38" text-anchor="middle">-8</text>
<text transform="translate(1574.7 1481.5) scale(0.9615 1)" font-size="17.47" stroke-width="0.38" text-anchor="middle">-6</text>
<text transform="translate(1638.1 1481.5) scale(0.9615 1)" font-size="17.47" stroke-width="0.38" text-anchor="middle">-4</text>
<text transform="translate(1701.5 1481.5) scale(0.9615 1)" font-size="17.47" stroke-width="0.38" text-anchor="middle">-2</text>
<text transform="translate(1765.5 1481.5) scale(0.9615 1)" font-size="17.47" stroke-width="0.38" text-anchor="middle">0</text>
<text transform="translate(1638.7 1506.8) scale(0.9434 1)" font-size="19.19" stroke-width="0.42" text-anchor="middle">Log<tspan font-size="13.57" dy="4.6">10</tspan><tspan dy="-4.6">[sera dilution]</tspan></text>
<text transform="translate(1461.3 1344.1) rotate(-90) scale(0.9434 1)" font-size="19.19" stroke-width="0.42" text-anchor="middle">Relative Infectivity</text>
<path d="M1556.3 1309L1558.9 1309.1L1561.5 1309.3L1564.2 1309.5L1566.8 1309.7L1569.4 1309.9L1572.1 1310.1L1574.7 1310.3L1577.3 1310.6L1580 1310.9L1582.6 1311.1L1585.2 1311.5L1587.9 1311.8L1590.5 1312.1L1593.1 1312.5L1595.8 1312.9L1598.4 1313.3L1601 1313.7L1603.7 1314.2L1606.3 1314.7L1608.9 1315.2L1611.6 1315.7L1614.2 1316.3L1616.8 1316.9L1619.5 1317.6L1622.1 1318.3L1624.7 1319L1627.4 1319.8L1630 1320.6L1632.6 1321.5L1635.3 1322.4L1637.9 1323.4L1640.5 1324.4L1643.2 1325.4L1645.8 1326.6L1648.4 1327.7L1651.1 1329L1653.7 1330.3L1656.3 1331.6L1659 1333L1661.6 1334.5L1664.2 1336L1666.9 1337.6L1669.5 1339.3L1672.1 1341L1674.8 1342.8L1677.4 1344.6L1680 1346.6L1682.7 1348.5L1685.3 1350.6L1687.9 1352.6L1690.5 1354.8L1693.2 1357L1695.8 1359.2L1698.4 1361.5L1701.1 1363.8L1703.7 1366.2L1706.3 1368.6L1709 1371L1711.6 1373.4M1556.3 1306.6L1558.9 1306.6L1561.5 1306.6L1564.2 1306.6L1566.8 1306.6L1569.4 1306.6L1572.1 1306.6L1574.7 1306.6L1577.3 1306.6L1580 1306.6L1582.6 1306.6L1585.2 1306.6L1587.9 1306.6L1590.5 1306.6L1593.1 1306.6L1595.8 1306.6L1598.4 1306.6L1601 1306.6L1603.7 1306.6L1606.3 1306.6L1608.9 1306.6L1611.6 1306.6L1614.2 1306.6L1616.8 1306.6L1619.5 1306.7L1622.1 1306.7L1624.7 1306.7L1627.4 1306.7L1630 1306.7L1632.6 1306.7L1635.3 1306.8L1637.9 1306.8L1640.5 1306.8L1643.2 1306.9L1645.8 1306.9L1648.4 1307L1651.1 1307.1L1653.7 1307.2L1656.3 1307.3L1659 1307.4L1661.6 1307.6L1664.2 1307.8L1666.9 1308.1L1669.5 1308.3L1672.1 1308.7L1674.8 1309.1L1677.4 1309.6L1680 1310.1L1682.7 1310.8L1685.3 1311.6L1687.9 1312.6L1690.5 1313.7L1693.2 1315.1L1695.8 1316.6L1698.4 1318.5L1701.1 1320.6L1703.7 1323.1L1706.3 1325.9L1709 1329.2L1711.6 1332.9" fill="none" stroke="#2b2b2b" stroke-width="1.45" stroke-linejoin="round"/>
<g fill="#113c7a" stroke="#081c3c" stroke-width="1.25" fill-opacity="1"><rect x="1550.8" y="1316.9" width="10.9" height="10.9"/><rect x="1573" y="1286.8" width="10.9" height="10.9"/><rect x="1595.2" y="1317.8" width="10.9" height="10.9"/><rect x="1617.4" y="1314.9" width="10.9" height="10.9"/><rect x="1639.6" y="1324.2" width="10.9" height="10.9"/><rect x="1661.8" y="1332.6" width="10.9" height="10.9"/><rect x="1684" y="1337.1" width="10.9" height="10.9"/><rect x="1706.2" y="1375" width="10.9" height="10.9"/></g>
<g fill="#000000" stroke="#000000" stroke-width="1.25" fill-opacity="1"><circle cx="1556.3" cy="1313" r="5.5"/><circle cx="1578.5" cy="1300.2" r="5.5"/><circle cx="1600.7" cy="1314.1" r="5.5"/><circle cx="1622.9" cy="1298.8" r="5.5"/><circle cx="1645" cy="1303.3" r="5.5"/><circle cx="1667.2" cy="1298.4" r="5.5"/><circle cx="1689.4" cy="1318.6" r="5.5"/><circle cx="1711.6" cy="1332.1" r="5.5"/></g>
</g>
<g>
<text transform="translate(1976.6 1207.6) scale(0.9434 1)" font-size="22.68" stroke-width="0.32" text-anchor="middle">353-15</text>
<path d="M1849.8 1231V1456.4H2104.1M1840.8 1456.4H1849.8M1840.8 1381.5H1849.8M1840.8 1306.6H1849.8M1840.8 1231.7H1849.8M1849.8 1456.4V1465M1913.2 1456.4V1465M1976.6 1456.4V1465M2040 1456.4V1465M2103.4 1456.4V1465" fill="none" stroke="#787878" stroke-width="1.4"/>
<text transform="translate(1839.8 1462.6) scale(0.9615 1)" font-size="17.47" stroke-width="0.38" text-anchor="end">0</text>
<text transform="translate(1839.8 1387.7) scale(0.9615 1)" font-size="17.47" stroke-width="0.38" text-anchor="end">50</text>
<text transform="translate(1839.8 1312.8) scale(0.9615 1)" font-size="17.47" stroke-width="0.38" text-anchor="end">100</text>
<text transform="translate(1839.8 1237.9) scale(0.9615 1)" font-size="17.47" stroke-width="0.38" text-anchor="end">150</text>
<text transform="translate(1849.2 1481.5) scale(0.9615 1)" font-size="17.47" stroke-width="0.38" text-anchor="middle">-8</text>
<text transform="translate(1912.6 1481.5) scale(0.9615 1)" font-size="17.47" stroke-width="0.38" text-anchor="middle">-6</text>
<text transform="translate(1976 1481.5) scale(0.9615 1)" font-size="17.47" stroke-width="0.38" text-anchor="middle">-4</text>
<text transform="translate(2039.4 1481.5) scale(0.9615 1)" font-size="17.47" stroke-width="0.38" text-anchor="middle">-2</text>
<text transform="translate(2103.4 1481.5) scale(0.9615 1)" font-size="17.47" stroke-width="0.38" text-anchor="middle">0</text>
<text transform="translate(1976.6 1506.8) scale(0.9434 1)" font-size="19.19" stroke-width="0.42" text-anchor="middle">Log<tspan font-size="13.57" dy="4.6">10</tspan><tspan dy="-4.6">[sera dilution]</tspan></text>
<text transform="translate(1799.2 1344.1) rotate(-90) scale(0.9434 1)" font-size="19.19" stroke-width="0.42" text-anchor="middle">Relative Infectivity</text>
<path d="M1894.2 1307.3L1896.8 1307.4L1899.4 1307.5L1902.1 1307.6L1904.7 1307.7L1907.3 1307.8L1910 1308L1912.6 1308.1L1915.2 1308.3L1917.9 1308.5L1920.5 1308.8L1923.1 1309L1925.8 1309.3L1928.4 1309.7L1931 1310L1933.7 1310.4L1936.3 1310.9L1938.9 1311.4L1941.6 1312L1944.2 1312.6L1946.8 1313.3L1949.5 1314.1L1952.1 1315L1954.7 1316L1957.4 1317.1L1960 1318.3L1962.6 1319.6L1965.3 1321L1967.9 1322.6L1970.5 1324.4L1973.2 1326.3L1975.8 1328.3L1978.4 1330.6L1981.1 1333L1983.7 1335.7L1986.3 1338.5L1989 1341.5L1991.6 1344.7L1994.2 1348.2L1996.9 1351.7L1999.5 1355.5L2002.1 1359.4L2004.8 1363.5L2007.4 1367.6L2010 1371.9L2012.7 1376.2L2015.3 1380.6L2017.9 1384.9L2020.6 1389.3L2023.2 1393.6L2025.8 1397.8L2028.4 1401.9L2031.1 1405.8L2033.7 1409.7L2036.3 1413.3L2039 1416.8L2041.6 1420.1L2044.2 1423.2L2046.9 1426.1L2049.5 1428.9M1894.2 1306.6L1896.8 1306.6L1899.4 1306.6L1902.1 1306.6L1904.7 1306.6L1907.3 1306.7L1910 1306.7L1912.6 1306.7L1915.2 1306.7L1917.9 1306.7L1920.5 1306.7L1923.1 1306.7L1925.8 1306.8L1928.4 1306.8L1931 1306.8L1933.7 1306.8L1936.3 1306.9L1938.9 1306.9L1941.6 1307L1944.2 1307.1L1946.8 1307.1L1949.5 1307.2L1952.1 1307.4L1954.7 1307.5L1957.4 1307.6L1960 1307.8L1962.6 1308L1965.3 1308.2L1967.9 1308.5L1970.5 1308.9L1973.2 1309.2L1975.8 1309.7L1978.4 1310.2L1981.1 1310.8L1983.7 1311.5L1986.3 1312.3L1989 1313.2L1991.6 1314.3L1994.2 1315.5L1996.9 1317L1999.5 1318.6L2002.1 1320.5L2004.8 1322.6L2007.4 1325L2010 1327.7L2012.7 1330.7L2015.3 1334.1L2017.9 1337.9L2020.6 1342L2023.2 1346.4L2025.8 1351.2L2028.4 1356.3L2031.1 1361.7L2033.7 1367.3L2036.3 1373.1L2039 1379L2041.6 1384.9L2044.2 1390.8L2046.9 1396.6L2049.5 1402.2" fill="none" stroke="#2b2b2b" stroke-width="1.45" stroke-linejoin="round"/>
<g fill="#113c7a" stroke="#081c3c" stroke-width="1.25" fill-opacity="1"><rect x="1888.7" y="1299.7" width="10.9" height="10.9"/><rect x="1910.9" y="1306.8" width="10.9" height="10.9"/><rect x="1933.1" y="1316.1" width="10.9" height="10.9"/><rect x="1955.3" y="1303.2" width="10.9" height="10.9"/><rect x="1977.5" y="1330.5" width="10.9" height="10.9"/><rect x="1999.7" y="1362.6" width="10.9" height="10.9"/><rect x="2021.9" y="1389.5" width="10.9" height="10.9"/><rect x="2044.1" y="1426.7" width="10.9" height="10.9"/></g>
<g fill="#000000" stroke="#000000" stroke-width="1.25" fill-opacity="1"><circle cx="1894.2" cy="1315.6" r="5.5"/><circle cx="1916.4" cy="1300.3" r="5.5"/><circle cx="1938.6" cy="1298.5" r="5.5"/><circle cx="1960.8" cy="1299.1" r="5.5"/><circle cx="1982.9" cy="1302.1" r="5.5"/><circle cx="2005.1" cy="1326.1" r="5.5"/><circle cx="2027.3" cy="1356.9" r="5.5"/><circle cx="2049.5" cy="1399.8" r="5.5"/></g>
</g>
<g>
<text transform="translate(328.8 1585.2) scale(0.9434 1)" font-size="22.68" stroke-width="0.32" text-anchor="middle">353-18</text>
<path d="M202 1608.7V1834.1H456.3M193 1834.1H202M193 1759.2H202M193 1684.3H202M193 1609.4H202M202 1834.1V1842.7M265.4 1834.1V1842.7M328.8 1834.1V1842.7M392.2 1834.1V1842.7M455.6 1834.1V1842.7" fill="none" stroke="#787878" stroke-width="1.4"/>
<text transform="translate(192 1840.3) scale(0.9615 1)" font-size="17.47" stroke-width="0.38" text-anchor="end">0</text>
<text transform="translate(192 1765.4) scale(0.9615 1)" font-size="17.47" stroke-width="0.38" text-anchor="end">50</text>
<text transform="translate(192 1690.5) scale(0.9615 1)" font-size="17.47" stroke-width="0.38" text-anchor="end">100</text>
<text transform="translate(192 1615.6) scale(0.9615 1)" font-size="17.47" stroke-width="0.38" text-anchor="end">150</text>
<text transform="translate(201.4 1859.2) scale(0.9615 1)" font-size="17.47" stroke-width="0.38" text-anchor="middle">-8</text>
<text transform="translate(264.8 1859.2) scale(0.9615 1)" font-size="17.47" stroke-width="0.38" text-anchor="middle">-6</text>
<text transform="translate(328.2 1859.2) scale(0.9615 1)" font-size="17.47" stroke-width="0.38" text-anchor="middle">-4</text>
<text transform="translate(391.6 1859.2) scale(0.9615 1)" font-size="17.47" stroke-width="0.38" text-anchor="middle">-2</text>
<text transform="translate(455.6 1859.2) scale(0.9615 1)" font-size="17.47" stroke-width="0.38" text-anchor="middle">0</text>
<text transform="translate(328.8 1884.5) scale(0.9434 1)" font-size="19.19" stroke-width="0.42" text-anchor="middle">Log<tspan font-size="13.57" dy="4.6">10</tspan><tspan dy="-4.6">[sera dilution]</tspan></text>
<text transform="translate(151.4 1721.8) rotate(-90) scale(0.9434 1)" font-size="19.19" stroke-width="0.42" text-anchor="middle">Relative Infectivity</text>
<path d="M246.4 1684.4L249 1684.4L251.6 1684.4L254.3 1684.4L256.9 1684.5L259.5 1684.5L262.2 1684.5L264.8 1684.5L267.4 1684.5L270.1 1684.6L272.7 1684.6L275.3 1684.6L278 1684.7L280.6 1684.7L283.2 1684.8L285.9 1684.8L288.5 1684.9L291.1 1685L293.8 1685L296.4 1685.1L299 1685.2L301.7 1685.3L304.3 1685.5L306.9 1685.6L309.6 1685.7L312.2 1685.9L314.8 1686.1L317.5 1686.3L320.1 1686.5L322.7 1686.8L325.4 1687.1L328 1687.4L330.6 1687.7L333.3 1688.1L335.9 1688.5L338.5 1689L341.2 1689.5L343.8 1690.1L346.4 1690.8L349.1 1691.5L351.7 1692.3L354.3 1693.2L357 1694.1L359.6 1695.2L362.2 1696.4L364.9 1697.7L367.5 1699.1L370.1 1700.6L372.8 1702.3L375.4 1704.1L378 1706L380.6 1708.2L383.3 1710.5L385.9 1712.9L388.5 1715.6L391.2 1718.4L393.8 1721.4L396.4 1724.5L399.1 1727.9L401.7 1731.3M246.4 1684.3L249 1684.3L251.6 1684.3L254.3 1684.3L256.9 1684.3L259.5 1684.3L262.2 1684.3L264.8 1684.3L267.4 1684.3L270.1 1684.3L272.7 1684.3L275.3 1684.3L278 1684.3L280.6 1684.3L283.2 1684.3L285.9 1684.3L288.5 1684.3L291.1 1684.3L293.8 1684.3L296.4 1684.3L299 1684.3L301.7 1684.3L304.3 1684.3L306.9 1684.3L309.6 1684.3L312.2 1684.3L314.8 1684.3L317.5 1684.3L320.1 1684.3L322.7 1684.3L325.4 1684.3L328 1684.3L330.6 1684.3L333.3 1684.3L335.9 1684.3L338.5 1684.3L341.2 1684.3L343.8 1684.3L346.4 1684.3L349.1 1684.3L351.7 1684.3L354.3 1684.3L357 1684.3L359.6 1684.4L362.2 1684.4L364.9 1684.4L367.5 1684.5L370.1 1684.5L372.8 1684.6L375.4 1684.8L378 1685L380.6 1685.3L383.3 1685.7L385.9 1686.3L388.5 1687.2L391.2 1688.4L393.8 1690.2L396.4 1692.7L399.1 1696.1L401.7 1700.8" fill="none" stroke="#2b2b2b" stroke-width="1.45" stroke-linejoin="round"/>
<g fill="#113c7a" stroke="#081c3c" stroke-width="1.25" fill-opacity="1"><rect x="240.9" y="1674.1" width="10.9" height="10.9"/><rect x="263.1" y="1683.3" width="10.9" height="10.9"/><rect x="285.3" y="1678.8" width="10.9" height="10.9"/><rect x="307.5" y="1675.9" width="10.9" height="10.9"/><rect x="329.7" y="1680.9" width="10.9" height="10.9"/><rect x="351.9" y="1691.9" width="10.9" height="10.9"/><rect x="374.1" y="1701.6" width="10.9" height="10.9"/><rect x="396.3" y="1725.6" width="10.9" height="10.9"/></g>
<g fill="#000000" stroke="#000000" stroke-width="1.25" fill-opacity="1"><circle cx="246.4" cy="1688.8" r="5.5"/><circle cx="268.6" cy="1684.3" r="5.5"/><circle cx="290.8" cy="1685" r="5.5"/><circle cx="312.9" cy="1678.6" r="5.5"/><circle cx="335.1" cy="1684.3" r="5.5"/><circle cx="357.3" cy="1676.8" r="5.5"/><circle cx="379.5" cy="1685.8" r="5.5"/><circle cx="401.7" cy="1700.8" r="5.5"/></g>
</g>
<g>
<text transform="translate(647 1585.2) scale(0.9434 1)" font-size="22.68" stroke-width="0.32" text-anchor="middle">353-19</text>
<path d="M520.2 1608.7V1834.1H774.5M511.2 1834.1H520.2M511.2 1759.2H520.2M511.2 1684.3H520.2M511.2 1609.4H520.2M520.2 1834.1V1842.7M583.6 1834.1V1842.7M647 1834.1V1842.7M710.4 1834.1V1842.7M773.8 1834.1V1842.7" fill="none" stroke="#787878" stroke-width="1.4"/>
<text transform="translate(510.2 1840.3) scale(0.9615 1)" font-size="17.47" stroke-width="0.38" text-anchor="end">0</text>
<text transform="translate(510.2 1765.4) scale(0.9615 1)" font-size="17.47" stroke-width="0.38" text-anchor="end">50</text>
<text transform="translate(510.2 1690.5) scale(0.9615 1)" font-size="17.47" stroke-width="0.38" text-anchor="end">100</text>
<text transform="translate(510.2 1615.6) scale(0.9615 1)" font-size="17.47" stroke-width="0.38" text-anchor="end">150</text>
<text transform="translate(519.6 1859.2) scale(0.9615 1)" font-size="17.47" stroke-width="0.38" text-anchor="middle">-8</text>
<text transform="translate(583 1859.2) scale(0.9615 1)" font-size="17.47" stroke-width="0.38" text-anchor="middle">-6</text>
<text transform="translate(646.4 1859.2) scale(0.9615 1)" font-size="17.47" stroke-width="0.38" text-anchor="middle">-4</text>
<text transform="translate(709.8 1859.2) scale(0.9615 1)" font-size="17.47" stroke-width="0.38" text-anchor="middle">-2</text>
<text transform="translate(773.8 1859.2) scale(0.9615 1)" font-size="17.47" stroke-width="0.38" text-anchor="middle">0</text>
<text transform="translate(647 1884.5) scale(0.9434 1)" font-size="19.19" stroke-width="0.42" text-anchor="middle">Log<tspan font-size="13.57" dy="4.6">10</tspan><tspan dy="-4.6">[sera dilution]</tspan></text>
<text transform="translate(469.6 1721.8) rotate(-90) scale(0.9434 1)" font-size="19.19" stroke-width="0.42" text-anchor="middle">Relative Infectivity</text>
<path d="M564.6 1684.5L567.2 1684.6L569.8 1684.6L572.5 1684.6L575.1 1684.7L577.7 1684.7L580.4 1684.7L583 1684.8L585.6 1684.9L588.3 1684.9L590.9 1685L593.5 1685.1L596.2 1685.2L598.8 1685.3L601.4 1685.4L604.1 1685.5L606.7 1685.6L609.3 1685.8L612 1686L614.6 1686.2L617.2 1686.4L619.9 1686.6L622.5 1686.9L625.1 1687.2L627.8 1687.5L630.4 1687.9L633 1688.3L635.7 1688.8L638.3 1689.3L640.9 1689.9L643.6 1690.5L646.2 1691.2L648.8 1692L651.5 1692.8L654.1 1693.8L656.7 1694.8L659.4 1696L662 1697.2L664.6 1698.6L667.3 1700.1L669.9 1701.8L672.5 1703.6L675.2 1705.5L677.8 1707.7L680.4 1709.9L683.1 1712.4L685.7 1715L688.3 1717.9L691 1720.9L693.6 1724L696.2 1727.4L698.8 1730.9L701.5 1734.5L704.1 1738.3L706.7 1742.2L709.4 1746.2L712 1750.3L714.6 1754.5L717.3 1758.7L719.9 1762.8M564.6 1684.3L567.2 1684.3L569.8 1684.3L572.5 1684.3L575.1 1684.3L577.7 1684.3L580.4 1684.4L583 1684.4L585.6 1684.4L588.3 1684.4L590.9 1684.4L593.5 1684.4L596.2 1684.4L598.8 1684.5L601.4 1684.5L604.1 1684.5L606.7 1684.6L609.3 1684.6L612 1684.7L614.6 1684.7L617.2 1684.8L619.9 1684.9L622.5 1684.9L625.1 1685.1L627.8 1685.2L630.4 1685.3L633 1685.5L635.7 1685.7L638.3 1685.9L640.9 1686.2L643.6 1686.5L646.2 1686.8L648.8 1687.2L651.5 1687.7L654.1 1688.2L656.7 1688.9L659.4 1689.6L662 1690.4L664.6 1691.4L667.3 1692.5L669.9 1693.8L672.5 1695.2L675.2 1696.9L677.8 1698.8L680.4 1700.9L683.1 1703.3L685.7 1705.9L688.3 1708.9L691 1712.2L693.6 1715.8L696.2 1719.8L698.8 1724.1L701.5 1728.7L704.1 1733.6L706.7 1738.8L709.4 1744.1L712 1749.7L714.6 1755.4L717.3 1761.1L719.9 1766.7" fill="none" stroke="#2b2b2b" stroke-width="1.45" stroke-linejoin="round"/>
<g fill="#113c7a" stroke="#081c3c" stroke-width="1.25" fill-opacity="1"><rect x="559.1" y="1677.8" width="10.9" height="10.9"/><rect x="581.3" y="1679.6" width="10.9" height="10.9"/><rect x="603.5" y="1677.4" width="10.9" height="10.9"/><rect x="625.7" y="1703.6" width="10.9" height="10.9"/><rect x="647.9" y="1687.4" width="10.9" height="10.9"/><rect x="670.1" y="1698" width="10.9" height="10.9"/><rect x="692.3" y="1718.2" width="10.9" height="10.9"/><rect x="714.5" y="1761.5" width="10.9" height="10.9"/></g>
<g fill="#000000" stroke="#000000" stroke-width="1.25" fill-opacity="1"><circle cx="564.6" cy="1691.5" r="5.5"/><circle cx="586.8" cy="1678.6" r="5.5"/><circle cx="609" cy="1667.1" r="5.5"/><circle cx="631.2" cy="1677.3" r="5.5"/><circle cx="653.3" cy="1679.2" r="5.5"/><circle cx="675.5" cy="1691.5" r="5.5"/><circle cx="697.7" cy="1732.5" r="5.5"/><circle cx="719.9" cy="1761.9" r="5.5"/></g>
</g>
<g>
<text transform="translate(962.4 1588) scale(0.9434 1)" font-size="22.68" stroke-width="0.32" text-anchor="middle">353-28</text>
<path d="M835.6 1610.1V1835.5H1089.9M826.6 1835.5H835.6M826.6 1760.6H835.6M826.6 1685.7H835.6M826.6 1610.8H835.6M835.6 1835.5V1844.1M899 1835.5V1844.1M962.4 1835.5V1844.1M1025.8 1835.5V1844.1M1089.2 1835.5V1844.1" fill="none" stroke="#787878" stroke-width="1.4"/>
<text transform="translate(825.6 1841.7) scale(0.9615 1)" font-size="17.47" stroke-width="0.38" text-anchor="end">0</text>
<text transform="translate(825.6 1766.8) scale(0.9615 1)" font-size="17.47" stroke-width="0.38" text-anchor="end">50</text>
<text transform="translate(825.6 1691.9) scale(0.9615 1)" font-size="17.47" stroke-width="0.38" text-anchor="end">100</text>
<text transform="translate(825.6 1617) scale(0.9615 1)" font-size="17.47" stroke-width="0.38" text-anchor="end">150</text>
<text transform="translate(835 1860.6) scale(0.9615 1)" font-size="17.47" stroke-width="0.38" text-anchor="middle">-8</text>
<text transform="translate(898.4 1860.6) scale(0.9615 1)" font-size="17.47" stroke-width="0.38" text-anchor="middle">-6</text>
<text transform="translate(961.8 1860.6) scale(0.9615 1)" font-size="17.47" stroke-width="0.38" text-anchor="middle">-4</text>
<text transform="translate(1025.2 1860.6) scale(0.9615 1)" font-size="17.47" stroke-width="0.38" text-anchor="middle">-2</text>
<text transform="translate(1089.2 1860.6) scale(0.9615 1)" font-size="17.47" stroke-width="0.38" text-anchor="middle">0</text>
<text transform="translate(962.4 1885.9) scale(0.9434 1)" font-size="19.19" stroke-width="0.42" text-anchor="middle">Log<tspan font-size="13.57" dy="4.6">10</tspan><tspan dy="-4.6">[sera dilution]</tspan></text>
<text transform="translate(785 1723.2) rotate(-90) scale(0.9434 1)" font-size="19.19" stroke-width="0.42" text-anchor="middle">Relative Infectivity</text>
<path d="M880 1686.9L882.6 1687L885.2 1687.1L887.9 1687.3L890.5 1687.4L893.1 1687.6L895.8 1687.7L898.4 1687.9L901 1688.1L903.7 1688.3L906.3 1688.5L908.9 1688.8L911.6 1689L914.2 1689.3L916.8 1689.6L919.5 1689.9L922.1 1690.3L924.7 1690.7L927.4 1691.1L930 1691.6L932.6 1692.1L935.3 1692.6L937.9 1693.2L940.5 1693.8L943.2 1694.4L945.8 1695.2L948.4 1695.9L951.1 1696.8L953.7 1697.7L956.3 1698.6L959 1699.7L961.6 1700.8L964.2 1701.9L966.9 1703.2L969.5 1704.5L972.1 1706L974.8 1707.5L977.4 1709.1L980 1710.8L982.7 1712.6L985.3 1714.5L987.9 1716.5L990.6 1718.6L993.2 1720.8L995.8 1723.2L998.5 1725.6L1001.1 1728.1L1003.7 1730.7L1006.4 1733.4L1009 1736.1L1011.6 1739L1014.2 1741.9L1016.9 1744.9L1019.5 1747.9L1022.1 1751L1024.8 1754.1L1027.4 1757.3L1030 1760.4L1032.7 1763.6L1035.3 1766.7M880 1685.7L882.6 1685.7L885.2 1685.7L887.9 1685.7L890.5 1685.7L893.1 1685.7L895.8 1685.7L898.4 1685.7L901 1685.7L903.7 1685.7L906.3 1685.7L908.9 1685.7L911.6 1685.7L914.2 1685.7L916.8 1685.7L919.5 1685.7L922.1 1685.7L924.7 1685.7L927.4 1685.7L930 1685.7L932.6 1685.7L935.3 1685.7L937.9 1685.7L940.5 1685.7L943.2 1685.7L945.8 1685.7L948.4 1685.8L951.1 1685.8L953.7 1685.8L956.3 1685.8L959 1685.8L961.6 1685.9L964.2 1685.9L966.9 1686L969.5 1686.1L972.1 1686.1L974.8 1686.3L977.4 1686.4L980 1686.6L982.7 1686.8L985.3 1687.1L987.9 1687.5L990.6 1687.9L993.2 1688.5L995.8 1689.2L998.5 1690L1001.1 1691.1L1003.7 1692.5L1006.4 1694.2L1009 1696.2L1011.6 1698.7L1014.2 1701.7L1016.9 1705.3L1019.5 1709.6L1022.1 1714.7L1024.8 1720.4L1027.4 1727L1030 1734.3L1032.7 1742.1L1035.3 1750.5" fill="none" stroke="#2b2b2b" stroke-width="1.45" stroke-linejoin="round"/>
<g fill="#113c7a" stroke="#081c3c" stroke-width="1.25" fill-opacity="1"><rect x="874.5" y="1675.9" width="10.9" height="10.9"/><rect x="896.7" y="1688.3" width="10.9" height="10.9"/><rect x="918.9" y="1694.8" width="10.9" height="10.9"/><rect x="941.1" y="1703.9" width="10.9" height="10.9"/><rect x="963.3" y="1699" width="10.9" height="10.9"/><rect x="985.5" y="1715.2" width="10.9" height="10.9"/><rect x="1007.7" y="1710.2" width="10.9" height="10.9"/><rect x="1029.9" y="1778.5" width="10.9" height="10.9"/></g>
<g fill="#000000" stroke="#000000" stroke-width="1.25" fill-opacity="1"><circle cx="880" cy="1688.4" r="5.5"/><circle cx="902.2" cy="1683.3" r="5.5"/><circle cx="924.4" cy="1678.2" r="5.5"/><circle cx="946.6" cy="1676" r="5.5"/><circle cx="968.7" cy="1683.6" r="5.5"/><circle cx="990.9" cy="1683.6" r="5.5"/><circle cx="1013.1" cy="1702.2" r="5.5"/><circle cx="1035.3" cy="1750.1" r="5.5"/></g>
</g>
<g>
<text transform="translate(1296.9 1585.6) scale(0.9434 1)" font-size="22.68" stroke-width="0.32" text-anchor="middle">353-33</text>
<path d="M1170.1 1609.6V1835H1424.4M1161.1 1835H1170.1M1161.1 1760.1H1170.1M1161.1 1685.2H1170.1M1161.1 1610.3H1170.1M1170.1 1835V1843.6M1233.5 1835V1843.6M1296.9 1835V1843.6M1360.3 1835V1843.6M1423.7 1835V1843.6" fill="none" stroke="#787878" stroke-width="1.4"/>
<text transform="translate(1160.1 1841.2) scale(0.9615 1)" font-size="17.47" stroke-width="0.38" text-anchor="end">0</text>
<text transform="translate(1160.1 1766.3) scale(0.9615 1)" font-size="17.47" stroke-width="0.38" text-anchor="end">50</text>
<text transform="translate(1160.1 1691.4) scale(0.9615 1)" font-size="17.47" stroke-width="0.38" text-anchor="end">100</text>
<text transform="translate(1160.1 1616.5) scale(0.9615 1)" font-size="17.47" stroke-width="0.38" text-anchor="end">150</text>
<text transform="translate(1169.5 1860.1) scale(0.9615 1)" font-size="17.47" stroke-width="0.38" text-anchor="middle">-8</text>
<text transform="translate(1232.9 1860.1) scale(0.9615 1)" font-size="17.47" stroke-width="0.38" text-anchor="middle">-6</text>
<text transform="translate(1296.3 1860.1) scale(0.9615 1)" font-size="17.47" stroke-width="0.38" text-anchor="middle">-4</text>
<text transform="translate(1359.7 1860.1) scale(0.9615 1)" font-size="17.47" stroke-width="0.38" text-anchor="middle">-2</text>
<text transform="translate(1423.7 1860.1) scale(0.9615 1)" font-size="17.47" stroke-width="0.38" text-anchor="middle">0</text>
<text transform="translate(1296.9 1885.4) scale(0.9434 1)" font-size="19.19" stroke-width="0.42" text-anchor="middle">Log<tspan font-size="13.57" dy="4.6">10</tspan><tspan dy="-4.6">[sera dilution]</tspan></text>
<text transform="translate(1119.5 1722.7) rotate(-90) scale(0.9434 1)" font-size="19.19" stroke-width="0.42" text-anchor="middle">Relative Infectivity</text>
<path d="M1214.5 1693L1217.1 1693.3L1219.7 1693.7L1222.4 1694.2L1225 1694.6L1227.6 1695.1L1230.3 1695.6L1232.9 1696.1L1235.5 1696.6L1238.2 1697.2L1240.8 1697.7L1243.4 1698.3L1246.1 1699L1248.7 1699.6L1251.3 1700.3L1254 1701L1256.6 1701.8L1259.2 1702.5L1261.9 1703.3L1264.5 1704.2L1267.1 1705.1L1269.8 1706L1272.4 1706.9L1275 1707.9L1277.7 1708.9L1280.3 1709.9L1282.9 1711L1285.6 1712.1L1288.2 1713.3L1290.8 1714.5L1293.5 1715.7L1296.1 1717L1298.7 1718.3L1301.4 1719.6L1304 1721L1306.6 1722.4L1309.3 1723.9L1311.9 1725.4L1314.5 1726.9L1317.2 1728.5L1319.8 1730.1L1322.4 1731.7L1325.1 1733.4L1327.7 1735.1L1330.3 1736.8L1333 1738.5L1335.6 1740.3L1338.2 1742.1L1340.9 1744L1343.5 1745.8L1346.1 1747.7L1348.7 1749.5L1351.4 1751.4L1354 1753.4L1356.6 1755.3L1359.3 1757.2L1361.9 1759.1L1364.5 1761L1367.2 1763L1369.8 1764.9M1214.5 1685.2L1217.1 1685.2L1219.7 1685.2L1222.4 1685.2L1225 1685.2L1227.6 1685.2L1230.3 1685.2L1232.9 1685.2L1235.5 1685.2L1238.2 1685.2L1240.8 1685.2L1243.4 1685.2L1246.1 1685.2L1248.7 1685.2L1251.3 1685.2L1254 1685.2L1256.6 1685.2L1259.2 1685.2L1261.9 1685.2L1264.5 1685.2L1267.1 1685.2L1269.8 1685.2L1272.4 1685.2L1275 1685.2L1277.7 1685.2L1280.3 1685.3L1282.9 1685.3L1285.6 1685.3L1288.2 1685.3L1290.8 1685.3L1293.5 1685.4L1296.1 1685.4L1298.7 1685.5L1301.4 1685.6L1304 1685.6L1306.6 1685.8L1309.3 1685.9L1311.9 1686.1L1314.5 1686.3L1317.2 1686.5L1319.8 1686.9L1322.4 1687.3L1325.1 1687.8L1327.7 1688.4L1330.3 1689.2L1333 1690.2L1335.6 1691.4L1338.2 1692.8L1340.9 1694.6L1343.5 1696.7L1346.1 1699.3L1348.7 1702.4L1351.4 1706.1L1354 1710.5L1356.6 1715.5L1359.3 1721.2L1361.9 1727.6L1364.5 1734.6L1367.2 1742.2L1369.8 1750.2" fill="none" stroke="#2b2b2b" stroke-width="1.45" stroke-linejoin="round"/>
<g fill="#113c7a" stroke="#081c3c" stroke-width="1.25" fill-opacity="1"><rect x="1209" y="1663.9" width="10.9" height="10.9"/><rect x="1231.2" y="1694.3" width="10.9" height="10.9"/><rect x="1253.4" y="1710.3" width="10.9" height="10.9"/><rect x="1275.6" y="1710.3" width="10.9" height="10.9"/><rect x="1297.8" y="1719.4" width="10.9" height="10.9"/><rect x="1320" y="1720.9" width="10.9" height="10.9"/><rect x="1342.2" y="1734.4" width="10.9" height="10.9"/><rect x="1364.4" y="1766.6" width="10.9" height="10.9"/></g>
<g fill="#000000" stroke="#000000" stroke-width="1.25" fill-opacity="1"><circle cx="1214.5" cy="1699.7" r="5.5"/><circle cx="1236.7" cy="1669" r="5.5"/><circle cx="1258.9" cy="1684.2" r="5.5"/><circle cx="1281" cy="1674.9" r="5.5"/><circle cx="1303.2" cy="1670.7" r="5.5"/><circle cx="1325.4" cy="1689.1" r="5.5"/><circle cx="1347.6" cy="1702.1" r="5.5"/><circle cx="1369.8" cy="1749.9" r="5.5"/></g>
</g>
<g>
<text transform="translate(1639 1587.4) scale(0.9434 1)" font-size="22.68" stroke-width="0.32" text-anchor="middle">353-35</text>
<path d="M1512.2 1610.1V1835.5H1766.5M1503.2 1835.5H1512.2M1503.2 1760.6H1512.2M1503.2 1685.7H1512.2M1503.2 1610.8H1512.2M1512.2 1835.5V1844.1M1575.6 1835.5V1844.1M1639 1835.5V1844.1M1702.4 1835.5V1844.1M1765.8 1835.5V1844.1" fill="none" stroke="#787878" stroke-width="1.4"/>
<text transform="translate(1502.2 1841.7) scale(0.9615 1)" font-size="17.47" stroke-width="0.38" text-anchor="end">0</text>
<text transform="translate(1502.2 1766.8) scale(0.9615 1)" font-size="17.47" stroke-width="0.38" text-anchor="end">50</text>
<text transform="translate(1502.2 1691.9) scale(0.9615 1)" font-size="17.47" stroke-width="0.38" text-anchor="end">100</text>
<text transform="translate(1502.2 1617) scale(0.9615 1)" font-size="17.47" stroke-width="0.38" text-anchor="end">150</text>
<text transform="translate(1511.6 1860.6) scale(0.9615 1)" font-size="17.47" stroke-width="0.38" text-anchor="middle">-8</text>
<text transform="translate(1575 1860.6) scale(0.9615 1)" font-size="17.47" stroke-width="0.38" text-anchor="middle">-6</text>
<text transform="translate(1638.4 1860.6) scale(0.9615 1)" font-size="17.47" stroke-width="0.38" text-anchor="middle">-4</text>
<text transform="translate(1701.8 1860.6) scale(0.9615 1)" font-size="17.47" stroke-width="0.38" text-anchor="middle">-2</text>
<text transform="translate(1765.8 1860.6) scale(0.9615 1)" font-size="17.47" stroke-width="0.38" text-anchor="middle">0</text>
<text transform="translate(1639 1885.9) scale(0.9434 1)" font-size="19.19" stroke-width="0.42" text-anchor="middle">Log<tspan font-size="13.57" dy="4.6">10</tspan><tspan dy="-4.6">[sera dilution]</tspan></text>
<text transform="translate(1461.6 1723.2) rotate(-90) scale(0.9434 1)" font-size="19.19" stroke-width="0.42" text-anchor="middle">Relative Infectivity</text>
<path d="M1556.6 1685.7H1711.9M1556.6 1685.7L1559.2 1685.7L1561.8 1685.7L1564.5 1685.7L1567.1 1685.7L1569.7 1685.7L1572.4 1685.7L1575 1685.7L1577.6 1685.7L1580.3 1685.7L1582.9 1685.7L1585.5 1685.7L1588.2 1685.7L1590.8 1685.7L1593.4 1685.7L1596.1 1685.7L1598.7 1685.7L1601.3 1685.7L1604 1685.7L1606.6 1685.7L1609.2 1685.7L1611.9 1685.7L1614.5 1685.7L1617.1 1685.7L1619.8 1685.8L1622.4 1685.8L1625 1685.8L1627.7 1685.8L1630.3 1685.8L1632.9 1685.9L1635.6 1685.9L1638.2 1686L1640.8 1686L1643.5 1686.1L1646.1 1686.2L1648.7 1686.3L1651.4 1686.5L1654 1686.7L1656.6 1686.9L1659.3 1687.2L1661.9 1687.6L1664.5 1688L1667.2 1688.6L1669.8 1689.3L1672.4 1690.2L1675.1 1691.3L1677.7 1692.6L1680.3 1694.2L1683 1696.1L1685.6 1698.4L1688.2 1701.3L1690.8 1704.6L1693.5 1708.6L1696.1 1713.2L1698.7 1718.5L1701.4 1724.5L1704 1731.1L1706.6 1738.4L1709.3 1746.1L1711.9 1754.2" fill="none" stroke="#2b2b2b" stroke-width="1.45" stroke-linejoin="round"/>
<g fill="#113c7a" stroke="#081c3c" stroke-width="1.25" fill-opacity="1"><rect x="1551.1" y="1676.4" width="10.9" height="10.9"/><rect x="1573.3" y="1688.8" width="10.9" height="10.9"/><rect x="1595.5" y="1676.4" width="10.9" height="10.9"/><rect x="1617.7" y="1680.5" width="10.9" height="10.9"/><rect x="1639.9" y="1699.3" width="10.9" height="10.9"/><rect x="1662.1" y="1689.7" width="10.9" height="10.9"/><rect x="1684.3" y="1680.2" width="10.9" height="10.9"/><rect x="1706.5" y="1715.5" width="10.9" height="10.9"/></g>
<g fill="#000000" stroke="#000000" stroke-width="1.25" fill-opacity="1"><circle cx="1556.6" cy="1699.5" r="5.5"/><circle cx="1578.8" cy="1669.5" r="5.5"/><circle cx="1601" cy="1672.7" r="5.5"/><circle cx="1623.2" cy="1686" r="5.5"/><circle cx="1645.3" cy="1675.5" r="5.5"/><circle cx="1667.5" cy="1678.2" r="5.5"/><circle cx="1689.7" cy="1708.2" r="5.5"/><circle cx="1711.9" cy="1753.1" r="5.5"/></g>
</g>
<path d="M74.1 34.2V1871.9" stroke="#000" stroke-width="3.7" stroke-linecap="round" fill="none"/>
<text transform="translate(41.8 905) rotate(-90) scale(0.9174 1)" font-size="43.27" stroke-width="0.26" text-anchor="middle">Convalescent Sera: Vero-hACE2-TMPRSS2 (1 month)</text>
<circle cx="452.5" cy="1966.1" r="15" fill="#363636" stroke="#0d0d0d" stroke-width="2.5"/>
<text transform="translate(519.6 1980.3) scale(0.9434 1)" font-size="42.4" stroke-width="0.34">D614G</text>
<circle cx="732.5" cy="1966.1" r="15" fill="#773c0a" stroke="#241000" stroke-width="2.5"/>
<text transform="translate(799.6 1980.3) scale(0.9434 1)" font-size="42.4" stroke-width="0.34">B.1.1.7</text>
<path d="M998.1 1966.1H1063.1" stroke="#0a0a0a" stroke-width="2.9" fill="none"/>
<circle cx="1030.6" cy="1966.1" r="15" fill="#e3120b" stroke="#3c0000" stroke-width="2.5"/>
<text transform="translate(1098 1980.3) scale(0.9434 1)" font-size="42.4" stroke-width="0.34">K417N/D614G</text>
<circle cx="1478.9" cy="1966.1" r="15" fill="#ea1fea" stroke="#3d0a3d" stroke-width="2.5"/>
<text transform="translate(1546.6 1980.3) scale(0.9434 1)" font-size="42.29" stroke-width="0.34">E484K/N501Y/D614G</text>
<path d="M350.6 2020.6L365.4 2050.4L335.8 2050.4Z" fill="#e8177d" stroke="#4a0a28" stroke-width="2.4" stroke-linejoin="round"/>
<text transform="translate(417.6 2051.8) scale(0.9434 1)" font-size="42.19" stroke-width="0.34">K417N/E484K/N501Y/D614G</text>
<path d="M1081.7 2037H1146.7" stroke="#0a0a0a" stroke-width="2.9" fill="none"/>
<rect x="1099.4" y="2022.2" width="29.6" height="29.6" fill="#7a0b4b" stroke="#33001c" stroke-width="2.5"/>
<text transform="translate(1182.4 2051.8) scale(0.9434 1)" font-size="41.71" stroke-width="0.33">Wash SA-B.1.351</text>
<path d="M1613.9 2037H1678.9" stroke="#0a0a0a" stroke-width="2.9" fill="none"/>
<rect x="1631.6" y="2022.2" width="29.6" height="29.6" fill="#113c7a" stroke="#081c3c" stroke-width="2.5"/>
<text transform="translate(1714.6 2051.8) scale(0.9434 1)" font-size="41.98" stroke-width="0.34">Wash BR-B.1.1.248</text>
</svg>
</body></html>
